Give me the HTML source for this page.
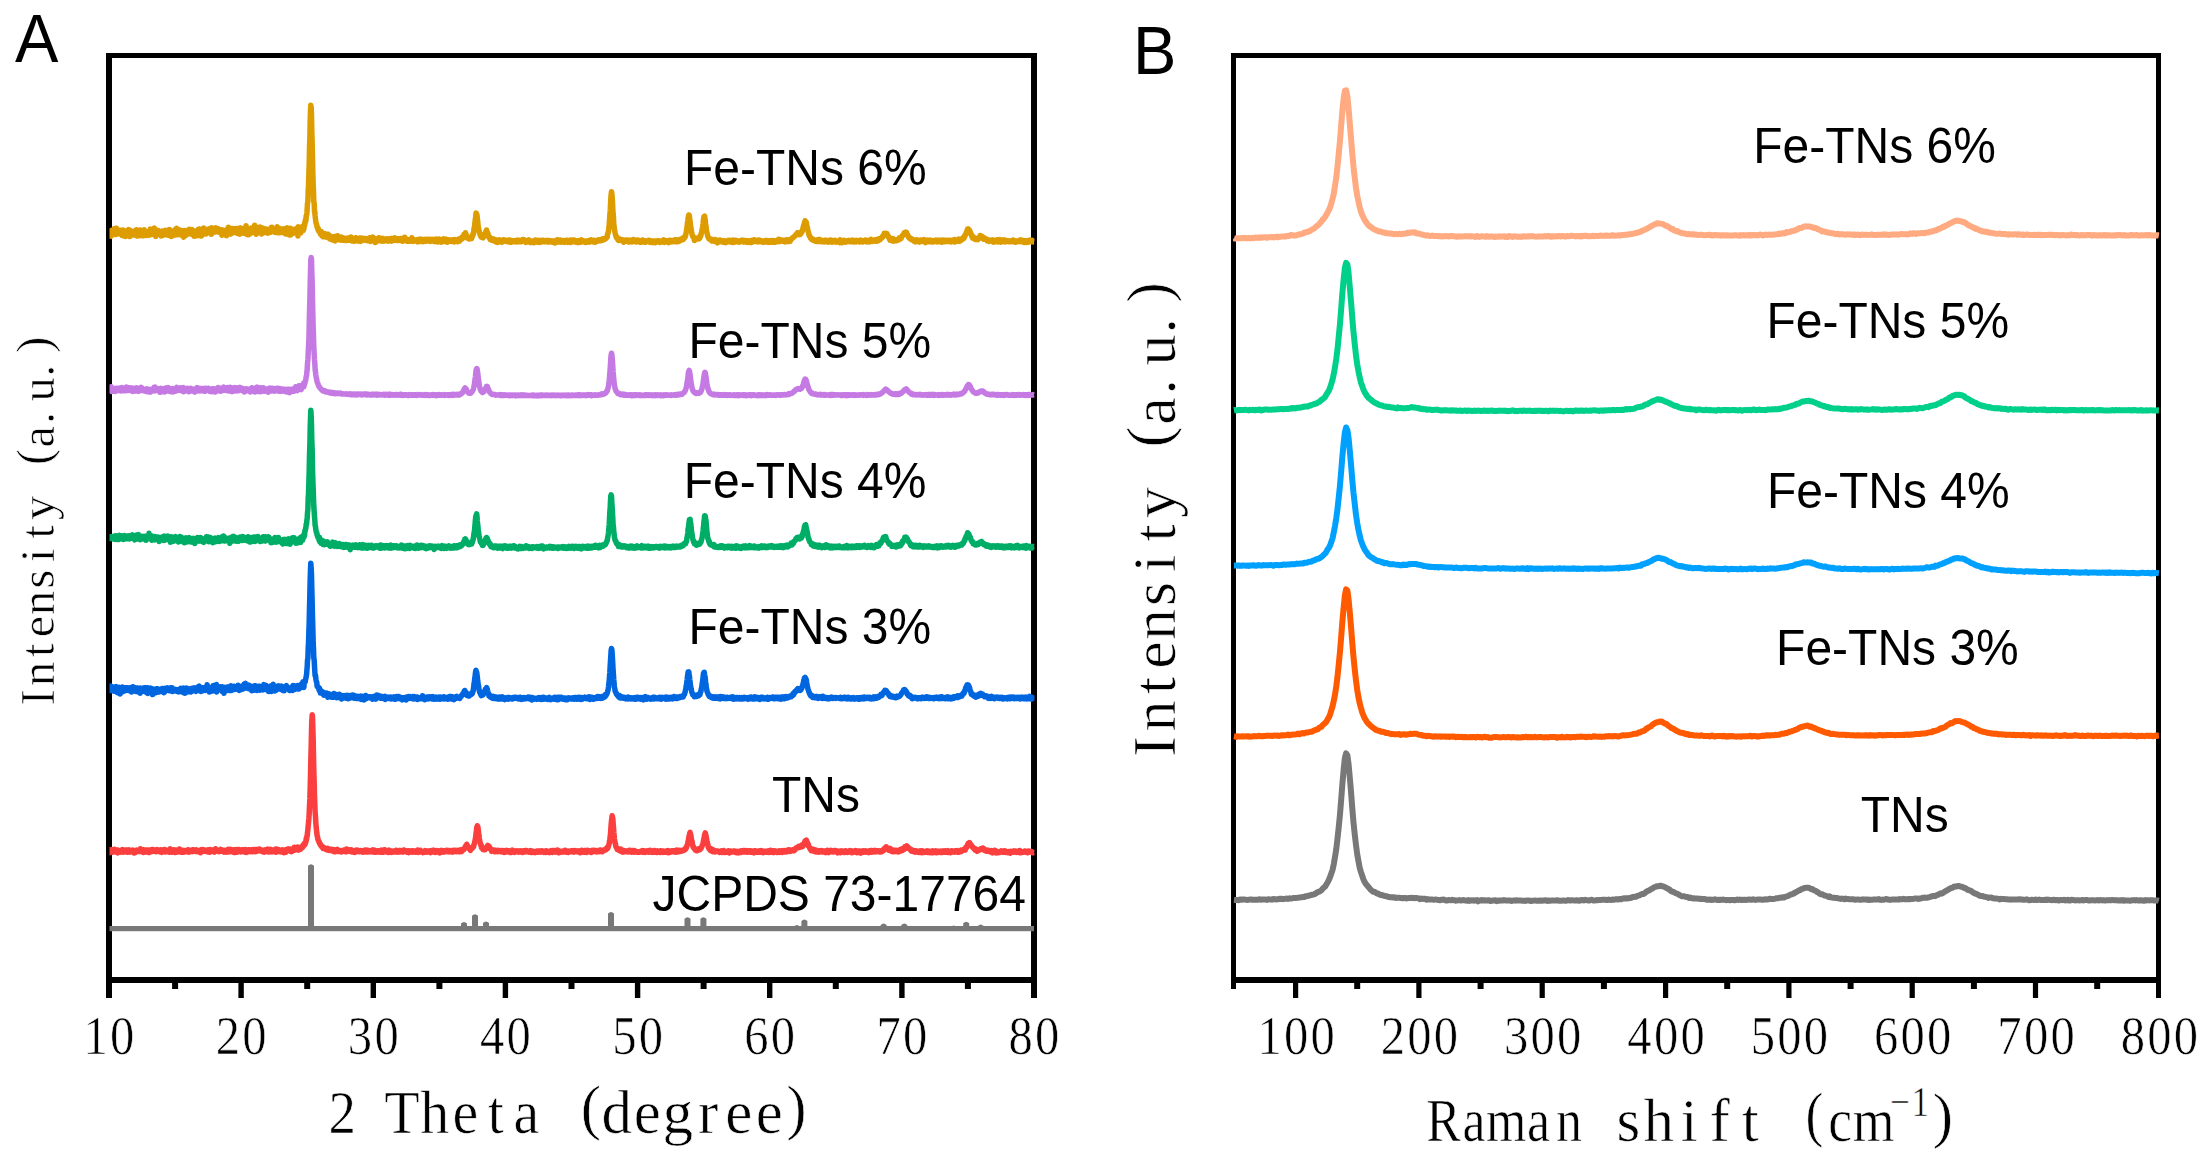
<!DOCTYPE html>
<html lang="en"><head><meta charset="utf-8"><title>XRD and Raman of TNs and Fe-TNs</title>
<style>html,body{margin:0;padding:0;background:#fff}svg{display:block}</style></head>
<body>
<svg width="2210" height="1165" viewBox="0 0 2210 1165">
<rect width="2210" height="1165" fill="#fff"/>
<g fill="#000">
<rect x="106" y="53" width="6" height="945"/><rect x="1031" y="53" width="6" height="945"/><rect x="106" y="53" width="931" height="5"/><rect x="106" y="977" width="931" height="6"/>
<rect x="238.4" y="980" width="5.4" height="18"/>
<rect x="370.6" y="980" width="5.4" height="18"/>
<rect x="502.7" y="980" width="5.4" height="18"/>
<rect x="634.9" y="980" width="5.4" height="18"/>
<rect x="767" y="980" width="5.4" height="18"/>
<rect x="899.2" y="980" width="5.4" height="18"/>
<rect x="172.1" y="980" width="6" height="9"/>
<rect x="304.2" y="980" width="6" height="9"/>
<rect x="436.4" y="980" width="6" height="9"/>
<rect x="568.5" y="980" width="6" height="9"/>
<rect x="700.6" y="980" width="6" height="9"/>
<rect x="832.8" y="980" width="6" height="9"/>
<rect x="964.9" y="980" width="6" height="9"/>
<rect x="1231" y="53" width="5" height="936"/><rect x="2156" y="53" width="5" height="945"/><rect x="1231" y="53" width="930" height="5"/><rect x="1231" y="977" width="930" height="6"/>
<rect x="1293" y="980" width="5.2" height="18"/>
<rect x="1416.3" y="980" width="5.2" height="18"/>
<rect x="1539.6" y="980" width="5.2" height="18"/>
<rect x="1663" y="980" width="5.2" height="18"/>
<rect x="1786.3" y="980" width="5.2" height="18"/>
<rect x="1909.6" y="980" width="5.2" height="18"/>
<rect x="2032.9" y="980" width="5.2" height="18"/>
<rect x="1354.2" y="980" width="6" height="9"/>
<rect x="1477.6" y="980" width="6" height="9"/>
<rect x="1600.9" y="980" width="6" height="9"/>
<rect x="1724.2" y="980" width="6" height="9"/>
<rect x="1847.6" y="980" width="6" height="9"/>
<rect x="1970.9" y="980" width="6" height="9"/>
<rect x="2094.2" y="980" width="6" height="9"/>
</g>
<defs><clipPath id="ca"><rect x="109.5" y="58" width="925" height="920"/></clipPath><clipPath id="cb"><rect x="1233" y="58" width="926.5" height="920"/></clipPath></defs>
<g id="xrd" clip-path="url(#ca)">
<rect x="109" y="926" width="925" height="5.2" fill="#787878"/>
<path d="M308 929V865.8q3 -3 6 0V929z" fill="#787878"/>
<path d="M461 929V923.5q3 -3 6 0V929z" fill="#787878"/>
<path d="M472 929V915.8q3 -3 6 0V929z" fill="#787878"/>
<path d="M483 929V923q3 -3 6 0V929z" fill="#787878"/>
<path d="M608 929V913.4q3 -3 6 0V929z" fill="#787878"/>
<path d="M684.5 929V918.8q3 -3 6 0V929z" fill="#787878"/>
<path d="M700.4 929V918.8q3 -3 6 0V929z" fill="#787878"/>
<path d="M793.8 929V926.5q3 -3 6 0V929z" fill="#787878"/>
<path d="M801.4 929V921q3 -3 6 0V929z" fill="#787878"/>
<path d="M880.6 929V924.9q3 -3 6 0V929z" fill="#787878"/>
<path d="M901.3 929V924.9q3 -3 6 0V929z" fill="#787878"/>
<path d="M950.6 929V927.1q3 -3 6 0V929z" fill="#787878"/>
<path d="M963.2 929V923.2q3 -3 6 0V929z" fill="#787878"/>
<path d="M977.7 929V926q3 -3 6 0V929z" fill="#787878"/>
<polyline fill="none" stroke="#fb3f3f" stroke-width="5.5" stroke-linejoin="round" points="109,851.9 109.3,849.5 109.7,852.7 110,850.3 110.3,851.5 110.7,850.5 111,851.2 111.3,849.8 111.6,850.9 112,849.7 112.3,850.4 112.6,851 113,852.2 113.3,850.3 113.6,850 114,849.6 114.3,851.2 114.6,849.2 114.9,850.8 115.3,849.8 115.6,851.2 115.9,850.8 116.3,852 116.6,850.2 116.9,852.4 117.3,850 117.6,853 117.9,850.1 118.3,852 118.6,850.6 118.9,851.9 119.2,851.7 119.6,850.9 119.9,851.5 120.2,850.8 120.6,850.9 120.9,852.1 121.2,850.8 121.6,851.1 121.9,850 122.2,850.8 122.5,849.6 122.9,852 123.2,850.6 123.5,852.2 123.9,850.2 124.2,850.1 124.5,850.5 124.9,851.6 125.2,850.7 125.5,851.5 125.8,850 126.2,851.8 126.5,850.1 126.8,852.2 127.2,850 127.5,852.2 127.8,850.6 128.2,852.1 128.5,850.6 128.8,851.6 129.2,849.9 129.5,850.5 129.8,851.1 130.1,852.2 130.5,850.8 130.8,851 131.1,850.9 131.5,851.7 131.8,850.2 132.1,850.4 132.5,850.3 132.8,850.7 133.1,850.2 133.4,851.5 133.8,851 134.1,853 134.4,851 134.8,852.9 135.1,851.3 135.4,851.2 135.8,850.7 136.1,851.3 136.4,851.4 136.8,850.1 137.1,850.6 137.4,851.4 137.7,850.8 138.1,850.8 138.4,850.9 138.7,851.5 139.1,850.7 139.4,850.8 139.7,850.8 140.1,851.1 140.4,848.8 140.7,851.6 141,850.5 141.4,851.1 141.7,850.5 142,851.1 142.4,849.6 142.7,850.8 143,850.1 143.4,852.5 143.7,849.8 144,851.9 144.3,850.6 144.7,851.5 145,850.6 145.3,851.7 145.7,850.2 146,852.1 146.3,850 146.7,851.6 147,851.1 147.3,851.6 147.7,850 148,852 148.3,850.5 148.6,852.4 149,850.4 149.3,852.6 149.6,850.2 150,851.3 150.3,850.4 150.6,851.4 151,849.9 151.3,851.5 151.6,850.8 151.9,851.3 152.3,849.5 152.6,851 152.9,849.5 153.3,850.9 153.6,849.7 153.9,851.2 154.3,850.6 154.6,851 154.9,850.6 155.3,850.9 155.6,850.7 155.9,851.7 156.2,850 156.6,850.4 156.9,849.6 157.2,851.6 157.6,849.7 157.9,851.6 158.2,850.6 158.6,850.7 158.9,850.7 159.2,850.8 159.5,851.2 159.9,851.5 160.2,850.2 160.5,852.1 160.9,849.7 161.2,850.4 161.5,851.4 161.9,852.3 162.2,851.7 162.5,851.4 162.8,850.4 163.2,851 163.5,850.3 163.8,851.3 164.2,849.5 164.5,851.6 164.8,849.4 165.2,852 165.5,850.8 165.8,851.7 166.2,850.7 166.5,851.6 166.8,850.2 167.1,851.6 167.5,850.3 167.8,851.3 168.1,851.7 168.5,851.6 168.8,851 169.1,852.1 169.5,851.1 169.8,852.2 170.1,848.7 170.4,852 170.8,850.6 171.1,851 171.4,850.6 171.8,852.3 172.1,850 172.4,851.8 172.8,850.6 173.1,851.9 173.4,850.2 173.8,851.6 174.1,849.7 174.4,850.6 174.7,850.2 175.1,852.5 175.4,851.3 175.7,851.9 176.1,851.3 176.4,851.4 176.7,850.3 177.1,852.1 177.4,850.2 177.7,851.4 178,849.7 178.4,850.7 178.7,850.4 179,850.6 179.4,849 179.7,851.9 180,850.2 180.4,851 180.7,849.7 181,851 181.3,852.1 181.7,852 182,850.7 182.3,851.7 182.7,850.5 183,852.2 183.3,850.6 183.7,852 184,850.4 184.3,852.1 184.7,851.3 185,851.9 185.3,851 185.6,851.3 186,850.6 186.3,851.5 186.6,850.8 187,851.7 187.3,850.1 187.6,851.1 188,851.1 188.3,852 188.6,849.8 188.9,852.2 189.3,850.1 189.6,851.7 189.9,850.6 190.3,851.2 190.6,851 190.9,851.2 191.3,850.5 191.6,851.5 191.9,851 192.3,851.5 192.6,849.8 192.9,851.3 193.2,849.7 193.6,851.3 193.9,850.6 194.2,850.7 194.6,851 194.9,850.8 195.2,850.1 195.6,851.5 195.9,850.2 196.2,851.1 196.5,849.9 196.9,851.2 197.2,850.9 197.5,850.7 197.9,851.6 198.2,851.5 198.5,850.6 198.9,850.5 199.2,850.8 199.5,852.3 199.8,850.5 200.2,852.3 200.5,852.7 200.8,851 201.2,850.2 201.5,851.3 201.8,849.6 202.2,851.5 202.5,849.7 202.8,851.3 203.2,849.6 203.5,851.1 203.8,850.2 204.1,851.3 204.5,850.5 204.8,851 205.1,850.1 205.5,850.7 205.8,851 206.1,850.9 206.5,850.5 206.8,851.6 207.1,851.2 207.4,850.6 207.8,849.9 208.1,852.1 208.4,850.3 208.8,850.6 209.1,851.8 209.4,852.2 209.8,849.5 210.1,851.9 210.4,850.4 210.8,851.5 211.1,850.7 211.4,851 211.7,850 212.1,851 212.4,850.7 212.7,851.5 213.1,851.2 213.4,850.4 213.7,851.5 214.1,851 214.4,850.8 214.7,852.1 215,850.8 215.4,850.8 215.7,848.8 216,850.1 216.4,850.4 216.7,850.8 217,850.1 217.4,850.6 217.7,850 218,850.6 218.3,850.9 218.7,851.1 219,851.5 219.3,851.2 219.7,850.7 220,851.5 220.3,850 220.7,849.5 221,850.3 221.3,851.2 221.7,850 222,850.3 222.3,850.4 222.6,850.9 223,850.4 223.3,851.3 223.6,850.6 224,852.1 224.3,850.8 224.6,851.9 225,850.3 225.3,851.7 225.6,851.6 225.9,851.8 226.3,850.6 226.6,852.2 226.9,849.9 227.3,851.2 227.6,849.9 227.9,852 228.3,849.3 228.6,851.5 228.9,850.5 229.3,851.6 229.6,850.7 229.9,851.7 230.2,851.2 230.6,851 230.9,849.4 231.2,851.6 231.6,850.4 231.9,851.5 232.2,851.3 232.6,850.9 232.9,850.2 233.2,852.2 233.5,849.7 233.9,852.4 234.2,850.7 234.5,851.5 234.9,849.8 235.2,852.6 235.5,850.7 235.9,851.1 236.2,849.9 236.5,851.9 236.8,849.5 237.2,852.3 237.5,850.6 237.8,851.8 238.2,850.4 238.5,850.5 238.8,849.5 239.2,851.1 239.5,850.3 239.8,849.9 240.2,850.6 240.5,851.2 240.8,851.9 241.1,851 241.5,849.9 241.8,851.6 242.1,849.8 242.5,851.3 242.8,851.1 243.1,851.2 243.5,849.8 243.8,852 244.1,850.1 244.4,852.1 244.8,851 245.1,851.7 245.4,849.5 245.8,851.7 246.1,850.6 246.4,852.6 246.8,850 247.1,851.4 247.4,850.9 247.8,852 248.1,849.7 248.4,850.3 248.7,850.3 249.1,850.9 249.4,849.7 249.7,851.6 250.1,850.3 250.4,851.6 250.7,850.2 251.1,851.4 251.4,851.4 251.7,851.1 252,850.4 252.4,851.6 252.7,849.5 253,850.3 253.4,850.5 253.7,850.7 254,850.4 254.4,851.3 254.7,849.6 255,851.8 255.3,850.5 255.7,850.2 256,849.5 256.3,851.5 256.7,849.6 257,851.4 257.3,850.7 257.7,850 258,850.2 258.3,850.5 258.7,850.4 259,850.6 259.3,849 259.6,849.9 260,849.5 260.3,850.9 260.6,849.6 261,850.6 261.3,849.8 261.6,851.2 262,851 262.3,851.6 262.6,850.3 262.9,851.4 263.3,850.7 263.6,851 263.9,850.9 264.3,852.2 264.6,850.7 264.9,851.6 265.3,849.7 265.6,850.4 265.9,849.9 266.3,850.9 266.6,849.9 266.9,850.6 267.2,851.7 267.6,850.9 267.9,849.1 268.2,851.9 268.6,849.7 268.9,851.9 269.2,850.3 269.6,850.2 269.9,850.2 270.2,850.5 270.5,849.3 270.9,851.9 271.2,849.5 271.5,851.8 271.9,850.2 272.2,851.5 272.5,850.2 272.9,850.3 273.2,851.6 273.5,850.2 273.8,850 274.2,850.7 274.5,850.3 274.8,850.9 275.2,851.9 275.5,851.5 275.8,849.1 276.2,852.2 276.5,850.5 276.8,849.9 277.2,849.1 277.5,850.8 277.8,850.1 278.1,851.4 278.5,851.5 278.8,850.8 279.1,849.7 279.5,851.2 279.8,850.4 280.1,851.2 280.5,850.1 280.8,852 281.1,851 281.4,851 281.8,851 282.1,850.3 282.4,850 282.8,851 283.1,850.3 283.4,850.6 283.8,850.4 284.1,852.8 284.4,850.1 284.8,851.6 285.1,850.2 285.4,850.3 285.7,850 286.1,852.2 286.4,849.5 286.7,850.8 287.1,849.9 287.4,849.7 287.7,849.6 288.1,850.1 288.4,848.9 288.7,850.2 289,849.5 289.4,849.6 289.7,850.2 290,850.8 290.4,850.5 290.7,851.5 291,849.1 291.4,851.7 291.7,849.4 292,851.6 292.3,849.8 292.7,849.7 293,849.2 293.3,850.4 293.7,849.5 294,850.2 294.3,847.3 294.7,849.6 295,848.7 295.3,850.1 295.7,848.6 296,848.8 296.3,848.2 296.6,848.8 297,849.3 297.3,849.5 297.6,846.9 298,849.6 298.3,848.4 298.6,850.1 299,849.1 299.3,849.6 299.6,848.4 299.9,847.4 300.3,847.6 300.6,849.2 300.9,847.9 301.3,847.7 301.6,847 301.9,847 302.3,846.8 302.6,847.3 302.9,845.3 303.3,845.7 303.6,845.8 303.9,844.8 304.2,843.6 304.6,845.1 304.9,843.3 305.2,844.1 305.6,841.8 305.9,842.2 306.2,838.2 306.6,839.8 306.9,836 307.2,835.9 307.5,832.3 307.9,829.7 308.2,825.7 308.5,822.7 308.9,818.4 309.2,813.6 309.5,805.8 309.9,798.4 310.2,787.4 310.5,775.6 310.8,760.1 311.2,746 311.5,731.5 311.8,720.9 312.2,714.8 312.5,716.7 312.8,726.7 313.2,740.4 313.5,755.8 313.8,769.5 314.2,782.8 314.5,795.7 314.8,803.9 315.1,811.6 315.5,816.6 315.8,822.6 316.1,826.4 316.5,830.1 316.8,833.2 317.1,835.7 317.5,836.5 317.8,839.1 318.1,839.4 318.4,840.7 318.8,841.4 319.1,842.7 319.4,842 319.8,843.9 320.1,844.2 320.4,845.1 320.8,845.2 321.1,845 321.4,846.2 321.8,846.9 322.1,846.7 322.4,846.9 322.7,846.8 323.1,848.5 323.4,847 323.7,848.2 324.1,847.8 324.4,848.8 324.7,847.9 325.1,848.5 325.4,848.6 325.7,849.2 326,848.4 326.4,849.6 326.7,849.8 327,849.9 327.4,849.3 327.7,849.9 328,848.4 328.4,849.7 328.7,849.8 329,850.5 329.3,849.6 329.7,849.7 330,849.4 330.3,849.3 330.7,849.3 331,849.6 331.3,849.8 331.7,850.5 332,849.4 332.3,851 332.7,849.8 333,851.3 333.3,850.2 333.6,850.8 334,849.7 334.3,851.8 334.6,850.6 335,851.1 335.3,850.6 335.6,851.6 336,850 336.3,850.6 336.6,849.8 336.9,849.8 337.3,849.5 337.6,851.3 337.9,850.7 338.3,850.9 338.6,851 338.9,851.6 339.3,850.9 339.6,850.7 339.9,850.5 340.3,850.6 340.6,851.6 340.9,851.1 341.2,851.1 341.6,852 341.9,851.1 342.2,851.2 342.6,850.5 342.9,850.6 343.2,850.5 343.6,851.2 343.9,850.1 344.2,851.1 344.5,851.2 344.9,850.8 345.2,850.2 345.5,851.6 345.9,850.1 346.2,851.9 346.5,849.1 346.9,850.3 347.2,850.4 347.5,850.6 347.8,850.8 348.2,851.1 348.5,850.4 348.8,851.2 349.2,850.5 349.5,849.9 349.8,850.9 350.2,850.7 350.5,851.2 350.8,851.2 351.2,849.7 351.5,851.9 351.8,852 352.1,851.1 352.5,850.7 352.8,851 353.1,850.7 353.5,851.8 353.8,851.2 354.1,851.8 354.5,851.6 354.8,852.5 355.1,850.5 355.4,851.8 355.8,850.8 356.1,851.6 356.4,850.1 356.8,851.4 357.1,851.1 357.4,850.2 357.8,851.4 358.1,851.1 358.4,850.7 358.8,851.4 359.1,850.7 359.4,851.6 359.7,851.2 360.1,850.9 360.4,850.6 360.7,850.7 361.1,851.1 361.4,851.6 361.7,851.2 362.1,850.8 362.4,852 362.7,852.2 363,851.8 363.4,851.6 363.7,851.4 364,851.9 364.4,850.2 364.7,850.9 365,850 365.4,850.5 365.7,851 366,851.8 366.3,850.6 366.7,850.8 367,850 367.3,852 367.7,850.2 368,851.3 368.3,851.1 368.7,851.9 369,850.7 369.3,850.8 369.7,850.6 370,851.8 370.3,851.2 370.6,851.3 371,850.8 371.3,851.6 371.6,851.7 372,851.9 372.3,850.4 372.6,851.3 373,849.8 373.3,850.4 373.6,850.4 373.9,850.7 374.3,851 374.6,852.3 374.9,850.3 375.3,852.2 375.6,850.6 375.9,852.3 376.3,850.8 376.6,851.7 376.9,851.1 377.3,851.9 377.6,850.7 377.9,851.4 378.2,851.1 378.6,851.8 378.9,850.9 379.2,851 379.6,850.9 379.9,851.3 380.2,850.8 380.6,852.1 380.9,851 381.2,851.5 381.5,850.1 381.9,851.1 382.2,851.1 382.5,851.3 382.9,851 383.2,852.3 383.5,850.5 383.9,850.9 384.2,849.8 384.5,851.5 384.8,849.8 385.2,851.5 385.5,850.5 385.8,850.8 386.2,851.9 386.5,851.5 386.8,851.3 387.2,850.7 387.5,850.6 387.8,851.1 388.2,850.8 388.5,852.5 388.8,850.3 389.1,851.6 389.5,850.4 389.8,851.9 390.1,851 390.5,852.1 390.8,851.3 391.1,851.5 391.5,851.1 391.8,852.4 392.1,851.4 392.4,851.5 392.8,851.2 393.1,851 393.4,851.3 393.8,851.9 394.1,851.3 394.4,852 394.8,852 395.1,851.4 395.4,851.6 395.8,851.2 396.1,850.2 396.4,852 396.7,850.9 397.1,851.6 397.4,851.7 397.7,852 398.1,850.9 398.4,851.4 398.7,851 399.1,851.4 399.4,851.9 399.7,851 400,850.4 400.4,851.9 400.7,850.9 401,851.4 401.4,850.8 401.7,850.6 402,851.5 402.4,851.6 402.7,851.5 403,852 403.3,851.3 403.7,851.5 404,850 404.3,851.4 404.7,851.1 405,851.1 405.3,850.5 405.7,851.8 406,851.1 406.3,851.1 406.7,851.1 407,851.4 407.3,852.2 407.6,851 408,850.8 408.3,851.8 408.6,850.9 409,852.6 409.3,851 409.6,851.8 410,851.6 410.3,851.8 410.6,851.1 410.9,851.7 411.3,851.1 411.6,851.7 411.9,851 412.3,852.1 412.6,850.7 412.9,851.9 413.3,850.9 413.6,852 413.9,851.3 414.3,851.4 414.6,851.6 414.9,851 415.2,851.5 415.6,852.1 415.9,851 416.2,851.1 416.6,851 416.9,851.1 417.2,851 417.6,851.7 417.9,850 418.2,852.5 418.5,851.2 418.9,851.5 419.2,850.5 419.5,851.7 419.9,851.2 420.2,851.8 420.5,850.3 420.9,851.8 421.2,851.4 421.5,852 421.8,852 422.2,852.2 422.5,851.5 422.8,851.9 423.2,852.6 423.5,851.6 423.8,851.8 424.2,852.2 424.5,851.7 424.8,852 425.2,850.6 425.5,851.7 425.8,851.2 426.1,851.7 426.5,851.2 426.8,852.2 427.1,852.2 427.5,851.8 427.8,851.3 428.1,851.1 428.5,851.2 428.8,851.3 429.1,851.4 429.4,851.9 429.8,850.9 430.1,851.8 430.4,851.9 430.8,852.6 431.1,851.3 431.4,852.3 431.8,850.6 432.1,852 432.4,851 432.8,851.1 433.1,850.4 433.4,851.5 433.7,850.2 434.1,851.5 434.4,851.3 434.7,851.3 435.1,852.5 435.4,852.2 435.7,851.1 436.1,851.3 436.4,850.6 436.7,851.9 437,851.1 437.4,851.3 437.7,851.1 438,851.3 438.4,851.7 438.7,850.7 439,851.6 439.4,852.7 439.7,851.4 440,852.9 440.3,851.5 440.7,852.4 441,851.8 441.3,851.1 441.7,850.5 442,851.7 442.3,850.8 442.7,851.8 443,850.9 443.3,851.9 443.7,850.8 444,852.1 444.3,851.1 444.6,851.8 445,851.2 445.3,851.5 445.6,850.5 446,850.4 446.3,850.3 446.6,851.2 447,850.9 447.3,850.5 447.6,850.3 447.9,851.7 448.3,850.5 448.6,851.2 448.9,851.1 449.3,851.8 449.6,850.7 449.9,851 450.3,850.6 450.6,851.4 450.9,851 451.3,851.5 451.6,851.4 451.9,850.9 452.2,850.7 452.6,852.2 452.9,851.3 453.2,851.2 453.6,850.4 453.9,850.7 454.2,850.9 454.6,851.4 454.9,850.3 455.2,850.8 455.5,850.5 455.9,850.9 456.2,851.6 456.5,851.2 456.9,850.7 457.2,851.4 457.5,850.9 457.9,850.9 458.2,850.3 458.5,851.8 458.8,850.6 459.2,851 459.5,850.8 459.8,851.8 460.2,850.2 460.5,851.5 460.8,849.9 461.2,850.9 461.5,850 461.8,851.5 462.2,850.6 462.5,849.5 462.8,849.9 463.1,849.4 463.5,848.9 463.8,849.6 464.1,848.3 464.5,848.2 464.8,847.8 465.1,847.3 465.5,846.1 465.8,847 466.1,845.7 466.4,845.8 466.8,844.2 467.1,845.8 467.4,845.9 467.8,846.8 468.1,846.7 468.4,848.1 468.8,847.7 469.1,848.9 469.4,848.9 469.8,849.4 470.1,848.3 470.4,850.5 470.7,848.6 471.1,849.3 471.4,848.7 471.7,848.7 472.1,847.6 472.4,848 472.7,847.7 473.1,846.5 473.4,847 473.7,846.3 474,844.4 474.4,843.7 474.7,841.8 475,840.8 475.4,838.6 475.7,836.8 476,833.7 476.4,831.2 476.7,828.1 477,827.1 477.3,825.8 477.7,826.6 478,827.6 478.3,830.4 478.7,833.7 479,834.8 479.3,837.8 479.7,840.6 480,841.8 480.3,843.2 480.7,844.9 481,845.6 481.3,845.3 481.6,847.8 482,848.3 482.3,848.6 482.6,848 483,849.4 483.3,848.6 483.6,849.1 484,848.4 484.3,849.8 484.6,848.4 484.9,849.7 485.3,848.6 485.6,849 485.9,848 486.3,848.4 486.6,847.4 486.9,847.4 487.3,846.2 487.6,846.9 487.9,845.4 488.3,845.7 488.6,846.5 488.9,847.5 489.2,846.4 489.6,848.5 489.9,848.3 490.2,848.8 490.6,849.3 490.9,850 491.2,848.9 491.6,851.4 491.9,850.3 492.2,850.3 492.5,851 492.9,850.3 493.2,850.4 493.5,851 493.9,850.3 494.2,850.1 494.5,850 494.9,851.8 495.2,850.4 495.5,850.9 495.8,850.9 496.2,850.8 496.5,850.9 496.8,850.6 497.2,850.3 497.5,851.7 497.8,851.5 498.2,850.7 498.5,850.6 498.8,851.1 499.2,851.1 499.5,851.3 499.8,851.4 500.1,851.3 500.5,850.7 500.8,851.6 501.1,851 501.5,851.8 501.8,850.6 502.1,851.4 502.5,851.3 502.8,851.5 503.1,850.6 503.4,851.7 503.8,851.6 504.1,852.5 504.4,852.2 504.8,851.1 505.1,851.3 505.4,852.1 505.8,850.9 506.1,851.2 506.4,850.4 506.8,851.7 507.1,850.6 507.4,851.7 507.7,851.1 508.1,852.1 508.4,852.1 508.7,850.7 509.1,851.2 509.4,851.2 509.7,851.2 510.1,852.3 510.4,851.8 510.7,851.4 511,851.1 511.4,852.4 511.7,851 512,851.8 512.4,850.1 512.7,850.4 513,851 513.4,852 513.7,851.6 514,851.5 514.3,851.7 514.7,852.4 515,851.3 515.3,851.5 515.7,851.2 516,851.1 516.3,850.8 516.7,851.6 517,851.2 517.3,851.2 517.7,851.5 518,851.7 518.3,851.7 518.6,852.1 519,850.8 519.3,851.8 519.6,851.1 520,852 520.3,851.1 520.6,851.6 521,851 521.3,851.9 521.6,851.2 521.9,852.3 522.3,851.7 522.6,852.4 522.9,851.1 523.3,851.3 523.6,851 523.9,851.7 524.3,851.3 524.6,851.3 524.9,852 525.3,850.6 525.6,850.9 525.9,851.7 526.2,850.5 526.6,851.7 526.9,850.6 527.2,851.2 527.6,851.2 527.9,851.5 528.2,851.4 528.6,851.6 528.9,852.1 529.2,852 529.5,851.1 529.9,851.7 530.2,851.4 530.5,851.7 530.9,850.7 531.2,852.4 531.5,851.5 531.9,852.5 532.2,851.6 532.5,851 532.8,851.1 533.2,852.2 533.5,851.9 533.8,851.4 534.2,851.9 534.5,852.5 534.8,851.9 535.2,852.5 535.5,851.4 535.8,851.4 536.2,852 536.5,851.6 536.8,851 537.1,852.3 537.5,851.3 537.8,851.5 538.1,851.2 538.5,852.1 538.8,851.2 539.1,851.9 539.5,852 539.8,851.8 540.1,851 540.4,852.1 540.8,851.5 541.1,851.1 541.4,850.8 541.8,851.1 542.1,851.3 542.4,851.8 542.8,851.2 543.1,851.8 543.4,851.7 543.8,852.3 544.1,851.2 544.4,851.5 544.7,852.2 545.1,851.7 545.4,851.3 545.7,852.5 546.1,850.7 546.4,852.2 546.7,851 547.1,852.2 547.4,851.4 547.7,852.2 548,852 548.4,852.2 548.7,851.9 549,852.5 549.4,851.2 549.7,852.6 550,851 550.4,851.4 550.7,851.2 551,851.7 551.3,850.6 551.7,851.6 552,852.4 552.3,852.5 552.7,850.5 553,851.5 553.3,850.5 553.7,851.7 554,850.9 554.3,851.7 554.7,851.2 555,852 555.3,850.5 555.6,852.1 556,850.9 556.3,851.1 556.6,850.3 557,851.7 557.3,851 557.6,851.9 558,850.1 558.3,851.4 558.6,851.5 558.9,852.8 559.3,852 559.6,852.5 559.9,851.4 560.3,851.7 560.6,851.8 560.9,851.3 561.3,851.7 561.6,852 561.9,852.2 562.3,852.1 562.6,851.5 562.9,851.2 563.2,851.4 563.6,851 563.9,851.4 564.2,851.8 564.6,850.9 564.9,851.8 565.2,850.3 565.6,851.8 565.9,851 566.2,852.1 566.5,851.1 566.9,852.2 567.2,851.8 567.5,851.8 567.9,851.3 568.2,852.5 568.5,851.3 568.9,851.8 569.2,851.3 569.5,851.7 569.8,851.3 570.2,851.7 570.5,851.4 570.8,851.3 571.2,851.4 571.5,850.9 571.8,851.7 572.2,851.3 572.5,850.8 572.8,851.8 573.2,850.6 573.5,851.8 573.8,851.6 574.1,852 574.5,851 574.8,850.9 575.1,850.7 575.5,851.5 575.8,851.2 576.1,851.3 576.5,851.6 576.8,851.1 577.1,851.4 577.4,851.2 577.8,850.9 578.1,851.9 578.4,852 578.8,851.7 579.1,851.3 579.4,851.1 579.8,850.9 580.1,852.7 580.4,850.7 580.8,851.8 581.1,850.9 581.4,852.5 581.7,850.3 582.1,851.7 582.4,851.2 582.7,850.9 583.1,851.1 583.4,851.9 583.7,851.6 584.1,852.2 584.4,850.7 584.7,852.3 585,850.5 585.4,851.2 585.7,850.7 586,851.3 586.4,851.5 586.7,852.4 587,851.7 587.4,851.7 587.7,850.3 588,851.8 588.3,850.6 588.7,851.5 589,850.8 589.3,851.4 589.7,850.9 590,852 590.3,851.5 590.7,851.8 591,851.4 591.3,852.5 591.7,851.5 592,852 592.3,850.4 592.6,851.8 593,850.7 593.3,850.9 593.6,850.4 594,851 594.3,850.5 594.6,851.3 595,851.5 595.3,850.7 595.6,850.6 595.9,851.8 596.3,851.4 596.6,851.8 596.9,850.6 597.3,851.1 597.6,851.4 597.9,851.4 598.3,850.6 598.6,851.8 598.9,850.5 599.3,851.4 599.6,850.3 599.9,850.6 600.2,850.1 600.6,850.6 600.9,850.2 601.2,851.1 601.6,851.2 601.9,850.6 602.2,851.8 602.6,851 602.9,850.3 603.2,851 603.5,850.1 603.9,850.7 604.2,850 604.5,850.3 604.9,849.9 605.2,849.8 605.5,849.3 605.9,849.7 606.2,848.7 606.5,849 606.8,847.9 607.2,848.8 607.5,847.5 607.8,848.2 608.2,846.8 608.5,846 608.8,844.7 609.2,843.7 609.5,841.3 609.8,839.5 610.2,836.7 610.5,833.4 610.8,829.6 611.1,824.9 611.5,820.8 611.8,818.2 612.1,815.8 612.5,817.3 612.8,818.5 613.1,822.7 613.5,827.2 613.8,832.2 614.1,834.8 614.4,838.8 614.8,840.6 615.1,843.5 615.4,843.5 615.8,846.3 616.1,847.2 616.4,847.4 616.8,847.6 617.1,849.4 617.4,848.5 617.8,849.2 618.1,848.7 618.4,849.5 618.7,849.7 619.1,850.4 619.4,849.7 619.7,850.1 620.1,850.2 620.4,850.8 620.7,848.9 621.1,850.7 621.4,851.5 621.7,850.8 622,850.9 622.4,851.5 622.7,850.7 623,852.1 623.4,850.5 623.7,851 624,851.1 624.4,851.9 624.7,850.7 625,851.5 625.3,850.8 625.7,851.5 626,851.6 626.3,851.6 626.7,851.4 627,851.7 627.3,851.2 627.7,851.9 628,852 628.3,851.2 628.7,851.6 629,851.4 629.3,850.3 629.6,851.8 630,850.9 630.3,850.9 630.6,850.5 631,852 631.3,850.8 631.6,852.3 632,851.1 632.3,851.9 632.6,850.5 632.9,851.8 633.3,851 633.6,851.6 633.9,852.1 634.3,851.5 634.6,850.6 634.9,851.2 635.3,851.2 635.6,851.8 635.9,851.3 636.3,851.5 636.6,851.8 636.9,852.1 637.2,851.7 637.6,852 637.9,852 638.2,852.2 638.6,851.8 638.9,852.3 639.2,852.3 639.6,852.1 639.9,852.1 640.2,851.8 640.5,851.6 640.9,851.7 641.2,851.2 641.5,852 641.9,850.7 642.2,851.8 642.5,850.6 642.9,852.3 643.2,851 643.5,852.2 643.8,850.8 644.2,851.3 644.5,851.4 644.8,851.9 645.2,851.8 645.5,852.4 645.8,851.7 646.2,852 646.5,851.7 646.8,851.8 647.2,850.9 647.5,851.9 647.8,851.7 648.1,851.3 648.5,851.1 648.8,852.3 649.1,850.4 649.5,851.5 649.8,850.5 650.1,850.9 650.5,850.3 650.8,851 651.1,850.8 651.4,851.4 651.8,851.2 652.1,852.4 652.4,851.5 652.8,851.3 653.1,851.9 653.4,852.2 653.8,851.1 654.1,851.8 654.4,850.5 654.8,851.5 655.1,850.9 655.4,852.1 655.7,851.6 656.1,851.6 656.4,851 656.7,852.5 657.1,852 657.4,852.2 657.7,850.9 658.1,851.9 658.4,851.6 658.7,851.6 659,851.3 659.4,851.3 659.7,851.6 660,852.4 660.4,850.9 660.7,851.1 661,850.9 661.4,852.3 661.7,851.1 662,852 662.3,851.6 662.7,852.2 663,851.5 663.3,852.3 663.7,851.2 664,852.1 664.3,851.9 664.7,851.6 665,851.8 665.3,852.1 665.7,851.7 666,851.4 666.3,852.1 666.6,852.3 667,850.9 667.3,851 667.6,851.6 668,850.6 668.3,851.7 668.6,852.8 669,852 669.3,851.8 669.6,851.4 669.9,851.7 670.3,851.4 670.6,852.1 670.9,852 671.3,852 671.6,850.8 671.9,851.5 672.3,851.5 672.6,850.8 672.9,851.4 673.3,851.6 673.6,850.8 673.9,851.9 674.2,850.9 674.6,851.2 674.9,851.1 675.2,851 675.6,851.1 675.9,852.1 676.2,850.4 676.6,850.7 676.9,850 677.2,851.6 677.5,851.2 677.9,851.2 678.2,851.3 678.5,851.9 678.9,851.2 679.2,851.3 679.5,850.3 679.9,850.9 680.2,850.8 680.5,851.4 680.8,850.5 681.2,851.1 681.5,850.5 681.8,851 682.2,850.6 682.5,850.7 682.8,850.4 683.2,850.7 683.5,850.2 683.8,849.8 684.2,850 684.5,849.7 684.8,848.9 685.1,849.6 685.5,849.3 685.8,848.7 686.1,847.4 686.5,847.8 686.8,846.3 687.1,845.3 687.5,844.8 687.8,843.3 688.1,841.2 688.4,840.6 688.8,837.3 689.1,836.5 689.4,834.8 689.8,833.1 690.1,832.4 690.4,834.1 690.8,834.8 691.1,837 691.4,839.1 691.8,841 692.1,841.8 692.4,843.6 692.7,845.4 693.1,847.1 693.4,846.5 693.7,847.6 694.1,848.2 694.4,848.3 694.7,848.8 695.1,849.9 695.4,848.8 695.7,849.9 696,849 696.4,849.4 696.7,849.4 697,850.8 697.4,850.4 697.7,850.3 698,849.9 698.4,849.7 698.7,848.9 699,849.4 699.3,849 699.7,849.8 700,849.4 700.3,848.7 700.7,848.8 701,848.7 701.3,847.4 701.7,847 702,846.4 702.3,845 702.7,844.6 703,844 703.3,842 703.6,840 704,838 704.3,836.8 704.6,834.6 705,833.9 705.3,832.8 705.6,834.3 706,835.6 706.3,837.6 706.6,838.9 706.9,841.9 707.3,842.3 707.6,844.2 707.9,844.5 708.3,847.6 708.6,847.3 708.9,848.7 709.3,847.8 709.6,848.7 709.9,848.8 710.3,850.4 710.6,849.4 710.9,850.7 711.2,848.8 711.6,851 711.9,849.8 712.2,851.1 712.6,850.7 712.9,851.8 713.2,849.8 713.6,851.7 713.9,850.4 714.2,851.4 714.5,851.5 714.9,851.8 715.2,851 715.5,851.4 715.9,850.8 716.2,851 716.5,851.2 716.9,851.5 717.2,851.2 717.5,850.9 717.8,851 718.2,851.2 718.5,851.2 718.8,851.2 719.2,851.7 719.5,852.4 719.8,851.7 720.2,851.5 720.5,851.8 720.8,851.3 721.2,851 721.5,852.2 721.8,851.8 722.1,852.3 722.5,851.3 722.8,851.8 723.1,851.1 723.5,851.9 723.8,850.5 724.1,851.5 724.5,851.4 724.8,852.5 725.1,851.5 725.4,852.4 725.8,851.5 726.1,851.8 726.4,851.8 726.8,851.4 727.1,851.4 727.4,851.7 727.8,851.7 728.1,852.3 728.4,850.8 728.8,851.4 729.1,850.9 729.4,853 729.7,851.3 730.1,851.3 730.4,851.4 730.7,852.4 731.1,851.1 731.4,852.2 731.7,851.2 732.1,851.8 732.4,851.9 732.7,851.5 733,851.7 733.4,851.6 733.7,851.2 734,851.7 734.4,851.1 734.7,851.1 735,851.7 735.4,852.4 735.7,852 736,852.2 736.3,851.3 736.7,852.8 737,851.8 737.3,852.1 737.7,851.3 738,852.1 738.3,852.2 738.7,852.8 739,851.8 739.3,851.3 739.7,851.7 740,851.6 740.3,851.2 740.6,852.5 741,851.7 741.3,852 741.6,850.9 742,852.2 742.3,851.4 742.6,851.7 743,851.2 743.3,851.8 743.6,850.6 743.9,851.6 744.3,850.6 744.6,851.9 744.9,851 745.3,851.9 745.6,850.8 745.9,851.6 746.3,850.5 746.6,851.4 746.9,851.6 747.3,852.2 747.6,851.1 747.9,852 748.2,851.3 748.6,851 748.9,851.5 749.2,851.8 749.6,851.8 749.9,852 750.2,851.1 750.6,851.9 750.9,852.1 751.2,850.9 751.5,851.2 751.9,852.2 752.2,852.2 752.5,851.8 752.9,851.4 753.2,852 753.5,851.3 753.9,852.9 754.2,851.4 754.5,852 754.8,850.7 755.2,851.7 755.5,851.2 755.8,852.4 756.2,851.4 756.5,851.8 756.8,851.4 757.2,851.9 757.5,851.5 757.8,852 758.2,851.6 758.5,852.2 758.8,851.1 759.1,852.2 759.5,850.8 759.8,851.7 760.1,851.3 760.5,852 760.8,850.9 761.1,851.7 761.5,850.6 761.8,852.1 762.1,851.9 762.4,851.8 762.8,851.3 763.1,852.7 763.4,851.4 763.8,852 764.1,851.5 764.4,851.7 764.8,852 765.1,851.5 765.4,852 765.8,851.4 766.1,851.7 766.4,852 766.7,851.4 767.1,852.1 767.4,851 767.7,851.6 768.1,851.6 768.4,851 768.7,851.5 769.1,852.4 769.4,852.2 769.7,852.1 770,851.1 770.4,852.2 770.7,850.3 771,852.3 771.4,851.3 771.7,851.2 772,851.3 772.4,852 772.7,850.7 773,851.3 773.3,851.8 773.7,852.6 774,851.2 774.3,852.1 774.7,850.9 775,851.8 775.3,852 775.7,851.8 776,851.2 776.3,851.6 776.7,852 777,851.7 777.3,852.5 777.6,851.5 778,851.8 778.3,851.8 778.6,851.1 779,851.4 779.3,850.9 779.6,852.4 780,851.1 780.3,851.5 780.6,851.4 780.9,851.8 781.3,850.8 781.6,852.2 781.9,851.1 782.3,852.4 782.6,850.7 782.9,851.8 783.3,850.6 783.6,851.5 783.9,850.8 784.3,851.9 784.6,850.8 784.9,851.9 785.2,850.5 785.6,851.1 785.9,851.2 786.2,851.8 786.6,851.3 786.9,850.8 787.2,851.8 787.6,851.2 787.9,851 788.2,851.4 788.5,849.8 788.9,850.9 789.2,850.9 789.5,850.8 789.9,849.9 790.2,851.5 790.5,850.5 790.9,851 791.2,851 791.5,850.6 791.8,850.2 792.2,850.5 792.5,849.9 792.8,850.4 793.2,849.8 793.5,850.3 793.8,850.4 794.2,850.7 794.5,849.7 794.8,850 795.2,849.2 795.5,848.6 795.8,848.1 796.1,848.3 796.5,847.9 796.8,847.8 797.1,847.4 797.5,847.7 797.8,847 798.1,847.6 798.5,847.7 798.8,846.3 799.1,846.7 799.4,846.9 799.8,846.4 800.1,847.1 800.4,846.6 800.8,846.2 801.1,846.5 801.4,846.2 801.8,845 802.1,846.8 802.4,846.3 802.8,846.4 803.1,844.7 803.4,845.3 803.7,844.8 804.1,844.6 804.4,842.6 804.7,842 805.1,840.9 805.4,840.6 805.7,841 806.1,840.5 806.4,840.2 806.7,841.2 807,841.8 807.4,842.6 807.7,843.8 808,845.6 808.4,844.4 808.7,845.8 809,846.3 809.4,847.6 809.7,847.8 810,848.6 810.3,849.4 810.7,849.1 811,849.7 811.3,850.8 811.7,849.5 812,850.3 812.3,849.6 812.7,849.9 813,849.1 813.3,850.8 813.7,850.3 814,851.4 814.3,850.5 814.6,850.5 815,850.6 815.3,851.5 815.6,849.9 816,852 816.3,850.4 816.6,851.6 817,850.6 817.3,851.5 817.6,850.6 817.9,851.9 818.3,850.8 818.6,851.7 818.9,851.5 819.3,852.2 819.6,851.1 819.9,851.6 820.3,850.8 820.6,851.6 820.9,851.8 821.3,851.8 821.6,850.6 821.9,852 822.2,850.7 822.6,851.8 822.9,851 823.2,851.5 823.6,851.2 823.9,851.4 824.2,851.1 824.6,851.1 824.9,851.6 825.2,852.3 825.5,851.7 825.9,852.6 826.2,851.3 826.5,851.6 826.9,850.6 827.2,852.2 827.5,850.3 827.9,851.9 828.2,851.4 828.5,852.6 828.8,851.6 829.2,852 829.5,851.8 829.8,851.7 830.2,851.7 830.5,851.2 830.8,850.4 831.2,851 831.5,851.7 831.8,851.7 832.2,851.9 832.5,851.4 832.8,851.3 833.1,852 833.5,851 833.8,850.6 834.1,851.6 834.5,851.4 834.8,851.5 835.1,850.5 835.5,851.3 835.8,851.3 836.1,851.8 836.4,851.9 836.8,851 837.1,851.6 837.4,851.2 837.8,852.9 838.1,851.4 838.4,851.9 838.8,851.2 839.1,852.5 839.4,852 839.8,852 840.1,852 840.4,852.7 840.7,851.5 841.1,851.9 841.4,850.9 841.7,851.4 842.1,851.5 842.4,851.8 842.7,851.9 843.1,851.4 843.4,851.3 843.7,852.4 844,851.1 844.4,852.3 844.7,852.4 845,851.5 845.4,850.8 845.7,851.8 846,850.8 846.4,851.8 846.7,851.6 847,852.4 847.3,852.4 847.7,851.6 848,851.6 848.3,851.3 848.7,851.4 849,851.7 849.3,851.1 849.7,851.7 850,850.6 850.3,851.2 850.7,851.4 851,851.5 851.3,850.8 851.6,852.7 852,852.1 852.3,851.8 852.6,852.3 853,852.4 853.3,851.4 853.6,851.5 854,852 854.3,851.9 854.6,851 854.9,851.9 855.3,851.5 855.6,850.6 855.9,851.7 856.3,851.3 856.6,851.2 856.9,852.7 857.3,852.7 857.6,851.9 857.9,851.3 858.3,851.9 858.6,851.7 858.9,852.3 859.2,851 859.6,852.7 859.9,852.2 860.2,852.2 860.6,851.9 860.9,853.1 861.2,851.1 861.6,852 861.9,851.1 862.2,852.1 862.5,851.4 862.9,852.1 863.2,851.1 863.5,852.1 863.9,850.9 864.2,851.8 864.5,851.1 864.9,851.5 865.2,851.3 865.5,852.2 865.8,850.9 866.2,851.2 866.5,851 866.8,850.9 867.2,851.2 867.5,851.5 867.8,851.8 868.2,852.4 868.5,851.5 868.8,852.7 869.2,851.7 869.5,850.9 869.8,851.9 870.1,851.5 870.5,851.6 870.8,852.1 871.1,850.5 871.5,851.4 871.8,851.1 872.1,851.6 872.5,850.7 872.8,852 873.1,851.1 873.4,852 873.8,851.6 874.1,851.6 874.4,851.7 874.8,851.9 875.1,850.4 875.4,851.2 875.8,851.4 876.1,851.6 876.4,851 876.8,850.8 877.1,851.6 877.4,851.7 877.7,850.8 878.1,851.3 878.4,851.3 878.7,851.4 879.1,850.9 879.4,851.6 879.7,851.3 880.1,852 880.4,851.1 880.7,851.6 881,851 881.4,851 881.7,851 882,851.7 882.4,850.8 882.7,849.9 883,849.9 883.4,850.2 883.7,850.4 884,848.8 884.3,848.8 884.7,849.4 885,848.4 885.3,848.9 885.7,847.2 886,848.7 886.3,846.8 886.7,848.5 887,848.1 887.3,848.3 887.7,848.4 888,849 888.3,848.4 888.6,850.1 889,849.1 889.3,849.3 889.6,850.2 890,850.2 890.3,848.4 890.6,850.7 891,850.1 891.3,851.3 891.6,849.9 891.9,850.6 892.3,850.7 892.6,851.6 892.9,850.8 893.3,851.5 893.6,850.1 893.9,851.3 894.3,851.3 894.6,851.5 894.9,850.7 895.3,851.1 895.6,850.4 895.9,851.5 896.2,851 896.6,850.4 896.9,851.1 897.2,851.4 897.6,851.3 897.9,851.8 898.2,851.2 898.6,851.8 898.9,850.8 899.2,850.6 899.5,850.2 899.9,851.4 900.2,849.5 900.5,851 900.9,849.9 901.2,850.7 901.5,849.1 901.9,850.4 902.2,849.8 902.5,850.3 902.8,849.6 903.2,849.5 903.5,848.2 903.8,848.6 904.2,848.6 904.5,849.2 904.8,846.8 905.2,847.6 905.5,846.7 905.8,846.4 906.2,846.3 906.5,846.9 906.8,845.9 907.1,846.9 907.5,847.1 907.8,847 908.1,847.2 908.5,848.3 908.8,848.1 909.1,848.2 909.5,848.7 909.8,849.4 910.1,848.9 910.4,849.2 910.8,850.1 911.1,850.9 911.4,850.7 911.8,851.1 912.1,850.9 912.4,850.8 912.8,850.2 913.1,851.5 913.4,850.8 913.8,851.3 914.1,850.6 914.4,851.3 914.7,851 915.1,852.1 915.4,850.7 915.7,851.6 916.1,851.3 916.4,851.8 916.7,851.2 917.1,851.9 917.4,851.2 917.7,852.2 918,851.2 918.4,852.2 918.7,851.4 919,852.3 919.4,851.1 919.7,851.6 920,851.3 920.4,851.2 920.7,851.5 921,851 921.3,851.2 921.7,852.8 922,851.8 922.3,852.5 922.7,850.9 923,851.9 923.3,851.3 923.7,852 924,852 924.3,852.4 924.7,851.9 925,851.7 925.3,851.4 925.6,852.2 926,851.3 926.3,851.9 926.6,851.5 927,852 927.3,850.8 927.6,852.5 928,851.8 928.3,851.8 928.6,851.2 928.9,851.9 929.3,851.9 929.6,852.1 929.9,851.4 930.3,852.8 930.6,852.8 930.9,852.2 931.3,851.4 931.6,851.4 931.9,851.2 932.3,851.6 932.6,850.8 932.9,852.8 933.2,851.3 933.6,851.9 933.9,851.4 934.2,851.8 934.6,851.4 934.9,852.3 935.2,851 935.6,851.9 935.9,850.9 936.2,852.7 936.5,851.5 936.9,852.7 937.2,851.3 937.5,851.5 937.9,852 938.2,851.7 938.5,851.3 938.9,852.3 939.2,851.3 939.5,852.2 939.8,851.8 940.2,851.7 940.5,851.4 940.8,852.3 941.2,851.1 941.5,852.4 941.8,851.5 942.2,852.1 942.5,851 942.8,852.4 943.2,851.4 943.5,852 943.8,851.2 944.1,852.1 944.5,851.1 944.8,852.1 945.1,851.2 945.5,852 945.8,850.9 946.1,852.1 946.5,851.2 946.8,851.8 947.1,851.4 947.4,851.5 947.8,850.7 948.1,852.5 948.4,850.9 948.8,851.3 949.1,851.8 949.4,851.3 949.8,852 950.1,851.3 950.4,851.3 950.8,852.7 951.1,851.8 951.4,852.2 951.7,850.7 952.1,851.6 952.4,850.9 952.7,851 953.1,851.7 953.4,851.9 953.7,851.9 954.1,852.1 954.4,851.3 954.7,851.6 955,851.3 955.4,851 955.7,851.4 956,850.8 956.4,851.1 956.7,850.8 957,850.7 957.4,852.3 957.7,851.3 958,851.5 958.3,851.5 958.7,852.1 959,851.4 959.3,851.2 959.7,851.3 960,850.6 960.3,851.5 960.7,850.9 961,850.2 961.3,851.6 961.7,850.5 962,850.8 962.3,850 962.6,850.3 963,849.9 963.3,850.2 963.6,849.7 964,849.2 964.3,849.3 964.6,849.6 965,849.7 965.3,849.9 965.6,847.5 965.9,847.5 966.3,847.2 966.6,847.6 966.9,846.1 967.3,845.4 967.6,844.7 967.9,844.9 968.3,843.2 968.6,843.6 968.9,843.1 969.3,843.4 969.6,842.6 969.9,843.5 970.2,844.3 970.6,844.1 970.9,844.6 971.2,845.3 971.6,845.4 971.9,846.4 972.2,846.5 972.6,846.6 972.9,847.5 973.2,848.1 973.5,848.1 973.9,849 974.2,848.7 974.5,849.2 974.9,848.4 975.2,850.1 975.5,850 975.9,849.9 976.2,849.3 976.5,850.7 976.8,850.5 977.2,851.3 977.5,849.9 977.8,850 978.2,850.2 978.5,850.3 978.8,849.8 979.2,850.1 979.5,849.9 979.8,849.8 980.2,849 980.5,848.8 980.8,848.7 981.1,848.7 981.5,848.7 981.8,848.9 982.1,848.5 982.5,849.1 982.8,848 983.1,848.9 983.5,849.9 983.8,849.5 984.1,849.5 984.4,848.9 984.8,849.6 985.1,849.5 985.4,849.8 985.8,851 986.1,850.1 986.4,851.1 986.8,850.7 987.1,850.6 987.4,851.1 987.8,850.3 988.1,851.1 988.4,850.9 988.7,850.5 989.1,851 989.4,851.4 989.7,851.2 990.1,851 990.4,852 990.7,851.3 991.1,851.1 991.4,850.5 991.7,851.3 992,851.4 992.4,852.9 992.7,851.3 993,851.4 993.4,851.4 993.7,851.6 994,851.7 994.4,851.7 994.7,850.3 995,851.6 995.3,852.2 995.7,851.7 996,850.8 996.3,853.1 996.7,851.3 997,852.8 997.3,851.6 997.7,852.1 998,852.1 998.3,852.6 998.7,852.1 999,851.8 999.3,851.8 999.6,852.3 1000,851.7 1000.3,852 1000.6,851.8 1001,851.8 1001.3,850.9 1001.6,852 1002,851.4 1002.3,852.1 1002.6,851.4 1002.9,852.2 1003.3,851 1003.6,851.7 1003.9,851.3 1004.3,852.1 1004.6,851.5 1004.9,851 1005.3,851.3 1005.6,851.1 1005.9,851.4 1006.3,852.5 1006.6,851.8 1006.9,852 1007.2,851.9 1007.6,852.5 1007.9,851.9 1008.2,852 1008.6,851.6 1008.9,852.2 1009.2,852 1009.6,851.6 1009.9,852.3 1010.2,853.3 1010.5,851.6 1010.9,852.6 1011.2,851.4 1011.5,852.4 1011.9,852.1 1012.2,851.9 1012.5,851.8 1012.9,851.3 1013.2,851.1 1013.5,852.3 1013.8,851.1 1014.2,851.5 1014.5,851.3 1014.8,851.8 1015.2,851.1 1015.5,851.6 1015.8,851.1 1016.2,851.6 1016.5,852.3 1016.8,851.9 1017.2,851.9 1017.5,851.9 1017.8,851.3 1018.1,852.2 1018.5,851.8 1018.8,852.1 1019.1,852.1 1019.5,852.5 1019.8,850.5 1020.1,852.3 1020.5,852.5 1020.8,852.7 1021.1,851.5 1021.4,852.7 1021.8,852 1022.1,852.3 1022.4,852 1022.8,852.1 1023.1,852.2 1023.4,852.3 1023.8,852.1 1024.1,851.4 1024.4,851.6 1024.8,851.9 1025.1,851.1 1025.4,852 1025.7,852 1026.1,852.3 1026.4,851.8 1026.7,852.1 1027.1,851.4 1027.4,852.4 1027.7,852.6 1028.1,851.9 1028.4,851.1 1028.7,852.2 1029,851.9 1029.4,852.1 1029.7,851.9 1030,851.4 1030.4,851.4 1030.7,851.6 1031,851.4 1031.4,851.5 1031.7,851.6 1032,852 1032.3,852.4 1032.7,852.7 1033,852.1 1033.3,852.4 1033.7,852.7 1034,852.3"/>
<polyline fill="none" stroke="#0066e0" stroke-width="5.5" stroke-linejoin="round" points="109,689.9 109.3,687.2 109.7,688.2 110,686.8 110.3,690.4 110.7,685.9 111,689.6 111.3,687.6 111.6,689.6 112,688.8 112.3,690.8 112.6,686.8 113,689.3 113.3,690.9 113.6,689 114,688.5 114.3,688.3 114.6,690 114.9,691 115.3,687.9 115.6,691.4 115.9,686.5 116.3,691.5 116.6,688.9 116.9,691.2 117.3,687.3 117.6,692.7 117.9,689.3 118.3,688.7 118.6,691.1 118.9,690.6 119.2,687.2 119.6,691.1 119.9,687.8 120.2,693.9 120.6,689.3 120.9,689.8 121.2,687.9 121.6,691.8 121.9,688 122.2,692.1 122.5,687 122.9,690 123.2,687.4 123.5,690.6 123.9,687.9 124.2,690.8 124.5,690.9 124.9,689.2 125.2,689 125.5,690.3 125.8,687.7 126.2,689.6 126.5,687.7 126.8,690 127.2,688.1 127.5,689.7 127.8,687.9 128.2,690.6 128.5,688.1 128.8,690.4 129.2,688.2 129.5,688.8 129.8,688.2 130.1,688.3 130.5,688.5 130.8,690.4 131.1,687.6 131.5,692.1 131.8,689.7 132.1,688.7 132.5,687.4 132.8,688.6 133.1,686.8 133.4,688 133.8,688.8 134.1,689.7 134.4,689.8 134.8,689.9 135.1,687.7 135.4,690.9 135.8,690.8 136.1,691.4 136.4,689.9 136.8,691.1 137.1,688 137.4,691.8 137.7,687.9 138.1,691.8 138.4,688.7 138.7,689.9 139.1,689.7 139.4,690.9 139.7,689.8 140.1,693.3 140.4,688 140.7,691.6 141,689.8 141.4,692.1 141.7,691 142,690.7 142.4,688.6 142.7,688.8 143,689.8 143.4,691.3 143.7,688.7 144,690 144.3,687.8 144.7,691.3 145,688.8 145.3,689.9 145.7,687.8 146,690.5 146.3,688.1 146.7,692.8 147,691.7 147.3,691.8 147.7,687.7 148,693.4 148.3,688.9 148.6,691.2 149,691.3 149.3,689.5 149.6,691 150,691.3 150.3,688 150.6,691.2 151,689.9 151.3,691.9 151.6,688.6 151.9,691.7 152.3,688.8 152.6,694.6 152.9,689.4 153.3,691.6 153.6,690.6 153.9,692.5 154.3,691.9 154.6,692.9 154.9,692.1 155.3,691.8 155.6,689.7 155.9,692.7 156.2,688.7 156.6,690.6 156.9,690.6 157.2,691.8 157.6,688.7 157.9,692 158.2,690.3 158.6,692 158.9,689.3 159.2,692 159.5,690.6 159.9,690.3 160.2,691.2 160.5,690 160.9,690.4 161.2,691.2 161.5,690.1 161.9,690.2 162.2,688.5 162.5,691.5 162.8,688.8 163.2,691 163.5,689.8 163.8,692.7 164.2,688.8 164.5,692.3 164.8,688.2 165.2,690.6 165.5,688.6 165.8,690.2 166.2,689.9 166.5,689.2 166.8,688.9 167.1,690.2 167.5,687.9 167.8,688 168.1,690.5 168.5,688.7 168.8,689.2 169.1,690.6 169.5,690.4 169.8,690.6 170.1,690.1 170.4,690.4 170.8,687.7 171.1,689.8 171.4,688.6 171.8,691 172.1,687.8 172.4,691.6 172.8,691.4 173.1,691.2 173.4,689.5 173.8,690.2 174.1,689.4 174.4,690.9 174.7,689.4 175.1,690.2 175.4,690.6 175.7,689.5 176.1,690.1 176.4,690.4 176.7,689.6 177.1,691.5 177.4,689.8 177.7,690.2 178,691 178.4,690.7 178.7,690.3 179,691.9 179.4,691.5 179.7,691.3 180,689.7 180.4,689.8 180.7,688.4 181,690.8 181.3,689.3 181.7,691.4 182,689.8 182.3,691 182.7,689.5 183,692.6 183.3,687.9 183.7,691.2 184,689.4 184.3,689.5 184.7,688.8 185,693.3 185.3,689.1 185.6,688.4 186,688.1 186.3,690.5 186.6,689.6 187,688.7 187.3,690 187.6,692.1 188,688.5 188.3,690.1 188.6,690.9 188.9,691 189.3,689.4 189.6,690.9 189.9,689.1 190.3,690.3 190.6,690 190.9,692 191.3,688.4 191.6,689.4 191.9,690.2 192.3,688.8 192.6,688.5 192.9,690.8 193.2,690.2 193.6,690.7 193.9,689.5 194.2,689.6 194.6,687.9 194.9,690.2 195.2,690.4 195.6,691.1 195.9,691.4 196.2,690.3 196.5,691 196.9,691 197.2,688.5 197.5,689.8 197.9,687.1 198.2,689.7 198.5,686.4 198.9,690.6 199.2,685.9 199.5,689.5 199.8,687.7 200.2,690.6 200.5,688.9 200.8,691.4 201.2,688.8 201.5,690.2 201.8,688.6 202.2,691.1 202.5,687.7 202.8,690.7 203.2,689.4 203.5,689.4 203.8,688 204.1,688.4 204.5,688.4 204.8,690 205.1,689.1 205.5,690.4 205.8,687.1 206.1,689.7 206.5,687.2 206.8,687.8 207.1,684.8 207.4,688.2 207.8,686.8 208.1,689.1 208.4,687.9 208.8,688.6 209.1,689.3 209.4,692.1 209.8,687.5 210.1,688.8 210.4,689.5 210.8,690.2 211.1,689 211.4,689.9 211.7,689.1 212.1,691.1 212.4,688.5 212.7,688.4 213.1,685.7 213.4,688.3 213.7,685.6 214.1,689.2 214.4,687 214.7,690.8 215,688.1 215.4,690.6 215.7,687.9 216,688.9 216.4,684.4 216.7,691.9 217,689.5 217.4,689 217.7,688.6 218,689.4 218.3,687.5 218.7,689.5 219,688.7 219.3,689.7 219.7,687.1 220,689 220.3,687.5 220.7,688.8 221,686.7 221.3,690.1 221.7,688.4 222,691.1 222.3,686.7 222.6,691.8 223,689.2 223.3,690.2 223.6,688.1 224,693.2 224.3,690 224.6,690.4 225,689 225.3,688.5 225.6,687.4 225.9,691.1 226.3,688.9 226.6,688.7 226.9,688.3 227.3,689.7 227.6,687.2 227.9,689.2 228.3,686.9 228.6,688 228.9,689 229.3,690.5 229.6,686.7 229.9,689.5 230.2,686.5 230.6,688.9 230.9,685.7 231.2,690.6 231.6,689.2 231.9,689.7 232.2,690 232.6,688.7 232.9,686.5 233.2,687.6 233.5,687.9 233.9,688.2 234.2,686.3 234.5,689.6 234.9,688.1 235.2,689 235.5,688.2 235.9,688.4 236.2,688.8 236.5,689 236.8,687.8 237.2,688.2 237.5,687.1 237.8,689.3 238.2,685.3 238.5,686.8 238.8,686.7 239.2,690.5 239.5,686.2 239.8,687.6 240.2,687.8 240.5,689.9 240.8,687 241.1,687.9 241.5,686.7 241.8,688.3 242.1,686.8 242.5,688 242.8,686.6 243.1,689 243.5,685.5 243.8,687.1 244.1,684.2 244.4,688.4 244.8,685.7 245.1,687 245.4,683.2 245.8,688.1 246.1,685 246.4,687.6 246.8,687 247.1,687.5 247.4,686.7 247.8,688.2 248.1,686.3 248.4,688.7 248.7,684.9 249.1,687.5 249.4,686.1 249.7,688.3 250.1,687.2 250.4,688.6 250.7,685.9 251.1,689.4 251.4,688 251.7,690.8 252,689.9 252.4,689.6 252.7,688.2 253,690.2 253.4,686.8 253.7,690.3 254,686.9 254.4,687.5 254.7,685.7 255,688.5 255.3,685.8 255.7,687.3 256,687.8 256.3,688.7 256.7,687.3 257,690.5 257.3,687.2 257.7,688.8 258,686.4 258.3,687.9 258.7,686.2 259,689 259.3,688.5 259.6,690.3 260,686.2 260.3,687.6 260.6,687.1 261,687.4 261.3,687.2 261.6,689 262,686.4 262.3,687.8 262.6,686.7 262.9,690.1 263.3,687.7 263.6,686.4 263.9,684.6 264.3,688.3 264.6,685.5 264.9,687.1 265.3,685.6 265.6,689.4 265.9,685.2 266.3,689.6 266.6,686.2 266.9,689.7 267.2,687.7 267.6,689.8 267.9,687.3 268.2,691 268.6,687.4 268.9,691.6 269.2,689.4 269.6,689.7 269.9,688.2 270.2,687.2 270.5,686 270.9,691.2 271.2,688.1 271.5,691.5 271.9,686.9 272.2,688.1 272.5,688.8 272.9,688.8 273.2,684.3 273.5,688.9 273.8,687.2 274.2,690.4 274.5,689.1 274.8,691.1 275.2,687 275.5,690.7 275.8,686.4 276.2,689.8 276.5,688.3 276.8,688.3 277.2,686.9 277.5,689.3 277.8,687.7 278.1,688.4 278.5,685.9 278.8,688.7 279.1,687.3 279.5,688.1 279.8,686.3 280.1,688 280.5,689.2 280.8,689 281.1,686.9 281.4,688.4 281.8,686.1 282.1,689.4 282.4,687.4 282.8,690.5 283.1,687.9 283.4,689.5 283.8,687.1 284.1,690.7 284.4,688.8 284.8,688.8 285.1,687 285.4,689.1 285.7,687 286.1,688.9 286.4,685.6 286.7,688.2 287.1,687.1 287.4,689.1 287.7,687.9 288.1,688.5 288.4,688.6 288.7,688.3 289,688 289.4,690.4 289.7,688.6 290,690.6 290.4,689.3 290.7,688.7 291,687.6 291.4,688.6 291.7,687.1 292,689 292.3,689.1 292.7,690.3 293,685.5 293.3,688.9 293.7,686.4 294,686.2 294.3,685.9 294.7,689.5 295,686.3 295.3,686.7 295.7,686.5 296,689.1 296.3,687.4 296.6,688.4 297,687 297.3,688.2 297.6,685.4 298,689.1 298.3,687.1 298.6,688 299,689 299.3,689 299.6,686.3 299.9,687.8 300.3,685.5 300.6,687.6 300.9,684.8 301.3,686.5 301.6,684.1 301.9,685.9 302.3,684.5 302.6,685.7 302.9,681.8 303.3,686.6 303.6,683.9 303.9,687.4 304.2,681.5 304.6,682 304.9,681.2 305.2,681.9 305.6,679.4 305.9,678.3 306.2,676.4 306.6,674.2 306.9,670.1 307.2,667.1 307.5,660.1 307.9,658.4 308.2,647.6 308.5,643.3 308.9,630.7 309.2,622.2 309.5,607.8 309.9,592.2 310.2,578.8 310.5,569.7 310.8,563.2 311.2,568.6 311.5,575.1 311.8,588.1 312.2,603.6 312.5,616.5 312.8,627.1 313.2,643 313.5,648.7 313.8,657.5 314.2,660.3 314.5,666.5 314.8,671.2 315.1,675.8 315.5,675.2 315.8,678.6 316.1,680.3 316.5,681.9 316.8,682.5 317.1,686.4 317.5,686.1 317.8,686.8 318.1,686.7 318.4,687.3 318.8,688.6 319.1,690.4 319.4,688 319.8,690.4 320.1,689.5 320.4,692.9 320.8,690.5 321.1,691.2 321.4,691.2 321.8,692.9 322.1,691.5 322.4,693.1 322.7,692 323.1,694.1 323.4,692.2 323.7,695.2 324.1,693.2 324.4,694.4 324.7,694.7 325.1,694.3 325.4,694.7 325.7,694.6 326,694.1 326.4,695.6 326.7,692.9 327,694.8 327.4,695.6 327.7,697.3 328,694 328.4,696.2 328.7,693.9 329,694.3 329.3,694.2 329.7,696.7 330,694.5 330.3,696.4 330.7,695 331,696.7 331.3,694.7 331.7,697.3 332,695 332.3,695.7 332.7,695.6 333,696.7 333.3,695.5 333.6,697.2 334,693.4 334.3,695.8 334.6,695.9 335,695.6 335.3,694.9 335.6,696.1 336,695 336.3,696.6 336.6,694.4 336.9,697.7 337.3,695.1 337.6,695.8 337.9,694.8 338.3,697.3 338.6,695.9 338.9,696.5 339.3,694.3 339.6,696.2 339.9,696.1 340.3,698 340.6,696.2 340.9,696.1 341.2,696.3 341.6,699.1 341.9,695.6 342.2,696.6 342.6,695.8 342.9,697 343.2,697.5 343.6,697.3 343.9,695.7 344.2,697.8 344.5,697 344.9,697.8 345.2,695.6 345.5,697 345.9,696.9 346.2,698.2 346.5,696.4 346.9,697.4 347.2,695.3 347.5,698.5 347.8,696.7 348.2,698.7 348.5,697.3 348.8,697.6 349.2,696.7 349.5,697.5 349.8,695.4 350.2,697.6 350.5,696.7 350.8,697.9 351.2,695.5 351.5,696.9 351.8,695.9 352.1,696.9 352.5,695 352.8,697 353.1,695.3 353.5,696.2 353.8,696.1 354.1,698.3 354.5,695.4 354.8,696.9 355.1,696.7 355.4,697.8 355.8,698.2 356.1,698.1 356.4,697.4 356.8,698.5 357.1,697.3 357.4,697.9 357.8,696.4 358.1,698.2 358.4,696.6 358.8,698.5 359.1,696.4 359.4,697.9 359.7,697.2 360.1,697.9 360.4,697.3 360.7,699 361.1,696.1 361.4,699.5 361.7,696.4 362.1,697.5 362.4,696.4 362.7,697.6 363,698.6 363.4,697.7 363.7,697.8 364,700 364.4,697.4 364.7,698.2 365,696.9 365.4,697.1 365.7,695.5 366,698.8 366.3,696.8 366.7,698.3 367,697.9 367.3,698 367.7,696.7 368,697.7 368.3,697.1 368.7,697.7 369,697.4 369.3,697.7 369.7,696.8 370,697.5 370.3,697 370.6,697.2 371,697.2 371.3,697.9 371.6,697.8 372,698.4 372.3,696.8 372.6,699.3 373,697.4 373.3,697.8 373.6,696.5 373.9,697.7 374.3,696.4 374.6,697.8 374.9,697.3 375.3,698.2 375.6,697.3 375.9,699.1 376.3,698.2 376.6,697.7 376.9,695.1 377.3,697.4 377.6,696.2 377.9,697.3 378.2,696.4 378.6,695.5 378.9,696.3 379.2,697.5 379.6,697.2 379.9,697.4 380.2,696.3 380.6,698.1 380.9,696.9 381.2,696.3 381.5,696.8 381.9,697.6 382.2,697.6 382.5,698.3 382.9,697.9 383.2,697.9 383.5,697.3 383.9,698.4 384.2,697.3 384.5,697.1 384.8,696.4 385.2,699.5 385.5,697.4 385.8,698.5 386.2,697.4 386.5,697.6 386.8,697.4 387.2,697.8 387.5,697 387.8,698.2 388.2,697.8 388.5,698.3 388.8,697.8 389.1,697.8 389.5,697.9 389.8,697.3 390.1,697.9 390.5,697.5 390.8,697.2 391.1,699.1 391.5,698.5 391.8,698.6 392.1,697.5 392.4,698 392.8,697.7 393.1,697.7 393.4,697.3 393.8,698 394.1,696.9 394.4,699.2 394.8,697.7 395.1,697.7 395.4,698.5 395.8,699.2 396.1,698.1 396.4,698.4 396.7,696.4 397.1,698.2 397.4,697.1 397.7,697.4 398.1,696.9 398.4,698.3 398.7,696.4 399.1,698.2 399.4,697.1 399.7,698.6 400,697.5 400.4,697.3 400.7,698.5 401,698.7 401.4,697.6 401.7,699.1 402,697.9 402.4,699.9 402.7,697.7 403,698.2 403.3,698.7 403.7,698 404,698.4 404.3,699.1 404.7,697.8 405,697.9 405.3,697.6 405.7,699.3 406,698.5 406.3,700 406.7,696.9 407,699 407.3,697.3 407.6,697.8 408,696.9 408.3,698.2 408.6,696.6 409,698.4 409.3,697.4 409.6,698 410,697.3 410.3,698.2 410.6,696.6 410.9,698.1 411.3,697.8 411.6,697.5 411.9,697.3 412.3,698.6 412.6,697.2 412.9,698.5 413.3,696.6 413.6,699 413.9,698.2 414.3,698.2 414.6,696.6 414.9,698.5 415.2,697.6 415.6,698.4 415.9,698.3 416.2,699 416.6,698.4 416.9,698.4 417.2,697 417.6,699.6 417.9,697.6 418.2,699.1 418.5,698.2 418.9,698.3 419.2,697.9 419.5,698.6 419.9,698.3 420.2,697.8 420.5,697.5 420.9,697.6 421.2,698.1 421.5,698.5 421.8,697.5 422.2,697.6 422.5,695.7 422.8,698.2 423.2,696.8 423.5,697.7 423.8,697.3 424.2,699.3 424.5,698.1 424.8,699.7 425.2,697.4 425.5,698.6 425.8,698.6 426.1,698.1 426.5,697.3 426.8,698.1 427.1,697 427.5,697.6 427.8,697 428.1,698.9 428.5,697.1 428.8,698.9 429.1,697.8 429.4,698.2 429.8,696.8 430.1,697.8 430.4,697 430.8,698.4 431.1,697.3 431.4,698.6 431.8,696.9 432.1,699 432.4,698 432.8,698.7 433.1,696.6 433.4,698.7 433.7,699.2 434.1,697.7 434.4,697.5 434.7,699.1 435.1,697.2 435.4,697.1 435.7,697.6 436.1,698.3 436.4,698 436.7,699.2 437,697.9 437.4,699 437.7,698.2 438,698.4 438.4,697.3 438.7,698.9 439,697 439.4,699.2 439.7,697.2 440,698.1 440.3,698.2 440.7,699.1 441,697.1 441.3,698.9 441.7,697.4 442,698.5 442.3,698.5 442.7,697.5 443,697.3 443.3,698.7 443.7,696.8 444,699.1 444.3,697.1 444.6,698.1 445,697.2 445.3,698.5 445.6,697.4 446,697.5 446.3,698.4 446.6,698.9 447,698.1 447.3,697.7 447.6,698.1 447.9,699.1 448.3,697.2 448.6,699.1 448.9,698.6 449.3,697.5 449.6,696.5 449.9,698.2 450.3,696.7 450.6,698.7 450.9,696.4 451.3,697.9 451.6,698.2 451.9,699 452.2,696.8 452.6,697.6 452.9,697.6 453.2,698.8 453.6,697.7 453.9,699.7 454.2,697.9 454.6,698.2 454.9,697 455.2,697.3 455.5,697.1 455.9,698.4 456.2,696.5 456.5,697.9 456.9,696.4 457.2,697.5 457.5,697 457.9,697.9 458.2,697 458.5,697.6 458.8,697.3 459.2,697.7 459.5,697 459.8,698.5 460.2,697.1 460.5,697.2 460.8,696.7 461.2,696.5 461.5,695.3 461.8,695.2 462.2,694.7 462.5,695.1 462.8,693.7 463.1,693.4 463.5,693.2 463.8,692.6 464.1,691.3 464.5,691.9 464.8,690.5 465.1,692.5 465.5,692.5 465.8,693.1 466.1,692.3 466.4,694.3 466.8,694.4 467.1,695.4 467.4,694.6 467.8,694.9 468.1,694.5 468.4,695.9 468.8,694.2 469.1,696 469.4,694.8 469.8,695 470.1,694.7 470.4,694.7 470.7,694.2 471.1,694.6 471.4,693.4 471.7,694 472.1,693.7 472.4,693.4 472.7,691.8 473.1,691.5 473.4,688.9 473.7,687.3 474,683.7 474.4,682 474.7,678.6 475,677 475.4,673.3 475.7,671.1 476,670.3 476.4,671.9 476.7,672.4 477,674.7 477.3,676.8 477.7,681.1 478,682.8 478.3,685.3 478.7,686.6 479,689.7 479.3,690.5 479.7,692.6 480,692 480.3,693.9 480.7,693.9 481,695.1 481.3,695.5 481.6,695.2 482,694.7 482.3,695.3 482.6,693.7 483,694.9 483.3,693.8 483.6,694 484,691.9 484.3,693 484.6,692 484.9,691.6 485.3,689.5 485.6,688.8 485.9,688.6 486.3,688.5 486.6,687.6 486.9,689.3 487.3,688.9 487.6,690.5 487.9,691.9 488.3,693 488.6,693.6 488.9,696 489.2,694.8 489.6,694.9 489.9,695.9 490.2,696.8 490.6,696.3 490.9,697 491.2,696.4 491.6,697.7 491.9,696.5 492.2,698.1 492.5,697.9 492.9,697.1 493.2,696.3 493.5,697.9 493.9,696.6 494.2,698.6 494.5,697.6 494.9,698 495.2,698.5 495.5,698.3 495.8,697 496.2,698.3 496.5,697.5 496.8,698.7 497.2,697.6 497.5,697.4 497.8,698.3 498.2,699.1 498.5,697.5 498.8,698.2 499.2,697.7 499.5,698.4 499.8,697 500.1,698.6 500.5,698.4 500.8,699 501.1,698.8 501.5,698.6 501.8,697.8 502.1,698.4 502.5,696.9 502.8,698.7 503.1,698.4 503.4,699 503.8,698.4 504.1,697.9 504.4,698.1 504.8,699.6 505.1,698.3 505.4,698 505.8,697.9 506.1,698.2 506.4,698.1 506.8,698.6 507.1,698.2 507.4,698.6 507.7,697.5 508.1,699.2 508.4,697.5 508.7,698.4 509.1,697.5 509.4,697.9 509.7,697.6 510.1,698.3 510.4,697.9 510.7,698.5 511,698.1 511.4,698 511.7,698.4 512,699 512.4,698.1 512.7,698.9 513,697.5 513.4,698.2 513.7,697.6 514,698.5 514.3,697.7 514.7,698 515,697.4 515.3,697.6 515.7,697.3 516,697.3 516.3,697.7 516.7,697.8 517,698.2 517.3,698.7 517.7,698.8 518,698.1 518.3,698.2 518.6,698.8 519,697.7 519.3,698.1 519.6,697.5 520,698.9 520.3,697.2 520.6,699 521,698.3 521.3,699.4 521.6,699 521.9,699.1 522.3,698.2 522.6,699.2 522.9,698.7 523.3,698.2 523.6,697.5 523.9,699 524.3,697.7 524.6,698.2 524.9,698.2 525.3,698.7 525.6,697.9 525.9,698.7 526.2,697.9 526.6,697.7 526.9,697.7 527.2,698.4 527.6,698 527.9,698.1 528.2,697.2 528.6,698.6 528.9,697.8 529.2,697.9 529.5,697.2 529.9,698.9 530.2,698.5 530.5,698.5 530.9,697.5 531.2,699.1 531.5,698.2 531.9,700 532.2,697.6 532.5,699.1 532.8,697.6 533.2,698.8 533.5,699.2 533.8,698.6 534.2,698.4 534.5,698.2 534.8,698.3 535.2,698.8 535.5,698.8 535.8,698.9 536.2,698.7 536.5,698.7 536.8,698.5 537.1,699.3 537.5,698.4 537.8,698.7 538.1,697.9 538.5,698.8 538.8,697.7 539.1,698.7 539.5,697.6 539.8,698.9 540.1,697.9 540.4,699.3 540.8,697.9 541.1,699.4 541.4,698.7 541.8,699.4 542.1,698 542.4,698.8 542.8,697.4 543.1,697.6 543.4,697.4 543.8,698.6 544.1,699 544.4,698.1 544.7,698.4 545.1,698.9 545.4,697.9 545.7,698.6 546.1,698.7 546.4,698.9 546.7,698.7 547.1,699 547.4,698.2 547.7,699.5 548,698.5 548.4,698.4 548.7,699.2 549,698.7 549.4,697.4 549.7,698.5 550,699.3 550.4,699 550.7,699.1 551,699.5 551.3,698.6 551.7,699.3 552,698.6 552.3,698.5 552.7,698.4 553,698.1 553.3,697.8 553.7,697.7 554,698.7 554.3,699 554.7,697.2 555,699.2 555.3,697.6 555.6,699.2 556,699.1 556.3,698.8 556.6,697.6 557,699.6 557.3,698.2 557.6,698.9 558,697.2 558.3,699.7 558.6,698.4 558.9,698.8 559.3,698.2 559.6,698.6 559.9,697.3 560.3,698.9 560.6,698.3 560.9,697.7 561.3,697.9 561.6,698.4 561.9,697.3 562.3,698 562.6,698 562.9,698.9 563.2,699.1 563.6,698.1 563.9,698.9 564.2,698.5 564.6,698.4 564.9,699.2 565.2,698.4 565.6,699.8 565.9,698.3 566.2,698.9 566.5,698.6 566.9,699.1 567.2,698.8 567.5,699.6 567.9,698.1 568.2,699.3 568.5,698.2 568.9,697.8 569.2,698.1 569.5,698.3 569.8,698.5 570.2,698.3 570.5,698.5 570.8,698.8 571.2,698 571.5,698.4 571.8,698.2 572.2,698.9 572.5,698.2 572.8,698.7 573.2,698.4 573.5,698.8 573.8,698.6 574.1,699.2 574.5,697.6 574.8,699.1 575.1,698.5 575.5,698.2 575.8,697.7 576.1,698.7 576.5,697.7 576.8,699.3 577.1,698.8 577.4,698.4 577.8,698.9 578.1,698.1 578.4,697.3 578.8,698.1 579.1,697.7 579.4,699.1 579.8,697.5 580.1,698.7 580.4,698.3 580.8,699.4 581.1,697.4 581.4,698.4 581.7,697.6 582.1,699.1 582.4,698.5 582.7,699.1 583.1,697.9 583.4,698.3 583.7,698.1 584.1,698.1 584.4,697.9 584.7,697.9 585,697.2 585.4,698.1 585.7,697.8 586,697.9 586.4,698.3 586.7,698.7 587,697.9 587.4,698.7 587.7,697.6 588,698.6 588.3,697 588.7,698.8 589,696.8 589.3,698.2 589.7,697.6 590,699.5 590.3,698.2 590.7,698.8 591,697.4 591.3,698.5 591.7,697.3 592,698.5 592.3,697.4 592.6,698.1 593,698 593.3,699.3 593.6,697.9 594,698.8 594.3,698.2 594.6,698.7 595,697.7 595.3,698.2 595.6,697.9 595.9,698 596.3,698 596.6,698.2 596.9,697.7 597.3,698.4 597.6,696.5 597.9,698.3 598.3,697.6 598.6,696.8 598.9,697.3 599.3,697.8 599.6,696.7 599.9,697.6 600.2,698 600.6,698.3 600.9,697.5 601.2,698.2 601.6,697.7 601.9,698.2 602.2,697.4 602.6,698.1 602.9,696.3 603.2,697 603.5,696.4 603.9,697.5 604.2,696.1 604.5,696.8 604.9,696 605.2,696.7 605.5,694.5 605.9,695.6 606.2,695.1 606.5,694.3 606.8,694.1 607.2,693 607.5,692 607.8,690.8 608.2,689.3 608.5,687 608.8,683.8 609.2,680.9 609.5,676.7 609.8,672.9 610.2,665.3 610.5,660.7 610.8,656.2 611.1,650.7 611.5,648.5 611.8,649.5 612.1,652.4 612.5,659 612.8,664.3 613.1,670.8 613.5,675.2 613.8,679.9 614.1,683.3 614.4,687.2 614.8,688.5 615.1,690.9 615.4,691.8 615.8,692.3 616.1,692.7 616.4,693.9 616.8,694.5 617.1,694.8 617.4,695.1 617.8,695.8 618.1,696.2 618.4,696.6 618.7,696.3 619.1,696.6 619.4,695.5 619.7,697.8 620.1,696.6 620.4,697.9 620.7,696.8 621.1,698 621.4,697.5 621.7,697.1 622,696.8 622.4,697.8 622.7,697.8 623,697.3 623.4,698.1 623.7,697.5 624,697.4 624.4,698.1 624.7,698 625,697.9 625.3,697.8 625.7,698.5 626,698.9 626.3,698.6 626.7,697.5 627,698 627.3,697.3 627.7,698.3 628,698.8 628.3,698.2 628.7,697.2 629,698.4 629.3,698.2 629.6,698.6 630,697.7 630.3,698.5 630.6,697.8 631,699 631.3,697.9 631.6,698.4 632,698.2 632.3,698.3 632.6,698.3 632.9,698.8 633.3,697.9 633.6,698.2 633.9,698.2 634.3,698.9 634.6,697.9 634.9,699.1 635.3,697.6 635.6,699.3 635.9,698.3 636.3,698.8 636.6,698.7 636.9,698.8 637.2,697.3 637.6,698.6 637.9,698 638.2,698.3 638.6,697.4 638.9,697.8 639.2,698.2 639.6,698.8 639.9,697.7 640.2,698.3 640.5,697.6 640.9,699.1 641.2,698.2 641.5,698.6 641.9,698.5 642.2,698.7 642.5,698.3 642.9,698.8 643.2,697.9 643.5,699.9 643.8,697.3 644.2,699.2 644.5,698.1 644.8,697.4 645.2,699 645.5,698.6 645.8,696.6 646.2,698.3 646.5,697.8 646.8,699.2 647.2,697.8 647.5,698.6 647.8,698.6 648.1,698.2 648.5,697.7 648.8,698.6 649.1,698.2 649.5,698.7 649.8,698.7 650.1,698.2 650.5,698.2 650.8,699.1 651.1,698.3 651.4,698.5 651.8,698 652.1,698.9 652.4,698.1 652.8,698.6 653.1,697.3 653.4,698.7 653.8,697.7 654.1,699 654.4,697.3 654.8,698.1 655.1,697.5 655.4,698.3 655.7,698.3 656.1,698.2 656.4,698.3 656.7,698.6 657.1,698.2 657.4,697.9 657.7,697.8 658.1,698.1 658.4,698.6 658.7,697.7 659,698.5 659.4,698.8 659.7,698.3 660,697.4 660.4,698.3 660.7,697.9 661,697.9 661.4,699.1 661.7,697.8 662,698.2 662.3,697.3 662.7,698.5 663,698.4 663.3,698.1 663.7,698.1 664,698.4 664.3,698.6 664.7,698.7 665,697.3 665.3,697.7 665.7,697.7 666,699.3 666.3,697.4 666.6,698.5 667,697.1 667.3,698.9 667.6,697.6 668,698.1 668.3,698.1 668.6,698.7 669,698.2 669.3,699 669.6,698 669.9,698.7 670.3,697.4 670.6,698.1 670.9,698.4 671.3,698.7 671.6,697.9 671.9,698.5 672.3,697.2 672.6,698.4 672.9,698.8 673.3,697.5 673.6,697.1 673.9,698 674.2,696.5 674.6,698.2 674.9,697.4 675.2,697.8 675.6,698 675.9,698.3 676.2,697.7 676.6,698 676.9,697 677.2,698.1 677.5,698.4 677.9,697.7 678.2,697.5 678.5,698.1 678.9,697.1 679.2,697.5 679.5,697.1 679.9,696.7 680.2,696.9 680.5,697.4 680.8,697.4 681.2,696.7 681.5,696.7 681.8,696.9 682.2,696.1 682.5,696.2 682.8,696.8 683.2,696.9 683.5,695.2 683.8,695.5 684.2,694.6 684.5,694.3 684.8,693.1 685.1,692.2 685.5,690.1 685.8,689.3 686.1,686.3 686.5,684.8 686.8,682.2 687.1,680 687.5,676.1 687.8,674.5 688.1,672 688.4,672.1 688.8,671.9 689.1,674.5 689.4,675.8 689.8,680.1 690.1,682 690.4,684.8 690.8,687.1 691.1,688.7 691.4,690.1 691.8,692.2 692.1,692.9 692.4,693.6 692.7,694.6 693.1,694.3 693.4,695.4 693.7,695.3 694.1,694.9 694.4,696.8 694.7,696 695.1,696.2 695.4,695.6 695.7,696.1 696,695.9 696.4,696.1 696.7,695.6 697,696.3 697.4,696.1 697.7,694.9 698,695.1 698.4,695.3 698.7,695.7 699,694.7 699.3,694.3 699.7,694.7 700,694.6 700.3,692.6 700.7,691.8 701,691.1 701.3,688.7 701.7,687.6 702,685.3 702.3,682.9 702.7,680.5 703,677.8 703.3,674.6 703.6,673.2 704,672.3 704.3,672.3 704.6,674.7 705,676.9 705.3,678.3 705.6,682.7 706,684.1 706.3,687.9 706.6,688.3 706.9,690.9 707.3,692.1 707.6,693 707.9,693.3 708.3,694.8 708.6,695 708.9,695.4 709.3,696.3 709.6,695.9 709.9,696 710.3,696.8 710.6,696.1 710.9,696.6 711.2,696.8 711.6,697.7 711.9,697.3 712.2,696.6 712.6,697.7 712.9,698.2 713.2,696.9 713.6,698.1 713.9,697 714.2,698.1 714.5,698.2 714.9,697.1 715.2,697.3 715.5,697.9 715.9,696.8 716.2,698.1 716.5,697.2 716.9,697.9 717.2,697.6 717.5,698 717.8,697.2 718.2,698.3 718.5,697.4 718.8,697.5 719.2,697.3 719.5,697.5 719.8,697.8 720.2,698.9 720.5,696.5 720.8,697.9 721.2,698 721.5,697.8 721.8,698 722.1,697.7 722.5,697.6 722.8,697.4 723.1,697 723.5,698.4 723.8,697.3 724.1,698.2 724.5,697.6 724.8,698.4 725.1,697.2 725.4,698.4 725.8,697.9 726.1,697.8 726.4,697.9 726.8,698.5 727.1,697.6 727.4,698.3 727.8,697.4 728.1,697.8 728.4,698.1 728.8,698.3 729.1,698.4 729.4,698.1 729.7,697.5 730.1,697.8 730.4,697.7 730.7,698.1 731.1,697.5 731.4,698.3 731.7,697.1 732.1,698.7 732.4,697.6 732.7,698.3 733,696.9 733.4,699.3 733.7,698.1 734,698.3 734.4,698 734.7,699 735,697.6 735.4,697.9 735.7,698.3 736,698.2 736.3,697.8 736.7,698.8 737,697.6 737.3,698.6 737.7,697.5 738,698.2 738.3,698.1 738.7,698.3 739,697.9 739.3,698.9 739.7,697.7 740,698.7 740.3,698.1 740.6,698.2 741,698.9 741.3,698.5 741.6,697.6 742,698.8 742.3,698 742.6,698.8 743,698.3 743.3,698.9 743.6,697.7 743.9,698.8 744.3,697.4 744.6,698.4 744.9,697.8 745.3,698.2 745.6,697.6 745.9,698.2 746.3,697.8 746.6,698.8 746.9,698 747.3,698.7 747.6,699.2 747.9,697.9 748.2,698.4 748.6,698.8 748.9,697.6 749.2,698.3 749.6,698.3 749.9,698.9 750.2,697.4 750.6,698.5 750.9,697 751.2,697.6 751.5,697.6 751.9,698.1 752.2,697.7 752.5,699 752.9,698.2 753.2,698.1 753.5,698.1 753.9,698.1 754.2,698.1 754.5,698.9 754.8,696.8 755.2,698.3 755.5,697.8 755.8,698.7 756.2,698.2 756.5,698.5 756.8,697.7 757.2,698.4 757.5,697.4 757.8,698.8 758.2,698.2 758.5,698.2 758.8,698.3 759.1,698.3 759.5,697.8 759.8,699.5 760.1,698.5 760.5,698.7 760.8,697.9 761.1,697.5 761.5,698 761.8,697.9 762.1,697.4 762.4,698.8 762.8,697.9 763.1,697.5 763.4,697.8 763.8,698.6 764.1,698.4 764.4,698.8 764.8,698.2 765.1,698.5 765.4,698.3 765.8,697.8 766.1,697.9 766.4,698.6 766.7,698.1 767.1,699.1 767.4,697.2 767.7,699.2 768.1,697.9 768.4,698.7 768.7,699 769.1,697.9 769.4,697.7 769.7,698.6 770,698.5 770.4,698.3 770.7,697.9 771,697.8 771.4,698.2 771.7,698.2 772,697.7 772.4,698.3 772.7,697.1 773,698.1 773.3,697.2 773.7,698.6 774,697.6 774.3,698.7 774.7,697.7 775,698.7 775.3,697.4 775.7,698.5 776,697.3 776.3,698 776.7,697.7 777,698.2 777.3,697.9 777.6,698.2 778,697.3 778.3,698.6 778.6,697.9 779,697.7 779.3,697.3 779.6,697.6 780,697.6 780.3,698.5 780.6,697.3 780.9,699.2 781.3,698 781.6,697.7 781.9,697.4 782.3,698.8 782.6,696.7 782.9,698.1 783.3,697.3 783.6,698.8 783.9,698.3 784.3,698.5 784.6,697.5 784.9,698.7 785.2,697.1 785.6,697.6 785.9,696.7 786.2,697.1 786.6,697.5 786.9,697.1 787.2,696.8 787.6,697.9 787.9,697.7 788.2,696.6 788.5,696.8 788.9,697.1 789.2,696.6 789.5,696.8 789.9,697 790.2,696.3 790.5,696 790.9,696.7 791.2,696.2 791.5,696.5 791.8,695.7 792.2,695.7 792.5,694.8 792.8,693.9 793.2,694.8 793.5,694.9 793.8,693.1 794.2,693.7 794.5,692.5 794.8,691.8 795.2,691.3 795.5,691.7 795.8,691 796.1,691.5 796.5,690.1 796.8,689.9 797.1,689.3 797.5,689.5 797.8,688.7 798.1,689.8 798.5,689.7 798.8,689.4 799.1,689.9 799.4,689.2 799.8,688.7 800.1,690.5 800.4,688.8 800.8,690 801.1,689.4 801.4,688.8 801.8,688.2 802.1,687.4 802.4,685.9 802.8,685 803.1,683.4 803.4,683.1 803.7,680.6 804.1,679.8 804.4,678.1 804.7,678.1 805.1,677.4 805.4,678.4 805.7,678.1 806.1,680.5 806.4,679.9 806.7,683.7 807,684.2 807.4,686.3 807.7,687.6 808,689.3 808.4,690 808.7,691.4 809,692.2 809.4,693.3 809.7,693.2 810,694.7 810.3,694.9 810.7,695.8 811,694.9 811.3,696.1 811.7,695.6 812,695.9 812.3,696.2 812.7,697.4 813,696 813.3,697.2 813.7,696.6 814,697.3 814.3,696.9 814.6,697.7 815,697.6 815.3,697.2 815.6,697.1 816,696.5 816.3,696.5 816.6,697.8 817,696.6 817.3,697.2 817.6,698 817.9,698.3 818.3,697.2 818.6,697.7 818.9,697.9 819.3,697.5 819.6,696.8 819.9,697.5 820.3,696.9 820.6,698 820.9,697.2 821.3,698.1 821.6,697.4 821.9,697.6 822.2,697.3 822.6,698.4 822.9,696.3 823.2,697.9 823.6,698.2 823.9,698.3 824.2,697.5 824.6,697.9 824.9,697.2 825.2,697.6 825.5,697.6 825.9,698.4 826.2,698.3 826.5,697.7 826.9,698 827.2,698.5 827.5,698 827.9,698.8 828.2,698.1 828.5,698 828.8,698.1 829.2,698.1 829.5,697.8 829.8,698.6 830.2,698.1 830.5,698.3 830.8,697.7 831.2,697.7 831.5,697.2 831.8,698.2 832.2,697.5 832.5,697.9 832.8,698.4 833.1,698.2 833.5,697.7 833.8,697.9 834.1,698 834.5,698.1 834.8,698.1 835.1,697.5 835.5,697.7 835.8,698.3 836.1,697.7 836.4,698.2 836.8,697.8 837.1,697.8 837.4,697.8 837.8,697.9 838.1,697.7 838.4,697.9 838.8,698.1 839.1,698.4 839.4,698.3 839.8,698.4 840.1,698.1 840.4,697.8 840.7,697.4 841.1,698.7 841.4,697.8 841.7,698.5 842.1,697.7 842.4,698.7 842.7,698.1 843.1,698.2 843.4,697.4 843.7,697.4 844,697.6 844.4,698.2 844.7,697.4 845,698.3 845.4,697.8 845.7,698.3 846,697.5 846.4,698.5 846.7,697.9 847,698.8 847.3,697.8 847.7,698.6 848,697.3 848.3,698.1 848.7,698.3 849,698.7 849.3,697.6 849.7,698.4 850,697.9 850.3,698.9 850.7,698.2 851,697.9 851.3,698 851.6,698.9 852,698.4 852.3,698.2 852.6,698.6 853,698 853.3,697.7 853.6,698.8 854,698 854.3,698.6 854.6,699 854.9,698.4 855.3,698 855.6,698 855.9,697.8 856.3,698.5 856.6,697.9 856.9,697.8 857.3,698 857.6,698.3 857.9,698.5 858.3,698.9 858.6,697.9 858.9,699.3 859.2,697.7 859.6,698.3 859.9,698.2 860.2,699 860.6,697.6 860.9,699 861.2,698.4 861.6,698.5 861.9,698.2 862.2,698 862.5,698.3 862.9,697.3 863.2,697.7 863.5,697.8 863.9,697.3 864.2,698.9 864.5,697 864.9,698.5 865.2,697.5 865.5,697.8 865.8,698 866.2,698 866.5,698.3 866.8,697.6 867.2,697.3 867.5,698.1 867.8,698.1 868.2,697.7 868.5,697.3 868.8,697.8 869.2,698.1 869.5,698.5 869.8,698.2 870.1,698.3 870.5,697.4 870.8,697.6 871.1,697.7 871.5,698.9 871.8,698.1 872.1,698.7 872.5,697.9 872.8,698.7 873.1,697.5 873.4,697.9 873.8,696.9 874.1,698 874.4,698.5 874.8,698 875.1,697.6 875.4,697.4 875.8,697 876.1,698.3 876.4,697 876.8,698.2 877.1,697 877.4,697.6 877.7,697.3 878.1,697 878.4,696.5 878.7,697.4 879.1,696.4 879.4,696.8 879.7,695.7 880.1,696.3 880.4,696.1 880.7,695.9 881,694.4 881.4,695 881.7,694.9 882,695.4 882.4,694 882.7,693.8 883,693.3 883.4,693.2 883.7,692.1 884,691.4 884.3,691.4 884.7,691.4 885,690.4 885.3,691.1 885.7,690.7 886,691.1 886.3,690.6 886.7,692.7 887,692.5 887.3,693 887.7,692.7 888,692.8 888.3,693.9 888.6,694.7 889,694.3 889.3,695.8 889.6,694.9 890,696.5 890.3,695.2 890.6,696.3 891,696.2 891.3,696.7 891.6,696.9 891.9,696.8 892.3,696.5 892.6,696.9 892.9,696.2 893.3,696.7 893.6,696.6 893.9,697.2 894.3,696.8 894.6,697.5 894.9,697 895.3,697.3 895.6,696.9 895.9,697.7 896.2,696.4 896.6,696.2 896.9,696.8 897.2,697.4 897.6,696.8 897.9,696.9 898.2,696.3 898.6,696.3 898.9,696.3 899.2,696.4 899.5,696.4 899.9,695.9 900.2,695.4 900.5,695.3 900.9,694.2 901.2,694.2 901.5,693.1 901.9,692.8 902.2,692.5 902.5,692.4 902.8,691.8 903.2,691.4 903.5,690.1 903.8,691.4 904.2,690 904.5,690.1 904.8,689.6 905.2,691 905.5,691.1 905.8,690.8 906.2,691.6 906.5,692.2 906.8,692.5 907.1,694 907.5,693.5 907.8,694.6 908.1,694.2 908.5,695.7 908.8,695.3 909.1,695.9 909.5,696.3 909.8,695.8 910.1,695.5 910.4,696.4 910.8,696.4 911.1,696.8 911.4,696.6 911.8,698.3 912.1,697 912.4,698.7 912.8,697.3 913.1,697.8 913.4,698 913.8,698.2 914.1,697.7 914.4,697.7 914.7,697.5 915.1,697.3 915.4,698 915.7,697.6 916.1,697.5 916.4,697.6 916.7,697.7 917.1,698.7 917.4,698.4 917.7,698.4 918,698.3 918.4,698.6 918.7,697.8 919,698.4 919.4,698 919.7,698.4 920,698.3 920.4,698.1 920.7,697.6 921,698.8 921.3,697.7 921.7,698.1 922,697.7 922.3,698 922.7,697.2 923,698 923.3,697.3 923.7,698.2 924,697.9 924.3,698.4 924.7,697.7 925,698.2 925.3,697.3 925.6,698.3 926,697.2 926.3,698.1 926.6,696.8 927,698.3 927.3,698.2 927.6,697.9 928,698.1 928.3,698.3 928.6,697.2 928.9,698.5 929.3,698 929.6,697.8 929.9,698.5 930.3,698 930.6,697.6 930.9,697.6 931.3,697.7 931.6,698.1 931.9,697.9 932.3,698.3 932.6,698.1 932.9,698.2 933.2,698.3 933.6,698.1 933.9,697.5 934.2,698.8 934.6,697.8 934.9,698.4 935.2,697.6 935.6,698.2 935.9,697.7 936.2,698 936.5,697.2 936.9,697.8 937.2,697.9 937.5,698 937.9,698.1 938.2,698.2 938.5,697.4 938.9,698.7 939.2,698.6 939.5,697.6 939.8,697.9 940.2,697 940.5,697.8 940.8,698 941.2,698.3 941.5,698 941.8,696.7 942.2,697.7 942.5,697.8 942.8,698.3 943.2,697.8 943.5,697.9 943.8,698 944.1,698.2 944.5,698.1 944.8,698.1 945.1,697.9 945.5,698.7 945.8,697.2 946.1,698.1 946.5,698.1 946.8,697.8 947.1,697.8 947.4,697.9 947.8,696.9 948.1,698.7 948.4,697.1 948.8,697.3 949.1,697.9 949.4,698.2 949.8,697.7 950.1,698.6 950.4,697.7 950.8,698.9 951.1,697.7 951.4,697.7 951.7,697.5 952.1,698.6 952.4,697.4 952.7,697.8 953.1,697.5 953.4,698.3 953.7,696.9 954.1,698.1 954.4,696.8 954.7,697.3 955,697.6 955.4,696.8 955.7,697.5 956,697.1 956.4,697.2 956.7,697.2 957,696.5 957.4,697.3 957.7,695.7 958,697.5 958.3,696.9 958.7,697 959,696.2 959.3,696.2 959.7,696.2 960,696.6 960.3,695.6 960.7,696 961,696.2 961.3,695.7 961.7,695.7 962,695.9 962.3,695 962.6,694.3 963,693.3 963.3,693.3 963.6,692.6 964,693.3 964.3,691.5 964.6,691.8 965,690 965.3,690.1 965.6,687.8 965.9,687.8 966.3,687 966.6,686.2 966.9,685.1 967.3,685.5 967.6,685.6 967.9,684.9 968.3,685 968.6,687 968.9,685.8 969.3,687.6 969.6,687.6 969.9,689.7 970.2,690.5 970.6,691.2 970.9,692.3 971.2,694.1 971.6,693 971.9,694.4 972.2,694.1 972.6,695.1 972.9,694.8 973.2,695.4 973.5,694.7 973.9,696.1 974.2,695 974.5,696.1 974.9,695.5 975.2,695.6 975.5,695.9 975.9,697.1 976.2,696.4 976.5,696.6 976.8,696.4 977.2,696.3 977.5,695.1 977.8,695.4 978.2,695.2 978.5,696.2 978.8,695.5 979.2,694.7 979.5,693.9 979.8,693.7 980.2,695 980.5,694.3 980.8,693.3 981.1,695.2 981.5,694.1 981.8,694.6 982.1,694.5 982.5,694.5 982.8,694.3 983.1,694.8 983.5,695.3 983.8,695.4 984.1,695.7 984.4,696.6 984.8,696.1 985.1,696.7 985.4,695.8 985.8,695.9 986.1,695.8 986.4,696.9 986.8,696.6 987.1,697.1 987.4,697 987.8,697.6 988.1,696.4 988.4,698.4 988.7,697.2 989.1,697.2 989.4,696.9 989.7,697.9 990.1,697.7 990.4,698 990.7,698.3 991.1,697.9 991.4,697.3 991.7,696.4 992,696.8 992.4,698.1 992.7,697.4 993,697.7 993.4,697.4 993.7,698.3 994,697.3 994.4,698.8 994.7,698 995,697.6 995.3,697.9 995.7,697.7 996,697.4 996.3,697.8 996.7,697.7 997,697.5 997.3,697.1 997.7,698.1 998,697.9 998.3,698.1 998.7,698.1 999,697.9 999.3,697.4 999.6,698.3 1000,697.9 1000.3,698 1000.6,697.3 1001,698.2 1001.3,697.7 1001.6,697.6 1002,697.4 1002.3,697.9 1002.6,699 1002.9,697.8 1003.3,697.9 1003.6,698.4 1003.9,698.1 1004.3,697.8 1004.6,697.8 1004.9,698.6 1005.3,698.1 1005.6,698.3 1005.9,698.2 1006.3,698.1 1006.6,697.8 1006.9,698.5 1007.2,697.7 1007.6,698.9 1007.9,698 1008.2,697.8 1008.6,697.3 1008.9,698.2 1009.2,697.9 1009.6,697.9 1009.9,697.8 1010.2,698.8 1010.5,696.9 1010.9,697.8 1011.2,697.5 1011.5,697.8 1011.9,697.9 1012.2,698.1 1012.5,697 1012.9,698 1013.2,697.8 1013.5,698 1013.8,697.3 1014.2,698.6 1014.5,697.3 1014.8,698.2 1015.2,697.6 1015.5,697.8 1015.8,697.9 1016.2,698.3 1016.5,697.8 1016.8,698.4 1017.2,697.3 1017.5,697.6 1017.8,698.5 1018.1,698.2 1018.5,697.5 1018.8,698.2 1019.1,697.6 1019.5,698.4 1019.8,698.2 1020.1,698.9 1020.5,697.2 1020.8,698 1021.1,697.3 1021.4,698.4 1021.8,698 1022.1,697.3 1022.4,697.2 1022.8,698 1023.1,697.3 1023.4,698.6 1023.8,697.9 1024.1,698.4 1024.4,698.7 1024.8,698.1 1025.1,697.5 1025.4,698.4 1025.7,697.1 1026.1,698.6 1026.4,698.5 1026.7,698.8 1027.1,697.3 1027.4,698.3 1027.7,698.2 1028.1,698.5 1028.4,698.3 1028.7,697.6 1029,698.7 1029.4,697.4 1029.7,696.3 1030,697.5 1030.4,697.5 1030.7,697.9 1031,697.6 1031.4,699.1 1031.7,697.8 1032,697.4 1032.3,697.6 1032.7,698.2 1033,697.7 1033.3,697.7 1033.7,698.7 1034,699"/>
<polyline fill="none" stroke="#00ad67" stroke-width="5.5" stroke-linejoin="round" points="109,538.7 109.3,536.6 109.7,537.7 110,537.4 110.3,538.5 110.7,537.3 111,537.5 111.3,536.8 111.6,537.3 112,537.3 112.3,537.7 112.6,536.6 113,538.9 113.3,538.9 113.6,539 114,536.6 114.3,538.8 114.6,537.7 114.9,538.3 115.3,535.8 115.6,539.4 115.9,536.9 116.3,539.1 116.6,536 116.9,539.3 117.3,538.6 117.6,539.4 117.9,536.2 118.3,537.4 118.6,537.1 118.9,539.5 119.2,535.3 119.6,538.1 119.9,536.6 120.2,535.8 120.6,536.5 120.9,537.6 121.2,535.7 121.6,536.7 121.9,536.6 122.2,538.9 122.5,536.4 122.9,537.4 123.2,536.1 123.5,539.4 123.9,535.7 124.2,537.5 124.5,535.5 124.9,537.4 125.2,537.1 125.5,537.8 125.8,536.5 126.2,538.7 126.5,536.6 126.8,537.7 127.2,536 127.5,538.8 127.8,537.2 128.2,537.8 128.5,536.3 128.8,538.1 129.2,535.8 129.5,538.9 129.8,537.4 130.1,538 130.5,537.9 130.8,535.7 131.1,536 131.5,538.2 131.8,535.9 132.1,537.2 132.5,534.9 132.8,537.8 133.1,537.6 133.4,536.6 133.8,535.8 134.1,538 134.4,537.7 134.8,539.9 135.1,537.3 135.4,539 135.8,538 136.1,538.9 136.4,534.9 136.8,536 137.1,536.2 137.4,538.9 137.7,537 138.1,537.9 138.4,534.5 138.7,537.8 139.1,536.4 139.4,537.1 139.7,535.9 140.1,539.8 140.4,537.5 140.7,539.5 141,537.1 141.4,537.2 141.7,536.3 142,537.6 142.4,536.7 142.7,537.9 143,536.5 143.4,538.4 143.7,537.1 144,537.2 144.3,536.5 144.7,539.4 145,537.1 145.3,538 145.7,536.3 146,540.3 146.3,537.8 146.7,537.1 147,536.4 147.3,538.6 147.7,535.7 148,538.2 148.3,537.1 148.6,537.3 149,533.3 149.3,538.5 149.6,536.6 150,538.1 150.3,538.9 150.6,538.1 151,538.4 151.3,537.6 151.6,538.5 151.9,540.3 152.3,536.8 152.6,538.2 152.9,536.1 153.3,538.2 153.6,538 153.9,537.2 154.3,537.1 154.6,539.9 154.9,537.5 155.3,537.5 155.6,536.7 155.9,538.2 156.2,537.9 156.6,539.2 156.9,539 157.2,539.7 157.6,537.6 157.9,540 158.2,536.9 158.6,539.7 158.9,537.8 159.2,541.5 159.5,538.7 159.9,540.1 160.2,538.7 160.5,540.2 160.9,539.1 161.2,538.4 161.5,537.3 161.9,537.4 162.2,537.2 162.5,538.6 162.8,537.5 163.2,538.1 163.5,536.5 163.8,540.5 164.2,536.1 164.5,539.4 164.8,540.1 165.2,539.4 165.5,537.3 165.8,538.1 166.2,536.7 166.5,539.5 166.8,536.6 167.1,537.1 167.5,538.2 167.8,536 168.1,537.4 168.5,539.8 168.8,537.1 169.1,536.8 169.5,538.7 169.8,540.8 170.1,538 170.4,542.3 170.8,536.8 171.1,539.8 171.4,536.9 171.8,540.8 172.1,537 172.4,540.7 172.8,539.3 173.1,541.4 173.4,538.3 173.8,539 174.1,537.5 174.4,540.9 174.7,538 175.1,540 175.4,536.4 175.7,539.4 176.1,538.5 176.4,540.4 176.7,537.5 177.1,540 177.4,539.8 177.7,540.9 178,540.3 178.4,542 178.7,538.9 179,540.2 179.4,537.6 179.7,539.4 180,536.4 180.4,539.6 180.7,541.2 181,540.1 181.3,537.1 181.7,540.1 182,539.1 182.3,541 182.7,539.1 183,541.2 183.3,538.3 183.7,541.3 184,539 184.3,542.8 184.7,540.3 185,539.9 185.3,540.6 185.6,539.1 186,537.9 186.3,538.8 186.6,539 187,542.1 187.3,538.4 187.6,541.7 188,538.5 188.3,540.5 188.6,538.2 188.9,539.7 189.3,537.6 189.6,541.7 189.9,539.8 190.3,540.3 190.6,539.5 190.9,542 191.3,540.4 191.6,540.4 191.9,539.3 192.3,541.3 192.6,538.9 192.9,542.2 193.2,538.2 193.6,540.4 193.9,538.7 194.2,541.4 194.6,540.1 194.9,543.5 195.2,539.2 195.6,540.3 195.9,540.9 196.2,541.6 196.5,538.6 196.9,540.6 197.2,537.8 197.5,541.1 197.9,537.6 198.2,539.1 198.5,537.9 198.9,540 199.2,539.3 199.5,541.1 199.8,539.6 200.2,540.1 200.5,537.5 200.8,540 201.2,538 201.5,540.7 201.8,540 202.2,540.6 202.5,540.6 202.8,541.8 203.2,538.9 203.5,539.4 203.8,542.4 204.1,541.6 204.5,539.5 204.8,541 205.1,539 205.5,539.6 205.8,539.6 206.1,540.6 206.5,536.8 206.8,540.7 207.1,537.6 207.4,541.1 207.8,536.7 208.1,540.1 208.4,539.2 208.8,541.7 209.1,540.2 209.4,540.1 209.8,540.3 210.1,540.2 210.4,537.5 210.8,540.5 211.1,539.7 211.4,541.2 211.7,541.1 212.1,541.3 212.4,540.2 212.7,542.7 213.1,539.8 213.4,542.5 213.7,539.3 214.1,539.7 214.4,540.2 214.7,541.9 215,538 215.4,541.8 215.7,538.5 216,540.1 216.4,538.9 216.7,541.4 217,539.4 217.4,539.7 217.7,538.9 218,541.3 218.3,537.6 218.7,540.5 219,538.9 219.3,541.4 219.7,539.5 220,541.2 220.3,539.3 220.7,539.7 221,540.5 221.3,538.3 221.7,539.3 222,539.9 222.3,536.8 222.6,540.7 223,538.3 223.3,538.7 223.6,535.9 224,540.4 224.3,537.7 224.6,540.9 225,538.3 225.3,539.1 225.6,540.2 225.9,540.8 226.3,538 226.6,539.1 226.9,539.4 227.3,540.3 227.6,538.5 227.9,539.8 228.3,538.9 228.6,540.8 228.9,538.5 229.3,540.6 229.6,537.9 229.9,543.3 230.2,539.2 230.6,538.1 230.9,537.8 231.2,541.2 231.6,537.3 231.9,539.1 232.2,538.6 232.6,538.8 232.9,536.5 233.2,540.9 233.5,536.3 233.9,538.9 234.2,536.7 234.5,540.1 234.9,538.2 235.2,540.1 235.5,538.3 235.9,541.2 236.2,537.4 236.5,539.9 236.8,539.1 237.2,540.7 237.5,538.4 237.8,541.2 238.2,538.2 238.5,541.1 238.8,539.2 239.2,541.1 239.5,537.9 239.8,539.9 240.2,537 240.5,539.4 240.8,537 241.1,540 241.5,537.5 241.8,539.3 242.1,537.8 242.5,540.6 242.8,536.6 243.1,540.1 243.5,537.8 243.8,539.5 244.1,538 244.4,538.7 244.8,537.6 245.1,540.3 245.4,538.1 245.8,540.1 246.1,538.6 246.4,540.6 246.8,538.1 247.1,538.3 247.4,538.7 247.8,538.8 248.1,536.8 248.4,541.2 248.7,539.8 249.1,541.4 249.4,540.4 249.7,541.9 250.1,538.6 250.4,541.2 250.7,540.2 251.1,541.9 251.4,539.2 251.7,540 252,537.5 252.4,538.2 252.7,537.5 253,538.6 253.4,538.4 253.7,539.2 254,537.1 254.4,539.7 254.7,537.4 255,541.6 255.3,537.1 255.7,540.4 256,538.2 256.3,539.9 256.7,536.9 257,540 257.3,537.9 257.7,538.9 258,536.4 258.3,540.5 258.7,538.4 259,540.6 259.3,538.4 259.6,541.2 260,538.7 260.3,541.6 260.6,538.5 261,541.4 261.3,538 261.6,540.7 262,538.8 262.3,540.2 262.6,539.9 262.9,539.3 263.3,536.8 263.6,539.5 263.9,538.2 264.3,540.8 264.6,538.3 264.9,541.1 265.3,536.8 265.6,541.1 265.9,537.1 266.3,540 266.6,537.5 266.9,539.7 267.2,537.1 267.6,539 267.9,537.8 268.2,537.5 268.6,536.8 268.9,539.6 269.2,537.9 269.6,540.1 269.9,540.5 270.2,540.9 270.5,538.8 270.9,542.7 271.2,541.1 271.5,541.8 271.9,541 272.2,540.7 272.5,539.6 272.9,542.4 273.2,540 273.5,542.1 273.8,538.6 274.2,539.3 274.5,540.3 274.8,540.8 275.2,537.6 275.5,541 275.8,538.3 276.2,542.3 276.5,538.6 276.8,541.6 277.2,539.4 277.5,541.8 277.8,539.9 278.1,540.6 278.5,537.6 278.8,540.9 279.1,539.6 279.5,541.4 279.8,540.9 280.1,540.7 280.5,540.6 280.8,541.7 281.1,541.6 281.4,542.4 281.8,540.3 282.1,541.4 282.4,541.1 282.8,544.1 283.1,539.5 283.4,542.3 283.8,540 284.1,542 284.4,540.2 284.8,540.7 285.1,539.4 285.4,541.9 285.7,540.9 286.1,543.6 286.4,543.4 286.7,542.4 287.1,540.3 287.4,543 287.7,541.2 288.1,543 288.4,538.8 288.7,543.7 289,540.6 289.4,542.7 289.7,541.4 290,544.3 290.4,540 290.7,543.1 291,541.1 291.4,541.1 291.7,541.7 292,540.9 292.3,537.7 292.7,541.7 293,540.1 293.3,540.5 293.7,538.5 294,540.6 294.3,537.7 294.7,541.1 295,540 295.3,542.1 295.7,539.4 296,543.2 296.3,541.6 296.6,542.2 297,540.6 297.3,543.1 297.6,540.7 298,541.8 298.3,541.3 298.6,541 299,538.7 299.3,541.2 299.6,540.2 299.9,539.1 300.3,537.8 300.6,542.5 300.9,537.3 301.3,540.6 301.6,540.2 301.9,537.4 302.3,536.4 302.6,540.2 302.9,536.3 303.3,537.1 303.6,536.6 303.9,537.5 304.2,533.4 304.6,535.2 304.9,530.5 305.2,530.9 305.6,527.9 305.9,528.1 306.2,523.9 306.6,524.2 306.9,520 307.2,518.4 307.5,512.7 307.9,509 308.2,497.9 308.5,494 308.9,481 309.2,471.1 309.5,455.6 309.9,444.5 310.2,427 310.5,418.6 310.8,410.3 311.2,416.3 311.5,424.6 311.8,439.5 312.2,450.7 312.5,468.2 312.8,478.1 313.2,488.8 313.5,497.3 313.8,506.3 314.2,512 314.5,516.9 314.8,519.6 315.1,525.4 315.5,526.5 315.8,529.5 316.1,530.9 316.5,533.1 316.8,532.7 317.1,535.1 317.5,535.4 317.8,537.2 318.1,536.7 318.4,538.1 318.8,538.1 319.1,540.4 319.4,537.3 319.8,541.7 320.1,539.1 320.4,540.6 320.8,539.9 321.1,543.2 321.4,540.1 321.8,541.8 322.1,540.5 322.4,542.9 322.7,541.6 323.1,544.5 323.4,541 323.7,543.8 324.1,543.1 324.4,544.7 324.7,543.7 325.1,542.8 325.4,543 325.7,544 326,542.1 326.4,543.8 326.7,542.5 327,544.3 327.4,541.7 327.7,544.5 328,542.9 328.4,544.6 328.7,544.5 329,544.2 329.3,543.9 329.7,544.6 330,544.7 330.3,546.3 330.7,544.4 331,545.4 331.3,544.2 331.7,545.5 332,544.9 332.3,545 332.7,542.1 333,545.7 333.3,543.1 333.6,546.1 334,543.8 334.3,543.7 334.6,546.2 335,543.9 335.3,542.6 335.6,544.5 336,543.8 336.3,545.1 336.6,544.3 336.9,545.5 337.3,544.8 337.6,546.5 337.9,544.6 338.3,546.3 338.6,545.6 338.9,545.9 339.3,543.5 339.6,545.7 339.9,544.9 340.3,545.7 340.6,544.4 340.9,546.7 341.2,545.2 341.6,546 341.9,545.2 342.2,545.4 342.6,544.6 342.9,545.4 343.2,544.5 343.6,547.4 343.9,544.7 344.2,545.6 344.5,546.1 344.9,547.1 345.2,544.8 345.5,546.3 345.9,544.5 346.2,546.9 346.5,545.3 346.9,546.6 347.2,547.1 347.5,546.8 347.8,545.1 348.2,546.1 348.5,544.9 348.8,546.9 349.2,545 349.5,547.6 349.8,546.1 350.2,549.8 350.5,545.7 350.8,546.6 351.2,546.7 351.5,546.7 351.8,546.1 352.1,547.3 352.5,545.2 352.8,547.3 353.1,545.1 353.5,547 353.8,546.4 354.1,547.1 354.5,545.3 354.8,546 355.1,545.3 355.4,546 355.8,544.9 356.1,546.8 356.4,546.4 356.8,547.4 357.1,546.3 357.4,547 357.8,546.7 358.1,547.5 358.4,545.2 358.8,545.7 359.1,545.2 359.4,546.2 359.7,544.8 360.1,546.8 360.4,546.2 360.7,547.8 361.1,547 361.4,548 361.7,545.9 362.1,547 362.4,545.1 362.7,546.8 363,544.6 363.4,548.1 363.7,545.7 364,547.2 364.4,546.3 364.7,547.2 365,545.1 365.4,546.2 365.7,547.2 366,547.2 366.3,546.8 366.7,548.3 367,547.4 367.3,547.4 367.7,545.6 368,547.9 368.3,545.2 368.7,547.1 369,546 369.3,547.4 369.7,546.1 370,547.4 370.3,546.6 370.6,545.7 371,546.1 371.3,547.4 371.6,545.2 372,547.6 372.3,546.4 372.6,547.9 373,546.9 373.3,547.2 373.6,546.7 373.9,548 374.3,546.5 374.6,546.5 374.9,546.3 375.3,546.5 375.6,545.8 375.9,546.5 376.3,546.7 376.6,546.9 376.9,545.8 377.3,546 377.6,547.3 377.9,547.3 378.2,546.6 378.6,547.5 378.9,546.6 379.2,546.9 379.6,545.8 379.9,548.3 380.2,544.9 380.6,547.5 380.9,545.4 381.2,548.3 381.5,545.3 381.9,546.9 382.2,546.5 382.5,547.1 382.9,546.7 383.2,547.1 383.5,546.8 383.9,545.9 384.2,546.5 384.5,548 384.8,546.2 385.2,546.7 385.5,545.8 385.8,547.5 386.2,545.6 386.5,545.5 386.8,546.5 387.2,546.7 387.5,546.1 387.8,546.7 388.2,547.4 388.5,548 388.8,546 389.1,547.5 389.5,545.6 389.8,547.3 390.1,547.3 390.5,545.9 390.8,545.1 391.1,548.2 391.5,546.5 391.8,546.4 392.1,546.1 392.4,547 392.8,545.8 393.1,547.8 393.4,547.2 393.8,547.3 394.1,545.7 394.4,547 394.8,546.9 395.1,546.9 395.4,546.3 395.8,547.4 396.1,545.7 396.4,546.5 396.7,546.5 397.1,547.7 397.4,546.5 397.7,547.9 398.1,547.1 398.4,546.6 398.7,547.4 399.1,547 399.4,546.9 399.7,547.9 400,546.2 400.4,546.6 400.7,545.9 401,546 401.4,545.1 401.7,548.1 402,547.9 402.4,547.7 402.7,547.4 403,548.2 403.3,545.8 403.7,548.6 404,545.9 404.3,548.5 404.7,547.2 405,548.8 405.3,546.5 405.7,546.8 406,547.4 406.3,548.3 406.7,547.4 407,546.9 407.3,545.6 407.6,547.7 408,546.5 408.3,548.1 408.6,546.3 409,546.8 409.3,546.1 409.6,548.4 410,545.2 410.3,547.1 410.6,546.1 410.9,546.6 411.3,546.4 411.6,547.1 411.9,546.5 412.3,547.3 412.6,546.8 412.9,547.8 413.3,546.3 413.6,546.9 413.9,548.1 414.3,548 414.6,547.1 414.9,547.7 415.2,546.1 415.6,548.5 415.9,546.3 416.2,545.5 416.6,545.6 416.9,547.9 417.2,545.1 417.6,547.4 417.9,546.2 418.2,546.4 418.5,547 418.9,548.2 419.2,546.7 419.5,547.2 419.9,546.1 420.2,547 420.5,546.8 420.9,547.7 421.2,545.3 421.5,545.6 421.8,545.7 422.2,547.3 422.5,546.1 422.8,546.8 423.2,545.6 423.5,547.1 423.8,546.3 424.2,547.7 424.5,546 424.8,548.2 425.2,546.3 425.5,547 425.8,546.7 426.1,548.7 426.5,546.8 426.8,548.3 427.1,547.7 427.5,548 427.8,546.4 428.1,547 428.5,547.4 428.8,547.6 429.1,546.2 429.4,547.7 429.8,545.8 430.1,546.8 430.4,546.7 430.8,547.3 431.1,546.7 431.4,547.2 431.8,546.1 432.1,547.5 432.4,546.7 432.8,547.1 433.1,547.2 433.4,546.3 433.7,548.1 434.1,549.3 434.4,546.8 434.7,548.1 435.1,546.8 435.4,547.6 435.7,546.4 436.1,547.7 436.4,547.4 436.7,547.1 437,546.8 437.4,547.4 437.7,546.9 438,547.4 438.4,546.2 438.7,546.9 439,546.5 439.4,547.2 439.7,546.5 440,546.7 440.3,547.1 440.7,547.6 441,548.3 441.3,548.4 441.7,546.6 442,547.7 442.3,545.6 442.7,547.9 443,546.1 443.3,547.7 443.7,546.2 444,548.5 444.3,546.9 444.6,546.5 445,547.2 445.3,548.3 445.6,546.3 446,548 446.3,546.6 446.6,548.4 447,547.7 447.3,547.5 447.6,546.8 447.9,547 448.3,546.7 448.6,546.4 448.9,546 449.3,547.7 449.6,546.7 449.9,547.6 450.3,546.7 450.6,548.3 450.9,546.6 451.3,547.8 451.6,547.1 451.9,547.9 452.2,546.8 452.6,547.5 452.9,546.9 453.2,546.9 453.6,546.1 453.9,548.1 454.2,545.7 454.6,546.4 454.9,546.3 455.2,546.9 455.5,546.4 455.9,547.6 456.2,545.8 456.5,546.9 456.9,546.1 457.2,547.7 457.5,546 457.9,546.4 458.2,546.3 458.5,545.9 458.8,546.1 459.2,546.8 459.5,545.1 459.8,546.5 460.2,545.8 460.5,546.3 460.8,544.8 461.2,545.2 461.5,545.6 461.8,545.4 462.2,544.6 462.5,544.7 462.8,544.2 463.1,543 463.5,542.1 463.8,542.2 464.1,541 464.5,541.8 464.8,539.2 465.1,540.5 465.5,538.9 465.8,540.6 466.1,540 466.4,541.4 466.8,541.7 467.1,543.1 467.4,542.7 467.8,544.2 468.1,544.3 468.4,544.2 468.8,544.6 469.1,544.3 469.4,544.6 469.8,544.5 470.1,544.5 470.4,543.6 470.7,543.9 471.1,543.4 471.4,542 471.7,544.1 472.1,541.5 472.4,542.4 472.7,540.3 473.1,540.3 473.4,537.7 473.7,535.8 474,533.2 474.4,531.4 474.7,528.2 475,524.7 475.4,520 475.7,517.3 476,515.6 476.4,515.2 476.7,513.9 477,516.6 477.3,521 477.7,524.4 478,527.1 478.3,531.1 478.7,532.6 479,536.3 479.3,536.7 479.7,538.6 480,539.7 480.3,542 480.7,541.5 481,542.4 481.3,543.3 481.6,543.6 482,543.6 482.3,545.1 482.6,544.6 483,545.3 483.3,544.6 483.6,544.3 484,543.2 484.3,542.4 484.6,541.9 484.9,542.3 485.3,540.1 485.6,539.9 485.9,538.2 486.3,539.1 486.6,537.5 486.9,538.2 487.3,538.2 487.6,539.7 487.9,539.8 488.3,541.6 488.6,541.6 488.9,543.6 489.2,543.6 489.6,544.3 489.9,543.4 490.2,545.2 490.6,544.5 490.9,546.7 491.2,546 491.6,545.8 491.9,546.2 492.2,546.1 492.5,546.1 492.9,546.5 493.2,546.7 493.5,547.8 493.9,546.3 494.2,547.2 494.5,546.1 494.9,547.4 495.2,546 495.5,546.5 495.8,546.9 496.2,547.2 496.5,546.6 496.8,547 497.2,546 497.5,548.2 497.8,547.3 498.2,547.9 498.5,546.8 498.8,547 499.2,546.6 499.5,547.4 499.8,546.9 500.1,547.8 500.5,546.1 500.8,547 501.1,546.8 501.5,547.5 501.8,546.6 502.1,546.9 502.5,546.3 502.8,548.7 503.1,546.7 503.4,547.1 503.8,546.2 504.1,547.2 504.4,547 504.8,547.5 505.1,545.8 505.4,547.2 505.8,546.7 506.1,547.4 506.4,546.2 506.8,547.9 507.1,548.2 507.4,548 507.7,547.9 508.1,548.1 508.4,547.6 508.7,547.3 509.1,546.4 509.4,547.9 509.7,546.8 510.1,547 510.4,546.4 510.7,546.9 511,546.3 511.4,548.1 511.7,547.1 512,547.8 512.4,547.6 512.7,547.3 513,546.3 513.4,547.7 513.7,545.8 514,547.7 514.3,547.3 514.7,547.9 515,546.1 515.3,547.6 515.7,547.5 516,548.2 516.3,547.4 516.7,548.2 517,547.4 517.3,548 517.7,547.7 518,549 518.3,547.3 518.6,547.2 519,548 519.3,547.1 519.6,546.4 520,547.5 520.3,547.8 520.6,546.8 521,547.7 521.3,548.5 521.6,546.4 521.9,547.9 522.3,547 522.6,548.2 522.9,547.4 523.3,548.3 523.6,547.6 523.9,547.9 524.3,547.5 524.6,546.9 524.9,547.8 525.3,548 525.6,547.2 525.9,547.6 526.2,545.7 526.6,547.8 526.9,546.5 527.2,547.7 527.6,546.3 527.9,547.1 528.2,546.8 528.6,548 528.9,547.5 529.2,548.4 529.5,546.9 529.9,547.9 530.2,547.1 530.5,547.8 530.9,547.4 531.2,547.2 531.5,547.5 531.9,548.4 532.2,546.9 532.5,546.8 532.8,547 533.2,547.8 533.5,546.9 533.8,547.7 534.2,547.4 534.5,547.2 534.8,547.1 535.2,547.7 535.5,547.8 535.8,547.2 536.2,546.8 536.5,547.9 536.8,546.6 537.1,547.8 537.5,547.4 537.8,548.2 538.1,547.4 538.5,548.2 538.8,546.6 539.1,548.4 539.5,546.7 539.8,547.3 540.1,547.2 540.4,547.7 540.8,546.7 541.1,547.9 541.4,545.9 541.8,547.2 542.1,547.4 542.4,547.2 542.8,546 543.1,546.9 543.4,546.8 543.8,548.9 544.1,547.6 544.4,547.8 544.7,547.9 545.1,547.4 545.4,547.7 545.7,547.4 546.1,547.2 546.4,548 546.7,547.2 547.1,548 547.4,547.5 547.7,547.4 548,547.1 548.4,547.5 548.7,547 549,547.1 549.4,547 549.7,547.8 550,546.4 550.4,546.5 550.7,546.5 551,547.9 551.3,547.2 551.7,547.6 552,546.7 552.3,548.3 552.7,547.1 553,547.1 553.3,547.3 553.7,547.4 554,547 554.3,548.1 554.7,547.1 555,547.6 555.3,547.2 555.6,547.3 556,547.2 556.3,547.7 556.6,547.9 557,547.5 557.3,547.2 557.6,548.4 558,547.4 558.3,548.3 558.6,547.1 558.9,547.7 559.3,547.4 559.6,548 559.9,547.2 560.3,547.4 560.6,547.2 560.9,547.4 561.3,547.5 561.6,546.9 561.9,547.2 562.3,547.8 562.6,546.9 562.9,547.4 563.2,546.6 563.6,548.2 563.9,547.3 564.2,548.1 564.6,547.2 564.9,548.3 565.2,547 565.6,547.5 565.9,547.2 566.2,548.2 566.5,548.5 566.9,548.5 567.2,547.2 567.5,548.3 567.9,547.2 568.2,547 568.5,547.3 568.9,548.1 569.2,546.4 569.5,547.8 569.8,547.3 570.2,547.3 570.5,547.5 570.8,548.1 571.2,546.6 571.5,547 571.8,547 572.2,547.8 572.5,546.2 572.8,546.9 573.2,547.9 573.5,547.6 573.8,547 574.1,548.5 574.5,547 574.8,546.7 575.1,547.1 575.5,547.1 575.8,547.1 576.1,546.3 576.5,547.2 576.8,546.6 577.1,546.7 577.4,547.4 577.8,546.9 578.1,548.3 578.4,546.5 578.8,547.7 579.1,546.9 579.4,547.6 579.8,546.5 580.1,547.5 580.4,547.7 580.8,548.6 581.1,547.6 581.4,548.9 581.7,546.4 582.1,548.3 582.4,547.4 582.7,547.9 583.1,546.4 583.4,547.2 583.7,547 584.1,546.9 584.4,546.8 584.7,547.3 585,546.7 585.4,547.8 585.7,547.6 586,547.2 586.4,546.7 586.7,548.2 587,547.2 587.4,548.2 587.7,546.1 588,548 588.3,546.6 588.7,548.3 589,546.3 589.3,547.1 589.7,546.6 590,546.7 590.3,546.8 590.7,547.7 591,547.9 591.3,547.4 591.7,546.3 592,547.8 592.3,547 592.6,547.4 593,546.4 593.3,547.3 593.6,546.3 594,547.3 594.3,546.4 594.6,546 595,546.7 595.3,547.1 595.6,545.2 595.9,546.7 596.3,546.1 596.6,546.5 596.9,547.1 597.3,546.8 597.6,547.6 597.9,547.6 598.3,546.1 598.6,547.9 598.9,547 599.3,546.4 599.6,545.4 599.9,546.7 600.2,546.2 600.6,547.3 600.9,546.3 601.2,546.9 601.6,545.6 601.9,545.8 602.2,545.1 602.6,546.1 602.9,545 603.2,546.1 603.5,545.7 603.9,545.6 604.2,544.9 604.5,544.9 604.9,544.4 605.2,544.8 605.5,543.9 605.9,543.8 606.2,542.3 606.5,542.4 606.8,541.3 607.2,540.9 607.5,538.7 607.8,537.1 608.2,534.9 608.5,532.5 608.8,528.9 609.2,524.7 609.5,518.6 609.8,512.7 610.2,507.5 610.5,500.7 610.8,496 611.1,494.9 611.5,495.9 611.8,502 612.1,506.3 612.5,513.1 612.8,517.9 613.1,524.7 613.5,527.5 613.8,531.9 614.1,533.8 614.4,537.3 614.8,538.8 615.1,540.4 615.4,540.3 615.8,541.6 616.1,541.6 616.4,543.3 616.8,543.7 617.1,544.1 617.4,543.7 617.8,544.3 618.1,545.1 618.4,546.5 618.7,544.2 619.1,545.2 619.4,545.2 619.7,546.5 620.1,546.1 620.4,546.2 620.7,545.3 621.1,546 621.4,546.4 621.7,547 622,546.1 622.4,546.1 622.7,545.9 623,546.9 623.4,546 623.7,547 624,546.3 624.4,546.8 624.7,545.9 625,546.9 625.3,546.7 625.7,547 626,546.9 626.3,546.7 626.7,547.7 627,546.7 627.3,546.6 627.7,546.5 628,546.7 628.3,547.6 628.7,546.8 629,546.9 629.3,548.1 629.6,546.9 630,546.6 630.3,547.4 630.6,546 631,546 631.3,546.6 631.6,547.3 632,547.3 632.3,547.9 632.6,546.2 632.9,547.6 633.3,546.7 633.6,546.7 633.9,547 634.3,548.3 634.6,546.7 634.9,547 635.3,547 635.6,547.9 635.9,546.5 636.3,546.8 636.6,547.1 636.9,547.3 637.2,545.9 637.6,547.7 637.9,546.5 638.2,547 638.6,547.3 638.9,547.2 639.2,546.9 639.6,546.7 639.9,546.6 640.2,546.6 640.5,547.1 640.9,548 641.2,546.9 641.5,547.1 641.9,545.6 642.2,547.4 642.5,546.2 642.9,547.9 643.2,546.1 643.5,547 643.8,546.6 644.2,547.7 644.5,546.8 644.8,547.8 645.2,546.2 645.5,547.5 645.8,547.7 646.2,547.2 646.5,547.4 646.8,547 647.2,547.2 647.5,547 647.8,546.5 648.1,546.2 648.5,548.1 648.8,547.8 649.1,547.3 649.5,547.8 649.8,546.7 650.1,548.3 650.5,547 650.8,547.5 651.1,546.6 651.4,547 651.8,548 652.1,547.8 652.4,547.3 652.8,547.9 653.1,546.7 653.4,547.3 653.8,546.9 654.1,547.6 654.4,547.1 654.8,547 655.1,546.9 655.4,547.5 655.7,546.5 656.1,547 656.4,547 656.7,547.1 657.1,547 657.4,546.6 657.7,547.5 658.1,547.1 658.4,546.8 658.7,547.7 659,546.9 659.4,548.2 659.7,546.8 660,546.5 660.4,547.3 660.7,546.5 661,547 661.4,547.5 661.7,546.5 662,547.2 662.3,547 662.7,547.4 663,546.7 663.3,546.5 663.7,547.1 664,547.7 664.3,547.6 664.7,547.9 665,546.1 665.3,547.9 665.7,546.9 666,547.5 666.3,546.2 666.6,547.3 667,547.2 667.3,547.5 667.6,547.1 668,547.5 668.3,546.7 668.6,546.7 669,547.1 669.3,546.7 669.6,547.5 669.9,546.9 670.3,546.7 670.6,548 670.9,547.3 671.3,547.6 671.6,547 671.9,546.9 672.3,546.5 672.6,547.3 672.9,546.2 673.3,547.2 673.6,547.4 673.9,547.1 674.2,546.5 674.6,546.6 674.9,546.3 675.2,547.5 675.6,546.8 675.9,547.4 676.2,546.9 676.6,547.1 676.9,546.1 677.2,546.7 677.5,546.5 677.9,546.9 678.2,546.6 678.5,546.9 678.9,546.4 679.2,546.9 679.5,546.2 679.9,546.7 680.2,546 680.5,546.9 680.8,546.3 681.2,546.5 681.5,545.4 681.8,545.7 682.2,545.3 682.5,546 682.8,545.3 683.2,545.6 683.5,544.9 683.8,544.2 684.2,543.6 684.5,543.9 684.8,543.7 685.1,543.6 685.5,543.7 685.8,542.6 686.1,541.5 686.5,541.6 686.8,539 687.1,537.3 687.5,535.3 687.8,533 688.1,528.7 688.4,527.8 688.8,524.7 689.1,521.9 689.4,519.8 689.8,519.6 690.1,519.4 690.4,522.2 690.8,523.5 691.1,527.6 691.4,529.9 691.8,533.3 692.1,534.2 692.4,537 692.7,538.6 693.1,540.4 693.4,540.3 693.7,542.3 694.1,541.8 694.4,543.8 694.7,543.1 695.1,543.6 695.4,542.9 695.7,544 696,543.1 696.4,545.3 696.7,544.7 697,544.1 697.4,544.2 697.7,544.7 698,544.6 698.4,544.1 698.7,544.2 699,544.2 699.3,543 699.7,544.1 700,542.9 700.3,543.1 700.7,542.3 701,542 701.3,540.2 701.7,539.6 702,538 702.3,536.5 702.7,533.4 703,531.1 703.3,527.9 703.6,526 704,521.1 704.3,519.3 704.6,515.8 705,516.3 705.3,516.2 705.6,518.8 706,520.7 706.3,524.7 706.6,527.8 706.9,531.8 707.3,533.9 707.6,536.9 707.9,538.6 708.3,539.3 708.6,540.2 708.9,542.2 709.3,541.5 709.6,543.5 709.9,544.2 710.3,544.5 710.6,543.7 710.9,545 711.2,544.3 711.6,544.8 711.9,545 712.2,545.2 712.6,545.5 712.9,545.1 713.2,545.5 713.6,546.3 713.9,544.5 714.2,547 714.5,545.8 714.9,546.2 715.2,546.3 715.5,546.3 715.9,546.1 716.2,547.1 716.5,546.5 716.9,547.2 717.2,547.1 717.5,546.6 717.8,547.4 718.2,547.3 718.5,547.2 718.8,547.4 719.2,546.6 719.5,547.3 719.8,546.2 720.2,546.8 720.5,545.7 720.8,547.1 721.2,546.6 721.5,547.2 721.8,546.5 722.1,546.9 722.5,545.9 722.8,546.8 723.1,546.2 723.5,547.3 723.8,547.8 724.1,548 724.5,546.6 724.8,547.9 725.1,547.8 725.4,547.2 725.8,546.7 726.1,547.2 726.4,547.4 726.8,547.7 727.1,547.2 727.4,547.5 727.8,546.4 728.1,547.1 728.4,546.9 728.8,547.4 729.1,546.4 729.4,547.3 729.7,546.4 730.1,547.8 730.4,547.2 730.7,547.3 731.1,547 731.4,548.1 731.7,547.2 732.1,546.3 732.4,546.7 732.7,547 733,547.1 733.4,547.9 733.7,547.4 734,546.9 734.4,547.2 734.7,547.8 735,547.1 735.4,547.3 735.7,546.8 736,548.3 736.3,545.7 736.7,547.3 737,546.8 737.3,547.1 737.7,546.7 738,546.8 738.3,546.5 738.7,548 739,546.9 739.3,547.5 739.7,547.4 740,547.4 740.3,548.2 740.6,547.3 741,547.4 741.3,548.4 741.6,547.3 742,546.7 742.3,547.2 742.6,547.1 743,547.2 743.3,547.4 743.6,546.1 743.9,547.8 744.3,547.4 744.6,547.4 744.9,546.3 745.3,546.6 745.6,545.8 745.9,547.9 746.3,547.3 746.6,547 746.9,546.3 747.3,547.2 747.6,546.6 747.9,547.4 748.2,547 748.6,547.6 748.9,547 749.2,546.7 749.6,545.6 749.9,547.6 750.2,547.4 750.6,546.7 750.9,546.4 751.2,546.8 751.5,546.2 751.9,547.2 752.2,547.4 752.5,547.1 752.9,546.5 753.2,546.5 753.5,546.6 753.9,547.6 754.2,546 754.5,547.8 754.8,546.2 755.2,546.6 755.5,546.7 755.8,547.1 756.2,547.7 756.5,547.1 756.8,547.2 757.2,547.4 757.5,547 757.8,546.9 758.2,547 758.5,547.6 758.8,546.6 759.1,548.1 759.5,547.7 759.8,547.4 760.1,546.7 760.5,547.2 760.8,547.2 761.1,546.6 761.5,545.8 761.8,547.4 762.1,546.7 762.4,547.5 762.8,547.4 763.1,547.2 763.4,546.4 763.8,546.1 764.1,546.6 764.4,546.8 764.8,546.6 765.1,547.4 765.4,546.1 765.8,547.7 766.1,546.4 766.4,547.4 766.7,546.5 767.1,547.1 767.4,546.9 767.7,547.4 768.1,546.5 768.4,546.7 768.7,546.2 769.1,546.7 769.4,546.5 769.7,546.8 770,546 770.4,547 770.7,545.7 771,546.9 771.4,546.1 771.7,547 772,545.6 772.4,546.4 772.7,546.7 773,546.9 773.3,547.1 773.7,546.8 774,546.6 774.3,547.5 774.7,546.7 775,546.6 775.3,546.6 775.7,547.1 776,546.9 776.3,547.2 776.7,546.4 777,547.2 777.3,546.8 777.6,547.1 778,546.5 778.3,547 778.6,546.8 779,546.9 779.3,546.2 779.6,547.1 780,546.2 780.3,547.1 780.6,545.7 780.9,547 781.3,545.9 781.6,547.4 781.9,546 782.3,546.7 782.6,545.9 782.9,546.9 783.3,546.4 783.6,547.6 783.9,546.8 784.3,546.9 784.6,547 784.9,546.9 785.2,545.6 785.6,546.9 785.9,546 786.2,546.3 786.6,545.4 786.9,546.8 787.2,545.8 787.6,547 787.9,545 788.2,546.3 788.5,545.3 788.9,546.2 789.2,544.9 789.5,545.3 789.9,545.4 790.2,544.9 790.5,544.9 790.9,544.9 791.2,543.1 791.5,544.2 791.8,543.6 792.2,544.8 792.5,542.9 792.8,543.3 793.2,543.1 793.5,543.4 793.8,541.4 794.2,541.7 794.5,541.1 794.8,541 795.2,540.2 795.5,540.2 795.8,538.9 796.1,539.6 796.5,538.2 796.8,538.7 797.1,537.5 797.5,538.3 797.8,537.3 798.1,538.2 798.5,538.3 798.8,538.5 799.1,537.3 799.4,539 799.8,537.4 800.1,537.9 800.4,536.7 800.8,537.7 801.1,537.5 801.4,538.1 801.8,536.6 802.1,536.8 802.4,534.3 802.8,534.3 803.1,532.6 803.4,532.4 803.7,530.4 804.1,529.8 804.4,526.6 804.7,526.4 805.1,525.1 805.4,525.7 805.7,524.7 806.1,526.8 806.4,528.1 806.7,530.1 807,530.7 807.4,533.1 807.7,534.4 808,537.1 808.4,537.8 808.7,539.4 809,539.3 809.4,540.6 809.7,541.7 810,541.8 810.3,542.2 810.7,542.9 811,543 811.3,544.5 811.7,543.4 812,544.8 812.3,544.5 812.7,544.9 813,544.7 813.3,546 813.7,545.5 814,546.2 814.3,544.4 814.6,546 815,544.8 815.3,545.9 815.6,545.3 816,546 816.3,545.3 816.6,546.6 817,545.4 817.3,545.9 817.6,545.4 817.9,546.5 818.3,545.8 818.6,547.1 818.9,546.5 819.3,546.8 819.6,545.1 819.9,546.9 820.3,546.9 820.6,546.5 820.9,545.8 821.3,546.7 821.6,546.6 821.9,547.6 822.2,546.9 822.6,547.2 822.9,546.1 823.2,546.8 823.6,546 823.9,547.1 824.2,546.2 824.6,547.5 824.9,546.1 825.2,547.1 825.5,546.1 825.9,547.2 826.2,544.7 826.5,546.7 826.9,546.2 827.2,546.9 827.5,546.3 827.9,546 828.2,546.2 828.5,546 828.8,546.9 829.2,547.5 829.5,546.3 829.8,547.1 830.2,546.6 830.5,548 830.8,547 831.2,547 831.5,546.2 831.8,547.8 832.2,547.1 832.5,546.4 832.8,547 833.1,547.8 833.5,547.4 833.8,547.3 834.1,546.4 834.5,546.8 834.8,547 835.1,547.3 835.5,546.4 835.8,547.3 836.1,546.4 836.4,547.4 836.8,546.8 837.1,547.3 837.4,547 837.8,547.1 838.1,546.4 838.4,546.8 838.8,546.7 839.1,547.4 839.4,546 839.8,547.4 840.1,546.8 840.4,547 840.7,546.8 841.1,547.1 841.4,547.3 841.7,547.7 842.1,547.3 842.4,547.5 842.7,547.3 843.1,547.5 843.4,547.2 843.7,547.5 844,546.5 844.4,547.8 844.7,546.9 845,547.6 845.4,546.3 845.7,546.4 846,546.9 846.4,546.7 846.7,545.5 847,547.7 847.3,546.9 847.7,546.2 848,546.5 848.3,547.9 848.7,547 849,546.9 849.3,546.6 849.7,547.3 850,546.8 850.3,546.7 850.7,546.3 851,546.6 851.3,546.7 851.6,547.6 852,546.5 852.3,547.5 852.6,546.9 853,546.3 853.3,546.8 853.6,547.2 854,546.3 854.3,547.5 854.6,546.9 854.9,547.5 855.3,546.5 855.6,546.6 855.9,546.2 856.3,547.2 856.6,545.7 856.9,547.4 857.3,546.4 857.6,547.2 857.9,545.9 858.3,546.8 858.6,546.2 858.9,547.2 859.2,546.2 859.6,547.3 859.9,545.8 860.2,546.9 860.6,545.8 860.9,547.1 861.2,546.4 861.6,546.6 861.9,546.3 862.2,546.7 862.5,546.2 862.9,546.9 863.2,546 863.5,546.5 863.9,546.5 864.2,546.7 864.5,545.3 864.9,546.9 865.2,545.7 865.5,546.3 865.8,546.1 866.2,546.4 866.5,546.3 866.8,547.5 867.2,546.7 867.5,546.6 867.8,546 868.2,546.6 868.5,545.7 868.8,546.6 869.2,546.5 869.5,546.7 869.8,547 870.1,547.2 870.5,547.4 870.8,547.2 871.1,545.8 871.5,545.4 871.8,546.4 872.1,546 872.5,546 872.8,547.4 873.1,546 873.4,547 873.8,546.2 874.1,547.8 874.4,547 874.8,546.7 875.1,546 875.4,546.3 875.8,545.6 876.1,545.3 876.4,544.5 876.8,546.3 877.1,545.3 877.4,545.7 877.7,544.9 878.1,546.1 878.4,544.9 878.7,545.9 879.1,544.5 879.4,544.5 879.7,543.1 880.1,544 880.4,542.6 880.7,543.5 881,542.4 881.4,542.2 881.7,541.5 882,540.7 882.4,540.4 882.7,540.2 883,538.4 883.4,539.1 883.7,537.3 884,537.7 884.3,537.3 884.7,536.8 885,537.1 885.3,537.7 885.7,536.6 886,538.2 886.3,538.6 886.7,540.5 887,540.8 887.3,540.9 887.7,541.3 888,541.5 888.3,542.4 888.6,543.2 889,542.9 889.3,544.2 889.6,543.1 890,544 890.3,544.4 890.6,544.4 891,544.4 891.3,545.5 891.6,545.1 891.9,546.4 892.3,545.7 892.6,545.3 892.9,545.3 893.3,546.2 893.6,545.5 893.9,546.1 894.3,546.1 894.6,546.4 894.9,546 895.3,546 895.6,545.5 895.9,546.9 896.2,546.4 896.6,546.9 896.9,545.1 897.2,545.8 897.6,546.3 897.9,545.4 898.2,544.9 898.6,546 898.9,544.8 899.2,545.5 899.5,545.9 899.9,545.9 900.2,545.4 900.5,545.6 900.9,543.7 901.2,544.8 901.5,543.6 901.9,543.8 902.2,542.1 902.5,542.8 902.8,540.8 903.2,541.4 903.5,540.7 903.8,540 904.2,539.7 904.5,539.6 904.8,537.3 905.2,538.8 905.5,537.6 905.8,538.8 906.2,537.1 906.5,538.7 906.8,538.6 907.1,539.3 907.5,538.8 907.8,540.2 908.1,540.3 908.5,541.8 908.8,542.2 909.1,541.9 909.5,542.4 909.8,543.1 910.1,543.4 910.4,544.9 910.8,544.1 911.1,545.6 911.4,544.7 911.8,545.8 912.1,545.6 912.4,545.4 912.8,545.1 913.1,546.7 913.4,546 913.8,546.8 914.1,546.2 914.4,545.5 914.7,545.4 915.1,546.3 915.4,545.9 915.7,546.6 916.1,545.3 916.4,546.7 916.7,545.6 917.1,546.8 917.4,546.6 917.7,546.9 918,546.1 918.4,546.6 918.7,546 919,546.8 919.4,545.4 919.7,547 920,546.2 920.4,546.4 920.7,545.6 921,546 921.3,546.1 921.7,546 922,546.6 922.3,546.8 922.7,546.4 923,546.6 923.3,547.4 923.7,546.5 924,545.8 924.3,547 924.7,546.7 925,546.8 925.3,546.8 925.6,546.8 926,546 926.3,547 926.6,546.3 927,546.8 927.3,546.5 927.6,546.8 928,546 928.3,547 928.6,546 928.9,546.9 929.3,546.5 929.6,546.9 929.9,546.5 930.3,546.9 930.6,546.5 930.9,547 931.3,546.6 931.6,547 931.9,546.9 932.3,547.4 932.6,547 932.9,546.7 933.2,547 933.6,546.7 933.9,546.9 934.2,547.3 934.6,546.6 934.9,547.5 935.2,546.3 935.6,547 935.9,546.4 936.2,546.9 936.5,546.5 936.9,546.9 937.2,545.8 937.5,548 937.9,546.2 938.2,547.4 938.5,546.4 938.9,547.3 939.2,546 939.5,547.5 939.8,546.7 940.2,546 940.5,546.1 940.8,546.5 941.2,545.9 941.5,546.9 941.8,545.9 942.2,546 942.5,546.6 942.8,547.1 943.2,546.4 943.5,547 943.8,546.9 944.1,546.7 944.5,546.3 944.8,547 945.1,546.2 945.5,547 945.8,545.9 946.1,546.8 946.5,545.7 946.8,546.2 947.1,546.5 947.4,546.8 947.8,546.7 948.1,546.1 948.4,545.4 948.8,546.8 949.1,546.1 949.4,546.9 949.8,545.7 950.1,545.8 950.4,546.3 950.8,547.1 951.1,546.5 951.4,547 951.7,546.2 952.1,546.5 952.4,546.7 952.7,546.2 953.1,545.5 953.4,546.2 953.7,546.8 954.1,546.8 954.4,546.6 954.7,547 955,546 955.4,547.1 955.7,545.5 956,546.7 956.4,545.6 956.7,546.3 957,545.3 957.4,546.2 957.7,546 958,545.3 958.3,545.8 958.7,546 959,545.2 959.3,545.8 959.7,545.2 960,545.4 960.3,545.2 960.7,544.6 961,544.9 961.3,545 961.7,543.9 962,545 962.3,543.7 962.6,543.4 963,542.9 963.3,543.3 963.6,542.4 964,541.6 964.3,540.6 964.6,541 965,538.8 965.3,539.3 965.6,537.7 965.9,536.7 966.3,536.3 966.6,535.7 966.9,534.8 967.3,534.3 967.6,532.8 967.9,533.6 968.3,533.4 968.6,534.3 968.9,534.1 969.3,535.7 969.6,535.8 969.9,537.8 970.2,537.1 970.6,538.1 970.9,539.3 971.2,540.7 971.6,540.7 971.9,541.8 972.2,541.9 972.6,542.2 972.9,541.8 973.2,543.9 973.5,544 973.9,543.8 974.2,543.9 974.5,543.9 974.9,544.1 975.2,544.9 975.5,544.3 975.9,544.4 976.2,544.3 976.5,544.8 976.8,544.4 977.2,544 977.5,544.1 977.8,543.4 978.2,543.5 978.5,544.4 978.8,543.7 979.2,543.4 979.5,542.9 979.8,543.4 980.2,542.2 980.5,542.3 980.8,542.2 981.1,542.8 981.5,541.5 981.8,542.1 982.1,542.4 982.5,543.4 982.8,542.8 983.1,543.7 983.5,543.6 983.8,544.6 984.1,543.7 984.4,544.2 984.8,544.6 985.1,544.9 985.4,544.6 985.8,545.5 986.1,544.6 986.4,546.2 986.8,545.4 987.1,545.8 987.4,545.4 987.8,545.7 988.1,545.2 988.4,545.8 988.7,546.1 989.1,546.5 989.4,546.3 989.7,546.9 990.1,546.2 990.4,546.8 990.7,545.9 991.1,546.9 991.4,547.3 991.7,546.7 992,546.7 992.4,546.9 992.7,546.9 993,546.6 993.4,546 993.7,546.8 994,546.8 994.4,546.7 994.7,546 995,546.5 995.3,547 995.7,546.4 996,547.2 996.3,546.5 996.7,546 997,546.5 997.3,546.5 997.7,546.4 998,546 998.3,546.6 998.7,546.5 999,547.2 999.3,546.1 999.6,547 1000,546.2 1000.3,547.2 1000.6,546.8 1001,546.6 1001.3,546.1 1001.6,547.2 1002,546.1 1002.3,546.4 1002.6,546.4 1002.9,546.3 1003.3,546.9 1003.6,547.8 1003.9,546.5 1004.3,547.7 1004.6,546.7 1004.9,547.2 1005.3,546.4 1005.6,546.5 1005.9,547.6 1006.3,547.5 1006.6,546.2 1006.9,547.3 1007.2,546.3 1007.6,546.9 1007.9,547 1008.2,547.4 1008.6,546.6 1008.9,546.9 1009.2,545.8 1009.6,546.4 1009.9,546.6 1010.2,547.1 1010.5,546.9 1010.9,546.8 1011.2,545.9 1011.5,547.9 1011.9,547.2 1012.2,546.3 1012.5,546.4 1012.9,546.6 1013.2,546.4 1013.5,546.5 1013.8,547 1014.2,547.3 1014.5,547 1014.8,547.8 1015.2,547.1 1015.5,546.7 1015.8,545.9 1016.2,546.9 1016.5,545.9 1016.8,547 1017.2,547.4 1017.5,547.2 1017.8,545.4 1018.1,547.5 1018.5,547.3 1018.8,547.4 1019.1,546.5 1019.5,547.9 1019.8,546.8 1020.1,546.9 1020.5,547.2 1020.8,546.6 1021.1,546.9 1021.4,546.6 1021.8,547.2 1022.1,547 1022.4,546.9 1022.8,547.5 1023.1,547.1 1023.4,546.2 1023.8,546.8 1024.1,546.6 1024.4,547.5 1024.8,547.1 1025.1,546.5 1025.4,546.7 1025.7,546.2 1026.1,548.3 1026.4,545.4 1026.7,547.2 1027.1,547 1027.4,547.4 1027.7,546.8 1028.1,547.5 1028.4,546.4 1028.7,547 1029,546.3 1029.4,547 1029.7,547.1 1030,547.1 1030.4,546.5 1030.7,548.1 1031,546.5 1031.4,546.8 1031.7,546.7 1032,548 1032.3,547 1032.7,546.6 1033,546.5 1033.3,546.7 1033.7,546.4 1034,546.5"/>
<polyline fill="none" stroke="#c47ae2" stroke-width="5.5" stroke-linejoin="round" points="109,390.4 109.3,387.8 109.7,388.7 110,387.5 110.3,387.7 110.7,388.1 111,389.3 111.3,386.7 111.6,391.4 112,388.9 112.3,390 112.6,388.2 113,391.3 113.3,389 113.6,390.8 114,389.3 114.3,390.6 114.6,389.3 114.9,391.4 115.3,389.2 115.6,391.4 115.9,388.2 116.3,389.1 116.6,388.3 116.9,389.3 117.3,388.7 117.6,390.5 117.9,389.1 118.3,390.5 118.6,388.5 118.9,389.8 119.2,388.1 119.6,390.6 119.9,389.4 120.2,390.8 120.6,389.1 120.9,391 121.2,388.2 121.6,389.5 121.9,387.5 122.2,390 122.5,388.6 122.9,390.7 123.2,390 123.5,389.3 123.9,388.8 124.2,388.7 124.5,390.3 124.9,390.5 125.2,388.9 125.5,390.9 125.8,389.4 126.2,390 126.5,387.1 126.8,390.4 127.2,387.8 127.5,390.5 127.8,388 128.2,390.6 128.5,388.5 128.8,388.9 129.2,388.2 129.5,390.2 129.8,387.8 130.1,390.4 130.5,388.7 130.8,389.7 131.1,388.7 131.5,390 131.8,389.2 132.1,390.8 132.5,388.1 132.8,391.6 133.1,388.3 133.4,390.8 133.8,390.2 134.1,390.3 134.4,389.2 134.8,390.9 135.1,389.1 135.4,389.8 135.8,390.1 136.1,390.8 136.4,387.8 136.8,391.1 137.1,390.2 137.4,390.2 137.7,389.2 138.1,388.9 138.4,389.6 138.7,391.4 139.1,388.2 139.4,390.6 139.7,388 140.1,389.4 140.4,388.5 140.7,390.5 141,387.3 141.4,389.6 141.7,387.8 142,389.5 142.4,388.7 142.7,390.4 143,389.1 143.4,390.7 143.7,389.5 144,389.9 144.3,389.5 144.7,391 145,389.8 145.3,391.2 145.7,391.4 146,389.9 146.3,389.2 146.7,390.3 147,388.8 147.3,390.1 147.7,389.2 148,390.8 148.3,390.3 148.6,391.9 149,389.5 149.3,391.8 149.6,389.8 150,390.8 150.3,390.4 150.6,392.1 151,389.2 151.3,390.8 151.6,389.5 151.9,390 152.3,390 152.6,390.3 152.9,389.3 153.3,390 153.6,388.6 153.9,390 154.3,387.2 154.6,391 154.9,387.1 155.3,389 155.6,388.7 155.9,390 156.2,388.2 156.6,388.9 156.9,389 157.2,390.1 157.6,388.6 157.9,390.7 158.2,389.6 158.6,389.7 158.9,389.4 159.2,390.9 159.5,389.7 159.9,392.3 160.2,389.4 160.5,392.2 160.9,388.2 161.2,390.1 161.5,389.2 161.9,390 162.2,389.6 162.5,391 162.8,390.9 163.2,390.3 163.5,389.1 163.8,391.4 164.2,388.7 164.5,392 164.8,388.2 165.2,391.7 165.5,387.9 165.8,390.7 166.2,389.8 166.5,390 166.8,389.3 167.1,390.2 167.5,388.7 167.8,390.3 168.1,387.6 168.5,391 168.8,389 169.1,390.4 169.5,389.4 169.8,391.4 170.1,390.2 170.4,390 170.8,388.9 171.1,391.7 171.4,389.2 171.8,391.2 172.1,390 172.4,390.7 172.8,388.6 173.1,392 173.4,388.9 173.8,390.6 174.1,389.8 174.4,390.9 174.7,390.4 175.1,391.3 175.4,389.7 175.7,390 176.1,389.7 176.4,390.9 176.7,387.2 177.1,390.8 177.4,390.2 177.7,390.2 178,390.3 178.4,389.7 178.7,388.4 179,389.6 179.4,389.8 179.7,389 180,388.4 180.4,390.2 180.7,387.7 181,390.2 181.3,389.2 181.7,390.8 182,388.6 182.3,390.8 182.7,388.8 183,391.3 183.3,387.4 183.7,391.7 184,388.1 184.3,390.8 184.7,389 185,389.5 185.3,389.1 185.6,390.9 186,389.3 186.3,390.3 186.6,388.4 187,389.9 187.3,388.7 187.6,389.9 188,388.3 188.3,389.6 188.6,389.9 188.9,391.8 189.3,390.5 189.6,391.2 189.9,388.5 190.3,391.3 190.6,388.3 190.9,391.1 191.3,390.3 191.6,390.7 191.9,389 192.3,389.9 192.6,389.2 192.9,389.4 193.2,389.3 193.6,389.5 193.9,389.2 194.2,391.8 194.6,390.3 194.9,392.1 195.2,388.9 195.6,391.4 195.9,389.6 196.2,390.3 196.5,389.7 196.9,389.5 197.2,387.6 197.5,388.5 197.9,389.3 198.2,389.2 198.5,388.2 198.9,389.3 199.2,388.7 199.5,391.1 199.8,388.4 200.2,390.7 200.5,388.5 200.8,389.6 201.2,389.1 201.5,389.5 201.8,389.2 202.2,390.7 202.5,388.4 202.8,390.6 203.2,388.9 203.5,390.8 203.8,389.8 204.1,391.1 204.5,388.7 204.8,390 205.1,388.4 205.5,391.3 205.8,388.3 206.1,389.8 206.5,389.5 206.8,389.8 207.1,389.6 207.4,390 207.8,389.6 208.1,390.2 208.4,388.2 208.8,390.2 209.1,389.2 209.4,390 209.8,390.3 210.1,391.5 210.4,390.4 210.8,390.4 211.1,389.6 211.4,391.1 211.7,389.1 212.1,391.7 212.4,388.7 212.7,390.5 213.1,388.8 213.4,391.1 213.7,389.7 214.1,390.8 214.4,389.4 214.7,390.8 215,389 215.4,392.1 215.7,389.1 216,390 216.4,390.4 216.7,390.1 217,388.7 217.4,390.7 217.7,388.6 218,390.7 218.3,387.6 218.7,390.7 219,389.4 219.3,390.7 219.7,389.9 220,390.3 220.3,389 220.7,391.2 221,388.8 221.3,391.1 221.7,389.3 222,390.4 222.3,388 222.6,389.6 223,388.5 223.3,390.2 223.6,387 224,389.7 224.3,387.7 224.6,389.2 225,387.7 225.3,389.7 225.6,388.4 225.9,390.5 226.3,388.1 226.6,389.7 226.9,389.8 227.3,389.6 227.6,387.5 227.9,390 228.3,388.7 228.6,391.1 228.9,389 229.3,390.6 229.6,388.1 229.9,390 230.2,387.2 230.6,390.9 230.9,387.7 231.2,391.2 231.6,388.6 231.9,391.7 232.2,388.6 232.6,390 232.9,388.7 233.2,389.7 233.5,388.6 233.9,391.1 234.2,387.4 234.5,389.6 234.9,388.1 235.2,389.5 235.5,388.9 235.9,389.5 236.2,387.7 236.5,391.1 236.8,387.7 237.2,390.2 237.5,388.7 237.8,389.2 238.2,389.1 238.5,390.7 238.8,388.9 239.2,390.2 239.5,387.5 239.8,390.3 240.2,387.5 240.5,389.7 240.8,388.2 241.1,389 241.5,388.1 241.8,389.9 242.1,389.9 242.5,390.5 242.8,389.3 243.1,391 243.5,388.6 243.8,390.1 244.1,390 244.4,392.1 244.8,389.2 245.1,389.9 245.4,391.4 245.8,389.9 246.1,388.9 246.4,390.6 246.8,388.9 247.1,390.8 247.4,390.5 247.8,390.3 248.1,390.3 248.4,390.4 248.7,389.9 249.1,390.1 249.4,389 249.7,389.5 250.1,388.8 250.4,392.1 250.7,388.9 251.1,390.9 251.4,389.7 251.7,389.5 252,387.7 252.4,390.1 252.7,389.1 253,389.7 253.4,388.3 253.7,390 254,389.6 254.4,391.4 254.7,388.3 255,392 255.3,390.1 255.7,389.4 256,389.6 256.3,388.5 256.7,387.6 257,389.2 257.3,387.1 257.7,389.7 258,389 258.3,391.4 258.7,389.5 259,390.3 259.3,389.5 259.6,391.8 260,388.7 260.3,390.1 260.6,387.8 261,389.7 261.3,390.9 261.6,391.4 262,388.2 262.3,390.3 262.6,389.5 262.9,389.3 263.3,387.7 263.6,389.8 263.9,389 264.3,391.2 264.6,389.7 264.9,390.9 265.3,388.9 265.6,390.7 265.9,389.6 266.3,390.6 266.6,390.2 266.9,391.4 267.2,389.8 267.6,391.8 267.9,391.5 268.2,392.2 268.6,388.5 268.9,390.9 269.2,389.3 269.6,390.6 269.9,388.1 270.2,391 270.5,389.9 270.9,390.9 271.2,390.3 271.5,390.3 271.9,389.5 272.2,390.2 272.5,388.2 272.9,390.5 273.2,388.6 273.5,390.9 273.8,389.8 274.2,391.1 274.5,389.3 274.8,390.1 275.2,390 275.5,390.3 275.8,388.6 276.2,390.6 276.5,389.8 276.8,390.8 277.2,388.4 277.5,391.1 277.8,388.3 278.1,389.3 278.5,390.7 278.8,390.9 279.1,389 279.5,391.2 279.8,388.4 280.1,390 280.5,389.4 280.8,390.2 281.1,390.1 281.4,391.1 281.8,389.7 282.1,391 282.4,389.1 282.8,389.7 283.1,389.2 283.4,390.8 283.8,389.3 284.1,390.9 284.4,389.9 284.8,391.4 285.1,389.8 285.4,390.8 285.7,389.4 286.1,390.1 286.4,390.4 286.7,392 287.1,391.7 287.4,390.5 287.7,390.5 288.1,391.2 288.4,389.1 288.7,389.3 289,389.4 289.4,392.8 289.7,390.2 290,391.5 290.4,389.4 290.7,390.1 291,390.2 291.4,390.1 291.7,389.6 292,391.6 292.3,389.6 292.7,390.9 293,389.2 293.3,388.8 293.7,389.7 294,391.3 294.3,389.5 294.7,389.3 295,389.4 295.3,388.9 295.7,386.7 296,389.6 296.3,389.2 296.6,389.8 297,390.1 297.3,390.6 297.6,387.4 298,389.1 298.3,387.4 298.6,388.8 299,385.7 299.3,388.7 299.6,386.8 299.9,388.9 300.3,386 300.6,388.8 300.9,388.2 301.3,389.6 301.6,386.6 301.9,387 302.3,386.4 302.6,386.2 302.9,384.8 303.3,386 303.6,383.3 303.9,386.8 304.2,382.5 304.6,384.2 304.9,382.6 305.2,382.1 305.6,380.6 305.9,379 306.2,376.6 306.6,375.6 306.9,371.6 307.2,369.2 307.5,363.3 307.9,359.7 308.2,352.6 308.5,347.7 308.9,338.5 309.2,326.5 309.5,311.9 309.9,299.1 310.2,283.2 310.5,271.2 310.8,260 311.2,257.5 311.5,259 311.8,271.6 312.2,283.3 312.5,299.3 312.8,312.8 313.2,328.1 313.5,336 313.8,347.3 314.2,354.2 314.5,359.5 314.8,363 315.1,369.1 315.5,372 315.8,374.6 316.1,376.7 316.5,378.7 316.8,380.1 317.1,381.6 317.5,382.8 317.8,383.3 318.1,384.4 318.4,385.5 318.8,385.9 319.1,386.7 319.4,386.8 319.8,387.7 320.1,388 320.4,388.5 320.8,388.7 321.1,389.1 321.4,389.5 321.8,389.9 322.1,390.2 322.4,390.4 322.7,390.1 323.1,390.9 323.4,390.5 323.7,390.8 324.1,390.9 324.4,391.2 324.7,391.4 325.1,391.5 325.4,391 325.7,391.8 326,391.5 326.4,391.9 326.7,391.8 327,392 327.4,392.1 327.7,392.1 328,392.1 328.4,392.1 328.7,392.3 329,392.6 329.3,392.2 329.7,392.6 330,392.3 330.3,392.9 330.7,392.8 331,393 331.3,392.3 331.7,392.8 332,392.7 332.3,392.8 332.7,392.6 333,393.2 333.3,392.8 333.6,393.5 334,393.2 334.3,393.5 334.6,392.8 335,393.7 335.3,393 335.6,393.1 336,393.5 336.3,393.5 336.6,393.1 336.9,393 337.3,393.1 337.6,393.5 337.9,393.2 338.3,393.5 338.6,393.5 338.9,393.5 339.3,393.5 339.6,393.5 339.9,393.6 340.3,393.6 340.6,393.1 340.9,393.8 341.2,393.8 341.6,394 341.9,393.6 342.2,394 342.6,394 342.9,393.9 343.2,393.8 343.6,393.9 343.9,394 344.2,393.9 344.5,394 344.9,394.1 345.2,394 345.5,394.1 345.9,393.8 346.2,393.9 346.5,394.2 346.9,394.3 347.2,394.1 347.5,394.1 347.8,394.2 348.2,394.4 348.5,394.2 348.8,394.1 349.2,394.1 349.5,394 349.8,394 350.2,394.4 350.5,393.9 350.8,394.6 351.2,394.3 351.5,394.4 351.8,394.1 352.1,394.4 352.5,394.2 352.8,394.5 353.1,394.2 353.5,394.4 353.8,394.1 354.1,394.5 354.5,394.1 354.8,394.6 355.1,394.3 355.4,394.4 355.8,394.3 356.1,394.8 356.4,394.3 356.8,394.3 357.1,394.3 357.4,394.7 357.8,394.2 358.1,394.4 358.4,394.5 358.8,394.6 359.1,394.2 359.4,394.5 359.7,394.5 360.1,394.6 360.4,394.3 360.7,394.6 361.1,394.3 361.4,394.5 361.7,394.1 362.1,394.8 362.4,394.3 362.7,394.8 363,394.7 363.4,394.5 363.7,394.2 364,394.4 364.4,394.5 364.7,394.5 365,394.2 365.4,394.6 365.7,394.1 366,394.6 366.3,394.4 366.7,394.8 367,394.5 367.3,394.9 367.7,394.5 368,394.8 368.3,394.7 368.7,394.3 369,394.7 369.3,394.6 369.7,394.9 370,394.7 370.3,394.5 370.6,394.8 371,394.6 371.3,394.9 371.6,394.4 372,394.8 372.3,394.6 372.6,394.8 373,394.5 373.3,394.9 373.6,394.3 373.9,394.5 374.3,394.4 374.6,394.7 374.9,394.5 375.3,394.7 375.6,394.6 375.9,394.7 376.3,394.1 376.6,395.1 376.9,394.4 377.3,395.1 377.6,394.5 377.9,394.6 378.2,394.8 378.6,395 378.9,394.4 379.2,394.7 379.6,394.7 379.9,394.8 380.2,394.6 380.6,394.6 380.9,394.7 381.2,395 381.5,394.9 381.9,394.9 382.2,394.7 382.5,394.5 382.9,394.7 383.2,394.8 383.5,394.6 383.9,394.9 384.2,394.5 384.5,395.2 384.8,394.7 385.2,394.8 385.5,394.7 385.8,394.8 386.2,394.3 386.5,394.9 386.8,394.6 387.2,394.9 387.5,394.6 387.8,394.8 388.2,394.6 388.5,395 388.8,394.4 389.1,395.1 389.5,394.6 389.8,394.7 390.1,394.7 390.5,395 390.8,394.5 391.1,394.9 391.5,394.9 391.8,394.9 392.1,395 392.4,394.8 392.8,395 393.1,395.1 393.4,394.7 393.8,394.9 394.1,394.8 394.4,395 394.8,394.8 395.1,395.1 395.4,394.8 395.8,395 396.1,394.6 396.4,394.9 396.7,394.6 397.1,395 397.4,394.8 397.7,394.8 398.1,394.7 398.4,395.1 398.7,394.8 399.1,394.9 399.4,394.6 399.7,394.8 400,394.7 400.4,395.1 400.7,394.3 401,394.9 401.4,394.4 401.7,394.7 402,395.2 402.4,395.4 402.7,395 403,395.2 403.3,394.8 403.7,395.1 404,394.8 404.3,395.2 404.7,394.8 405,395.1 405.3,394.8 405.7,394.8 406,394.7 406.3,395 406.7,394.8 407,395.1 407.3,395.1 407.6,395 408,395 408.3,395.6 408.6,394.8 409,394.9 409.3,394.7 409.6,395.1 410,394.8 410.3,395 410.6,395 410.9,395.2 411.3,394.9 411.6,395.1 411.9,394.8 412.3,395 412.6,394.8 412.9,395.1 413.3,394.8 413.6,395.1 413.9,394.8 414.3,395 414.6,394.8 414.9,395.2 415.2,395.1 415.6,395.2 415.9,395 416.2,395.1 416.6,394.8 416.9,395.4 417.2,395 417.6,395.2 417.9,394.7 418.2,394.9 418.5,395 418.9,395.1 419.2,395 419.5,395.1 419.9,394.7 420.2,395 420.5,395 420.9,394.9 421.2,394.8 421.5,395.2 421.8,395.2 422.2,395.2 422.5,395.1 422.8,395.1 423.2,394.8 423.5,394.9 423.8,394.8 424.2,395.2 424.5,394.7 424.8,395.2 425.2,394.9 425.5,395.3 425.8,395 426.1,395 426.5,394.6 426.8,395.2 427.1,394.9 427.5,395.2 427.8,395 428.1,395.3 428.5,394.9 428.8,395.3 429.1,395.1 429.4,395.1 429.8,395.3 430.1,395.4 430.4,395.2 430.8,395.2 431.1,395.1 431.4,394.8 431.8,395 432.1,395.2 432.4,394.8 432.8,395.2 433.1,394.7 433.4,395.3 433.7,394.8 434.1,395.1 434.4,394.9 434.7,395.1 435.1,395.2 435.4,395.3 435.7,394.9 436.1,395.5 436.4,395.2 436.7,395.6 437,395 437.4,395.2 437.7,394.8 438,395.2 438.4,394.9 438.7,395.1 439,395 439.4,395.1 439.7,394.6 440,395.2 440.3,395 440.7,395.2 441,395 441.3,395.1 441.7,394.8 442,395.1 442.3,394.9 442.7,394.8 443,395.2 443.3,395 443.7,395 444,395.2 444.3,394.9 444.6,395.4 445,394.7 445.3,395 445.6,395 446,395.1 446.3,395.1 446.6,395 447,395 447.3,395.3 447.6,395.2 447.9,395.3 448.3,394.8 448.6,395.3 448.9,394.8 449.3,395.2 449.6,394.9 449.9,394.9 450.3,394.6 450.6,395.1 450.9,394.9 451.3,395 451.6,394.9 451.9,395.2 452.2,394.7 452.6,395.2 452.9,394.7 453.2,395.3 453.6,394.6 453.9,395 454.2,394.5 454.6,394.8 454.9,395 455.2,394.7 455.5,394.9 455.9,394.9 456.2,394.6 456.5,394.9 456.9,394.5 457.2,394.8 457.5,394.5 457.9,394.4 458.2,394.7 458.5,394.8 458.8,394.4 459.2,395 459.5,394.6 459.8,394.4 460.2,394 460.5,394.3 460.8,393.9 461.2,393.9 461.5,393.5 461.8,393.3 462.2,393 462.5,392.7 462.8,391.9 463.1,391.7 463.5,390.6 463.8,390.2 464.1,389.2 464.5,388.8 464.8,388.4 465.1,388 465.5,388.3 465.8,388.5 466.1,389 466.4,389.9 466.8,390.8 467.1,391.2 467.4,391.7 467.8,392.1 468.1,392.2 468.4,392.9 468.8,392.7 469.1,393.1 469.4,392.6 469.8,392.9 470.1,392.9 470.4,393.1 470.7,392.6 471.1,392.8 471.4,392.3 471.7,391.9 472.1,391.4 472.4,391.3 472.7,390.4 473.1,389.9 473.4,389 473.7,387.8 474,386.2 474.4,384.5 474.7,381.9 475,379.5 475.4,376.8 475.7,374.1 476,370.8 476.4,369.2 476.7,368.5 477,368.8 477.3,370.2 477.7,372.9 478,375.4 478.3,378.4 478.7,380.8 479,383.2 479.3,385.4 479.7,386.8 480,388.2 480.3,389.5 480.7,389.8 481,391 481.3,391.3 481.6,391.6 482,391.9 482.3,392.3 482.6,391.9 483,392.3 483.3,391.8 483.6,391.9 484,391.6 484.3,391.2 484.6,390.4 484.9,390.4 485.3,389.1 485.6,388.5 485.9,387.6 486.3,387.1 486.6,386.4 486.9,386.3 487.3,386.4 487.6,387.4 487.9,388 488.3,389.1 488.6,389.8 488.9,390.6 489.2,391.2 489.6,392.1 489.9,392.4 490.2,392.9 490.6,393.1 490.9,393.6 491.2,393.7 491.6,394.1 491.9,393.8 492.2,394.4 492.5,394.2 492.9,394.3 493.2,394.3 493.5,394.4 493.9,394.4 494.2,394.5 494.5,394.7 494.9,394.8 495.2,394.6 495.5,395.1 495.8,394.9 496.2,395 496.5,394.8 496.8,394.9 497.2,394.9 497.5,394.9 497.8,395.1 498.2,395 498.5,395 498.8,395.1 499.2,395 499.5,395.1 499.8,394.7 500.1,395 500.5,394.9 500.8,395.4 501.1,395.3 501.5,395.2 501.8,394.8 502.1,395.2 502.5,395 502.8,395.4 503.1,395 503.4,395.2 503.8,395.1 504.1,395.4 504.4,395 504.8,395.3 505.1,395.2 505.4,395.3 505.8,394.9 506.1,395 506.4,395.1 506.8,395.2 507.1,395.3 507.4,395.2 507.7,395 508.1,395.4 508.4,395.2 508.7,395.6 509.1,395.2 509.4,395.3 509.7,395.2 510.1,395.4 510.4,395.1 510.7,395.5 511,395.1 511.4,395.4 511.7,395.2 512,395.3 512.4,395.1 512.7,395.4 513,395.5 513.4,395.6 513.7,395.3 514,395.4 514.3,395.3 514.7,395.5 515,395.3 515.3,395.4 515.7,395.2 516,395.8 516.3,395.3 516.7,395.3 517,395.3 517.3,395.4 517.7,395 518,395.2 518.3,395.2 518.6,395.5 519,395.1 519.3,395.4 519.6,395.2 520,395.4 520.3,395.1 520.6,395.4 521,395 521.3,395.5 521.6,395.2 521.9,395.3 522.3,395.2 522.6,395.5 522.9,395.4 523.3,395.4 523.6,395 523.9,395.4 524.3,395.2 524.6,395.2 524.9,395.2 525.3,395.5 525.6,395.3 525.9,395.5 526.2,395.2 526.6,395.3 526.9,395.3 527.2,395.2 527.6,395.4 527.9,395.6 528.2,395.5 528.6,395.4 528.9,395.5 529.2,395.5 529.5,395.6 529.9,395.6 530.2,395.5 530.5,395.5 530.9,395.3 531.2,395.5 531.5,395.4 531.9,395.3 532.2,395.3 532.5,395.7 532.8,395.2 533.2,395.4 533.5,395.3 533.8,395.6 534.2,395.4 534.5,395.6 534.8,395.3 535.2,395.7 535.5,395.5 535.8,395.4 536.2,395.4 536.5,395.3 536.8,395.6 537.1,395.5 537.5,395.8 537.8,395.4 538.1,395.4 538.5,395.6 538.8,395.4 539.1,395.7 539.5,395.2 539.8,395.5 540.1,395.5 540.4,395.4 540.8,395.3 541.1,395.5 541.4,395.2 541.8,395.7 542.1,395.2 542.4,395.4 542.8,395.5 543.1,395.2 543.4,395.3 543.8,395.2 544.1,395.3 544.4,395.4 544.7,395.2 545.1,395.2 545.4,395.5 545.7,395.5 546.1,395.2 546.4,395.4 546.7,395.1 547.1,395.4 547.4,395.2 547.7,395.5 548,395.4 548.4,395.3 548.7,395.3 549,395.4 549.4,395.5 549.7,395.4 550,395.3 550.4,395.4 550.7,395.2 551,395.6 551.3,395.5 551.7,395.4 552,395.3 552.3,395.4 552.7,395.1 553,395.2 553.3,395.2 553.7,395.4 554,395.2 554.3,395.5 554.7,395.4 555,395.6 555.3,395.5 555.6,395.7 556,395.6 556.3,395.6 556.6,395.3 557,395.4 557.3,395.1 557.6,395.5 558,395.4 558.3,395.3 558.6,395.2 558.9,395.4 559.3,395.2 559.6,395.5 559.9,395.4 560.3,395.3 560.6,395.4 560.9,395.7 561.3,395.2 561.6,395.2 561.9,395.3 562.3,395.4 562.6,395.2 562.9,395.3 563.2,395 563.6,395.2 563.9,395.4 564.2,395.3 564.6,395.6 564.9,395.7 565.2,395.5 565.6,395.2 565.9,395 566.2,395.1 566.5,395.4 566.9,395.6 567.2,395.3 567.5,395.4 567.9,395.2 568.2,395.7 568.5,395.2 568.9,395.7 569.2,395.3 569.5,395.5 569.8,395.4 570.2,395.4 570.5,395.6 570.8,395.7 571.2,395.1 571.5,395.3 571.8,395.5 572.2,395.2 572.5,395.1 572.8,395.5 573.2,395.3 573.5,395.6 573.8,395.5 574.1,395.3 574.5,395.3 574.8,395.4 575.1,395.3 575.5,395.5 575.8,395.2 576.1,395.5 576.5,395.2 576.8,395.1 577.1,395.2 577.4,395.4 577.8,395.3 578.1,395.4 578.4,395 578.8,395.4 579.1,394.7 579.4,395.4 579.8,395 580.1,395.6 580.4,395.2 580.8,395.3 581.1,395.1 581.4,395.5 581.7,395.5 582.1,395.5 582.4,395.1 582.7,395.4 583.1,395.1 583.4,395.2 583.7,395 584.1,395 584.4,395.1 584.7,395.3 585,395.1 585.4,395.2 585.7,395.1 586,395.5 586.4,395.1 586.7,395.3 587,395.4 587.4,395.3 587.7,395 588,395.3 588.3,395.2 588.7,395.3 589,394.7 589.3,395.1 589.7,395.1 590,395.2 590.3,395.2 590.7,395.3 591,394.9 591.3,395.6 591.7,395 592,395.6 592.3,395.2 592.6,395.4 593,395 593.3,395.1 593.6,395.2 594,395.3 594.3,395 594.6,395.1 595,394.9 595.3,395.1 595.6,394.9 595.9,395 596.3,394.9 596.6,395.1 596.9,395.1 597.3,395.3 597.6,395 597.9,395 598.3,395 598.6,395.1 598.9,394.7 599.3,394.8 599.6,394.8 599.9,394.8 600.2,394.8 600.6,394.9 600.9,394.4 601.2,394.7 601.6,394.5 601.9,394.4 602.2,394 602.6,394.5 602.9,394.3 603.2,394.2 603.5,394 603.9,393.8 604.2,393.4 604.5,393.4 604.9,393.6 605.2,393 605.5,393 605.9,392.7 606.2,391.9 606.5,392 606.8,391 607.2,391.1 607.5,390 607.8,389 608.2,387.6 608.5,386.1 608.8,383.9 609.2,381 609.5,377.5 609.8,373.5 610.2,368.4 610.5,363.8 610.8,358.8 611.1,355.2 611.5,353.2 611.8,354.1 612.1,357 612.5,361.9 612.8,366.7 613.1,371.5 613.5,375.8 613.8,379.9 614.1,382.5 614.4,385 614.8,386.9 615.1,388.5 615.4,389.4 615.8,390.6 616.1,391 616.4,391.6 616.8,391.9 617.1,392.5 617.4,392.7 617.8,393.5 618.1,393 618.4,393.7 618.7,393.4 619.1,393.9 619.4,393.8 619.7,394.2 620.1,394 620.4,394.5 620.7,394.2 621.1,394.6 621.4,394.3 621.7,394.4 622,394.3 622.4,394.5 622.7,394.2 623,394.8 623.4,394.6 623.7,395.1 624,394.7 624.4,394.9 624.7,394.6 625,395 625.3,394.5 625.7,395 626,394.7 626.3,394.8 626.7,394.8 627,395.2 627.3,395.1 627.7,395.2 628,395.1 628.3,395.1 628.7,395 629,395.1 629.3,394.9 629.6,395.2 630,394.9 630.3,395.3 630.6,395.1 631,395.4 631.3,395.2 631.6,395.5 632,394.9 632.3,395.6 632.6,395.2 632.9,395.3 633.3,395 633.6,395.2 633.9,395.1 634.3,395.3 634.6,394.9 634.9,395.3 635.3,394.8 635.6,395.3 635.9,395.1 636.3,395.2 636.6,394.9 636.9,395.2 637.2,395 637.6,395.1 637.9,395.3 638.2,395.2 638.6,395.4 638.9,395.4 639.2,395 639.6,395.4 639.9,395.1 640.2,395.3 640.5,395 640.9,395.1 641.2,395 641.5,395.6 641.9,395.4 642.2,395.6 642.5,395.5 642.9,395.4 643.2,395.3 643.5,395.4 643.8,395.3 644.2,395.2 644.5,395 644.8,395.3 645.2,394.9 645.5,395.3 645.8,394.9 646.2,395.2 646.5,394.9 646.8,395.3 647.2,395 647.5,395.2 647.8,395.1 648.1,395.2 648.5,394.8 648.8,395.3 649.1,395.1 649.5,395.3 649.8,395 650.1,395.2 650.5,395.2 650.8,395.2 651.1,395 651.4,395.4 651.8,395.1 652.1,395.2 652.4,395.2 652.8,395.6 653.1,395 653.4,395.1 653.8,395.1 654.1,395.1 654.4,395.1 654.8,395.5 655.1,395 655.4,395.3 655.7,395.1 656.1,395.2 656.4,395.1 656.7,395.2 657.1,394.9 657.4,395.5 657.7,395.1 658.1,395.3 658.4,395 658.7,395.1 659,395.2 659.4,395.3 659.7,395.1 660,395.2 660.4,395.1 660.7,395.5 661,395.1 661.4,395.5 661.7,395.1 662,395.4 662.3,395.2 662.7,395.2 663,395.2 663.3,395.7 663.7,395 664,395.4 664.3,395.5 664.7,395.2 665,394.9 665.3,395.2 665.7,395 666,395.2 666.3,395.1 666.6,395.2 667,394.8 667.3,395.1 667.6,395.1 668,395.1 668.3,395.1 668.6,395.2 669,395.1 669.3,395.2 669.6,395.2 669.9,395.3 670.3,395 670.6,395 670.9,394.9 671.3,395.3 671.6,394.9 671.9,395.2 672.3,395 672.6,395.1 672.9,394.9 673.3,395 673.6,395.1 673.9,394.8 674.2,395 674.6,394.9 674.9,394.8 675.2,395.1 675.6,394.7 675.9,394.9 676.2,394.9 676.6,395.1 676.9,394.5 677.2,394.7 677.5,394.5 677.9,395 678.2,394.9 678.5,394.8 678.9,394.3 679.2,394.7 679.5,394.3 679.9,394.5 680.2,394.2 680.5,394.3 680.8,394.1 681.2,394.4 681.5,394 681.8,394 682.2,393.6 682.5,394 682.8,393.3 683.2,393.2 683.5,392.8 683.8,392.7 684.2,392.6 684.5,391.8 684.8,391.6 685.1,391 685.5,390 685.8,389.4 686.1,388.1 686.5,386.8 686.8,384.5 687.1,382.8 687.5,380 687.8,377.9 688.1,375.3 688.4,372.6 688.8,371.2 689.1,370.4 689.4,370.9 689.8,372.8 690.1,374.9 690.4,377.9 690.8,380.2 691.1,382.7 691.4,384.6 691.8,386.7 692.1,388 692.4,389.2 692.7,389.9 693.1,390.9 693.4,391.4 693.7,391.7 694.1,392 694.4,392.4 694.7,392.6 695.1,392.5 695.4,393 695.7,393.3 696,393 696.4,393.2 696.7,392.8 697,393.4 697.4,393 697.7,393.3 698,393.3 698.4,393.2 698.7,392.9 699,393.2 699.3,392.6 699.7,392.6 700,392.4 700.3,392.4 700.7,391.6 701,391.4 701.3,390.4 701.7,389.8 702,388.5 702.3,387.1 702.7,385.5 703,383.7 703.3,381 703.6,379.3 704,376.3 704.3,374.7 704.6,372.9 705,372.3 705.3,372.9 705.6,374.6 706,376.7 706.3,379.1 706.6,381.5 706.9,383.7 707.3,385.6 707.6,387.1 707.9,388.4 708.3,389.7 708.6,390.4 708.9,391.6 709.3,391.8 709.6,392.5 709.9,392.8 710.3,393.2 710.6,393.3 710.9,393.7 711.2,393.9 711.6,394 711.9,393.9 712.2,394.1 712.6,394.2 712.9,394.5 713.2,394.2 713.6,394.5 713.9,394.5 714.2,394.5 714.5,394.4 714.9,394.9 715.2,394.5 715.5,394.5 715.9,394.6 716.2,394.8 716.5,394.8 716.9,394.9 717.2,394.6 717.5,394.9 717.8,395 718.2,395.1 718.5,394.6 718.8,395.2 719.2,394.9 719.5,395.1 719.8,394.9 720.2,395 720.5,394.8 720.8,395.1 721.2,394.8 721.5,395.1 721.8,394.8 722.1,394.8 722.5,395 722.8,395.2 723.1,394.8 723.5,395.3 723.8,395.2 724.1,395 724.5,395.2 724.8,395.3 725.1,394.7 725.4,395 725.8,395.1 726.1,395.2 726.4,395.1 726.8,395.2 727.1,394.8 727.4,395.3 727.8,394.8 728.1,395.1 728.4,395.3 728.8,395.2 729.1,395.1 729.4,394.9 729.7,395.1 730.1,394.9 730.4,395 730.7,395.4 731.1,394.9 731.4,394.9 731.7,395.3 732.1,395.2 732.4,395.2 732.7,395.2 733,395 733.4,395.2 733.7,395.2 734,395.4 734.4,394.9 734.7,395.4 735,395.2 735.4,395.2 735.7,395 736,395.2 736.3,395.5 736.7,395.5 737,395 737.3,395.3 737.7,395.1 738,395.2 738.3,395 738.7,395.6 739,395.1 739.3,395.1 739.7,394.9 740,395.2 740.3,395 740.6,395.1 741,395.2 741.3,395.2 741.6,395.1 742,395.1 742.3,395 742.6,395.1 743,394.9 743.3,395.2 743.6,394.8 743.9,395.5 744.3,395.3 744.6,395.1 744.9,394.8 745.3,395.4 745.6,395.5 745.9,395.4 746.3,395.3 746.6,395.7 746.9,395.6 747.3,395.3 747.6,395.1 747.9,395.1 748.2,395.2 748.6,395.2 748.9,395.1 749.2,394.8 749.6,394.8 749.9,395.2 750.2,394.9 750.6,395.5 750.9,395.1 751.2,395.5 751.5,395.1 751.9,395.4 752.2,394.8 752.5,395.2 752.9,395.2 753.2,395.2 753.5,394.9 753.9,395.1 754.2,395 754.5,395.2 754.8,395 755.2,395.3 755.5,395.5 755.8,395.4 756.2,395.2 756.5,395.5 756.8,395.4 757.2,395.3 757.5,395.2 757.8,395.7 758.2,394.8 758.5,395.2 758.8,394.9 759.1,395.2 759.5,395 759.8,395.3 760.1,394.8 760.5,395.1 760.8,395.1 761.1,395.4 761.5,394.9 761.8,395.4 762.1,395.4 762.4,395.3 762.8,395.1 763.1,395.4 763.4,395.3 763.8,395.5 764.1,395.1 764.4,395.2 764.8,395 765.1,395.2 765.4,395 765.8,395.5 766.1,395.1 766.4,395.3 766.7,395 767.1,395.2 767.4,394.7 767.7,395.3 768.1,395.2 768.4,395.3 768.7,395 769.1,395.2 769.4,394.9 769.7,395.3 770,395.2 770.4,395.1 770.7,394.9 771,394.9 771.4,395 771.7,395.4 772,395.1 772.4,395.1 772.7,395 773,395.2 773.3,395.2 773.7,395.3 774,395 774.3,395 774.7,394.9 775,394.9 775.3,394.9 775.7,394.9 776,395.3 776.3,395 776.7,394.8 777,395 777.3,395 777.6,395.1 778,394.9 778.3,395 778.6,394.8 779,395 779.3,395.1 779.6,395.3 780,395 780.3,395.1 780.6,395.1 780.9,395.2 781.3,394.8 781.6,395 781.9,394.7 782.3,394.8 782.6,394.7 782.9,395 783.3,394.9 783.6,394.7 783.9,394.5 784.3,394.6 784.6,394.6 784.9,394.9 785.2,395 785.6,394.9 785.9,394.7 786.2,394.6 786.6,394.5 786.9,394.5 787.2,394.4 787.6,394.6 787.9,394 788.2,394.4 788.5,394.1 788.9,394.4 789.2,393.7 789.5,393.9 789.9,393.9 790.2,393.9 790.5,393.6 790.9,393.5 791.2,393.5 791.5,393.5 791.8,393.2 792.2,393.2 792.5,392.8 792.8,392.5 793.2,392.4 793.5,392 793.8,391.6 794.2,391.4 794.5,390.9 794.8,391 795.2,390.4 795.5,390.3 795.8,389.8 796.1,389.4 796.5,389.4 796.8,389.3 797.1,389 797.5,388.9 797.8,388.7 798.1,389.1 798.5,388.7 798.8,388.8 799.1,388.8 799.4,388.7 799.8,388.7 800.1,389.1 800.4,388.9 800.8,388.9 801.1,388.5 801.4,388.4 801.8,387.8 802.1,387.4 802.4,386.4 802.8,386.1 803.1,384.7 803.4,383.9 803.7,382.6 804.1,381.7 804.4,380.3 804.7,380 805.1,379.1 805.4,379.4 805.7,379.3 806.1,380.2 806.4,380.8 806.7,382.6 807,383.4 807.4,384.7 807.7,385.7 808,387.1 808.4,387.8 808.7,389.1 809,389.8 809.4,390.3 809.7,390.9 810,391.4 810.3,391.9 810.7,392.5 811,392.5 811.3,393.2 811.7,393.1 812,393.6 812.3,393 812.7,393.5 813,393.7 813.3,393.7 813.7,394 814,394.1 814.3,394 814.6,394.2 815,394.1 815.3,394.2 815.6,394 816,394.5 816.3,394.5 816.6,394.6 817,394.4 817.3,394.5 817.6,394.5 817.9,394.9 818.3,394.6 818.6,394.8 818.9,394.8 819.3,394.8 819.6,394.6 819.9,394.9 820.3,394.8 820.6,394.8 820.9,394.4 821.3,395 821.6,394.8 821.9,394.8 822.2,394.7 822.6,394.8 822.9,394.8 823.2,395 823.6,394.7 823.9,395.1 824.2,395 824.6,394.8 824.9,394.8 825.2,395.1 825.5,394.7 825.9,395.1 826.2,394.8 826.5,394.9 826.9,394.9 827.2,395 827.5,394.9 827.9,395 828.2,395.1 828.5,395.1 828.8,395 829.2,394.8 829.5,394.8 829.8,395.3 830.2,394.5 830.5,394.9 830.8,395 831.2,394.9 831.5,394.7 831.8,395.3 832.2,394.6 832.5,394.9 832.8,394.7 833.1,395.2 833.5,394.9 833.8,395.2 834.1,395.1 834.5,395.1 834.8,395 835.1,395.1 835.5,394.9 835.8,395.1 836.1,395 836.4,395 836.8,395 837.1,395.1 837.4,394.8 837.8,394.9 838.1,394.8 838.4,395 838.8,395 839.1,395.1 839.4,395 839.8,395.1 840.1,395 840.4,395 840.7,394.9 841.1,395.3 841.4,395 841.7,395.5 842.1,395.1 842.4,395.3 842.7,395.2 843.1,395.3 843.4,394.9 843.7,395 844,394.8 844.4,395.2 844.7,394.9 845,395.1 845.4,395.2 845.7,395.4 846,394.8 846.4,395.5 846.7,394.9 847,395.3 847.3,394.9 847.7,395.3 848,395 848.3,395.3 848.7,394.8 849,395 849.3,394.9 849.7,395 850,395.2 850.3,394.9 850.7,394.7 851,394.9 851.3,394.9 851.6,395.1 852,395.2 852.3,395 852.6,395.2 853,395.3 853.3,394.8 853.6,394.7 854,395.1 854.3,395.1 854.6,395.1 854.9,395.3 855.3,394.8 855.6,395.2 855.9,395.1 856.3,395.3 856.6,395 856.9,394.9 857.3,394.9 857.6,394.9 857.9,395 858.3,395.1 858.6,395 858.9,395.2 859.2,395 859.6,394.9 859.9,394.8 860.2,395 860.6,394.8 860.9,395 861.2,394.9 861.6,395.1 861.9,395 862.2,395.1 862.5,394.8 862.9,395 863.2,394.9 863.5,395.3 863.9,394.7 864.2,395.1 864.5,394.8 864.9,395 865.2,395 865.5,395.1 865.8,395.1 866.2,394.9 866.5,394.8 866.8,395.4 867.2,394.5 867.5,394.9 867.8,394.9 868.2,395 868.5,394.9 868.8,395.1 869.2,394.9 869.5,394.7 869.8,394.7 870.1,395 870.5,395 870.8,395.1 871.1,394.7 871.5,395 871.8,394.9 872.1,395 872.5,394.8 872.8,394.9 873.1,394.7 873.4,394.9 873.8,395.1 874.1,394.9 874.4,394.7 874.8,394.9 875.1,394.6 875.4,394.7 875.8,394.6 876.1,394.9 876.4,394.7 876.8,394.5 877.1,394.4 877.4,394.7 877.7,394.2 878.1,394.2 878.4,394 878.7,394.3 879.1,394.2 879.4,394.4 879.7,394.1 880.1,394 880.4,393.8 880.7,393.5 881,393.5 881.4,393.3 881.7,393 882,392.9 882.4,392.4 882.7,392.3 883,391.9 883.4,391.4 883.7,391.2 884,391 884.3,390.5 884.7,390.3 885,389.7 885.3,389.6 885.7,389.2 886,389.6 886.3,389.5 886.7,389.7 887,389.9 887.3,390 887.7,390.6 888,391 888.3,391.2 888.6,391.6 889,391.8 889.3,392.1 889.6,392.4 890,392.8 890.3,393 890.6,393.2 891,393.1 891.3,393.6 891.6,393.5 891.9,393.7 892.3,393.8 892.6,394.1 892.9,394.3 893.3,394.3 893.6,394.1 893.9,394.2 894.3,394.1 894.6,394.1 894.9,393.8 895.3,394.1 895.6,394 895.9,394.5 896.2,394 896.6,394.3 896.9,394 897.2,394.5 897.6,394.4 897.9,394.4 898.2,394 898.6,394.3 898.9,394 899.2,394 899.5,393.4 899.9,394 900.2,393.6 900.5,393.4 900.9,393.1 901.2,393.4 901.5,392.8 901.9,392.6 902.2,392.4 902.5,392 902.8,391.7 903.2,391.6 903.5,390.9 903.8,390.6 904.2,390.3 904.5,389.9 904.8,389.6 905.2,389.4 905.5,389.2 905.8,389.4 906.2,388.9 906.5,389.8 906.8,389.6 907.1,390.1 907.5,390.4 907.8,390.7 908.1,390.8 908.5,391.7 908.8,391.9 909.1,392.1 909.5,392.4 909.8,392.8 910.1,393 910.4,393.2 910.8,393.4 911.1,393.7 911.4,393.4 911.8,394.2 912.1,393.7 912.4,394.3 912.8,394.1 913.1,394.5 913.4,394.1 913.8,394.7 914.1,394.4 914.4,394.7 914.7,394.5 915.1,394.8 915.4,394.6 915.7,394.7 916.1,394.7 916.4,394.9 916.7,394.7 917.1,394.7 917.4,394.6 917.7,394.7 918,394.6 918.4,394.8 918.7,394.7 919,394.8 919.4,394.8 919.7,394.9 920,394.3 920.4,394.9 920.7,394.7 921,395 921.3,395 921.7,395 922,394.7 922.3,394.7 922.7,395.1 923,394.9 923.3,394.9 923.7,394.9 924,394.7 924.3,394.9 924.7,394.7 925,395 925.3,394.8 925.6,395 926,395 926.3,395.1 926.6,394.7 927,395.2 927.3,395 927.6,395.1 928,394.9 928.3,395.2 928.6,394.7 928.9,395.2 929.3,394.7 929.6,395 929.9,394.7 930.3,395.2 930.6,394.8 930.9,395.2 931.3,394.7 931.6,395 931.9,394.9 932.3,394.8 932.6,394.9 932.9,394.5 933.2,394.9 933.6,395.3 933.9,394.9 934.2,395.1 934.6,394.9 934.9,395.1 935.2,394.7 935.6,395 935.9,394.9 936.2,395 936.5,394.9 936.9,395 937.2,394.8 937.5,395.1 937.9,394.8 938.2,395.3 938.5,395 938.9,395 939.2,394.6 939.5,394.9 939.8,394.8 940.2,395.2 940.5,394.8 940.8,395.1 941.2,394.7 941.5,394.8 941.8,394.6 942.2,395.1 942.5,394.7 942.8,395.2 943.2,395 943.5,395 943.8,394.8 944.1,395.1 944.5,394.8 944.8,395 945.1,394.9 945.5,394.9 945.8,394.8 946.1,394.8 946.5,394.6 946.8,394.9 947.1,394.6 947.4,395 947.8,394.4 948.1,394.7 948.4,395 948.8,395.1 949.1,394.8 949.4,394.9 949.8,394.7 950.1,395 950.4,394.7 950.8,395 951.1,394.9 951.4,395.1 951.7,394.8 952.1,394.9 952.4,394.6 952.7,394.7 953.1,394.3 953.4,394.6 953.7,394.4 954.1,394.7 954.4,394.4 954.7,394.9 955,394.7 955.4,394.6 955.7,394.4 956,394.8 956.4,394.4 956.7,394.7 957,394.4 957.4,394.6 957.7,394.5 958,394.4 958.3,394.3 958.7,394.2 959,394.5 959.3,394.3 959.7,394 960,394.2 960.3,394.1 960.7,393.7 961,393.6 961.3,393.9 961.7,393.2 962,393.3 962.3,393.2 962.6,393.2 963,392.7 963.3,392.6 963.6,392.2 964,391.9 964.3,391.5 964.6,391.3 965,390.4 965.3,389.9 965.6,389.4 965.9,388.8 966.3,388.1 966.6,387.6 966.9,386.7 967.3,386.2 967.6,385.6 967.9,385.4 968.3,384.6 968.6,385.1 968.9,384.6 969.3,385 969.6,385.4 969.9,386.3 970.2,386.3 970.6,387.3 970.9,388.2 971.2,388.9 971.6,389.2 971.9,390 972.2,390.2 972.6,390.9 972.9,391.3 973.2,391.8 973.5,391.8 973.9,392.5 974.2,392.5 974.5,392.4 974.9,392.8 975.2,393.1 975.5,392.9 975.9,393.1 976.2,393.1 976.5,393.2 976.8,393.3 977.2,393 977.5,392.7 977.8,392.9 978.2,392.5 978.5,392.7 978.8,392.4 979.2,392 979.5,391.9 979.8,391.7 980.2,391.5 980.5,391.4 980.8,391.3 981.1,390.9 981.5,391 981.8,391.2 982.1,391 982.5,391.3 982.8,391.1 983.1,391.6 983.5,391.5 983.8,392.3 984.1,392.2 984.4,392.4 984.8,392.9 985.1,393.1 985.4,393.2 985.8,393.5 986.1,393.6 986.4,394 986.8,393.9 987.1,394.2 987.4,394.1 987.8,394.1 988.1,394.1 988.4,394.3 988.7,394.3 989.1,394.6 989.4,394.4 989.7,394.6 990.1,394.5 990.4,394.4 990.7,394.4 991.1,394.7 991.4,394.6 991.7,394.8 992,394.3 992.4,394.7 992.7,394.3 993,394.6 993.4,394.3 993.7,394.7 994,394.7 994.4,394.7 994.7,394.6 995,394.7 995.3,394.9 995.7,394.8 996,394.6 996.3,395.1 996.7,394.8 997,394.7 997.3,394.8 997.7,395 998,394.6 998.3,395 998.7,394.6 999,394.9 999.3,394.7 999.6,394.8 1000,394.8 1000.3,395.2 1000.6,395 1001,394.8 1001.3,394.7 1001.6,395.2 1002,394.9 1002.3,394.9 1002.6,394.8 1002.9,395.1 1003.3,394.8 1003.6,395.3 1003.9,394.7 1004.3,395.1 1004.6,394.9 1004.9,395 1005.3,394.7 1005.6,395 1005.9,395.1 1006.3,395.1 1006.6,395.1 1006.9,394.9 1007.2,394.6 1007.6,395 1007.9,395 1008.2,395.1 1008.6,395.1 1008.9,395.3 1009.2,395.1 1009.6,395 1009.9,395 1010.2,395.2 1010.5,395.2 1010.9,395 1011.2,395.2 1011.5,395.2 1011.9,395.2 1012.2,395.3 1012.5,394.5 1012.9,395.1 1013.2,394.8 1013.5,395.1 1013.8,394.8 1014.2,395 1014.5,395.3 1014.8,395 1015.2,394.8 1015.5,394.9 1015.8,394.9 1016.2,395.1 1016.5,394.9 1016.8,395.2 1017.2,394.8 1017.5,395.2 1017.8,394.5 1018.1,395 1018.5,395 1018.8,394.9 1019.1,394.7 1019.5,395.1 1019.8,395.2 1020.1,395.1 1020.5,394.9 1020.8,395.1 1021.1,394.8 1021.4,394.9 1021.8,394.9 1022.1,395 1022.4,394.9 1022.8,394.9 1023.1,394.7 1023.4,395.2 1023.8,394.9 1024.1,395.2 1024.4,394.9 1024.8,395.1 1025.1,394.8 1025.4,395 1025.7,394.8 1026.1,395.3 1026.4,394.9 1026.7,394.8 1027.1,394.9 1027.4,395 1027.7,395 1028.1,395.3 1028.4,394.6 1028.7,395 1029,394.9 1029.4,395.1 1029.7,394.6 1030,395.1 1030.4,395 1030.7,395.1 1031,394.9 1031.4,395 1031.7,395 1032,395.1 1032.3,395.1 1032.7,394.9 1033,395 1033.3,394.7 1033.7,395 1034,395"/>
<polyline fill="none" stroke="#dd9c00" stroke-width="5.5" stroke-linejoin="round" points="109,234.5 109.3,231.4 109.7,234.1 110,231.3 110.3,235.2 110.7,230.8 111,236.2 111.3,230.4 111.6,233.6 112,231.4 112.3,232.5 112.6,231.6 113,233.1 113.3,230.5 113.6,233.3 114,228.8 114.3,232.4 114.6,229.6 114.9,234.4 115.3,229.1 115.6,234.5 115.9,228.3 116.3,232.9 116.6,228.3 116.9,229.5 117.3,229.5 117.6,230 117.9,231.9 118.3,233.8 118.6,230.7 118.9,233.3 119.2,232.5 119.6,232 119.9,232.2 120.2,233.8 120.6,230.3 120.9,234.3 121.2,232 121.6,235 121.9,231.1 122.2,235.6 122.5,232.4 122.9,235.4 123.2,230.1 123.5,235.4 123.9,233.4 124.2,236.1 124.5,232.2 124.9,234.4 125.2,231.6 125.5,236.5 125.8,231.4 126.2,233.3 126.5,231.9 126.8,233.9 127.2,231.8 127.5,234.7 127.8,232.9 128.2,233.3 128.5,229.4 128.8,231.7 129.2,232 129.5,235.9 129.8,230.1 130.1,236.6 130.5,231 130.8,233.4 131.1,231.2 131.5,232 131.8,231.7 132.1,234.1 132.5,232.2 132.8,233.8 133.1,232.8 133.4,235 133.8,231.2 134.1,233.7 134.4,231.1 134.8,234.4 135.1,232.9 135.4,235.1 135.8,229.9 136.1,233.8 136.4,231.4 136.8,231 137.1,229.8 137.4,236.1 137.7,232.4 138.1,234.5 138.4,230.4 138.7,235.8 139.1,232.5 139.4,235.6 139.7,231.9 140.1,235.7 140.4,229.9 140.7,235.2 141,231.3 141.4,235 141.7,234 142,235.2 142.4,235.1 142.7,235.5 143,234.4 143.4,235.8 143.7,231 144,235.5 144.3,229.7 144.7,234 145,234.8 145.3,233.8 145.7,233.3 146,235.5 146.3,232.3 146.7,234.3 147,232.3 147.3,234.6 147.7,231.8 148,232 148.3,232.8 148.6,235.3 149,232.5 149.3,232.3 149.6,232.6 150,235 150.3,229.1 150.6,233.7 151,230.6 151.3,230.1 151.6,231.9 151.9,232.3 152.3,230.5 152.6,234 152.9,230.7 153.3,234.6 153.6,232.1 153.9,232.4 154.3,227.9 154.6,234.7 154.9,230.5 155.3,231.2 155.6,230.1 155.9,236.4 156.2,232.4 156.6,234 156.9,230.7 157.2,233.2 157.6,230.6 157.9,231.8 158.2,230.4 158.6,233.3 158.9,234.3 159.2,233.8 159.5,232.2 159.9,233.3 160.2,232.2 160.5,233.5 160.9,233.9 161.2,236 161.5,231.9 161.9,234.8 162.2,231.1 162.5,234.9 162.8,234 163.2,235.3 163.5,231.4 163.8,231.6 164.2,232 164.5,234 164.8,231 165.2,233 165.5,230.3 165.8,232.4 166.2,232.7 166.5,234.9 166.8,231.7 167.1,235 167.5,231.6 167.8,234 168.1,230.5 168.5,235.2 168.8,230.1 169.1,233.2 169.5,229.4 169.8,233.6 170.1,232.1 170.4,235.1 170.8,234 171.1,236.5 171.4,234.3 171.8,234.6 172.1,233.7 172.4,236.1 172.8,231 173.1,235.4 173.4,232.9 173.8,234.5 174.1,231.9 174.4,234.3 174.7,231.9 175.1,232.8 175.4,229.3 175.7,235.1 176.1,228.9 176.4,233.7 176.7,228.2 177.1,232.1 177.4,231.8 177.7,234.2 178,229.9 178.4,234.8 178.7,230.7 179,232.2 179.4,230 179.7,233.7 180,230 180.4,234 180.7,231.2 181,233.9 181.3,231.1 181.7,235.3 182,232.4 182.3,233.9 182.7,230.8 183,232.1 183.3,231.8 183.7,237.2 184,232.4 184.3,232.7 184.7,230.5 185,233.4 185.3,231.1 185.6,235.8 186,231.8 186.3,234.5 186.6,231.5 187,234.4 187.3,233 187.6,234.1 188,231.1 188.3,232.1 188.6,230 188.9,232.4 189.3,229.2 189.6,233.7 189.9,230.1 190.3,234.1 190.6,229.8 190.9,232.4 191.3,230.4 191.6,234.2 191.9,229.4 192.3,233.2 192.6,230.2 192.9,232.9 193.2,230.8 193.6,231.2 193.9,231.7 194.2,236.3 194.6,231.9 194.9,231.8 195.2,231.6 195.6,234.8 195.9,231 196.2,235.9 196.5,230.8 196.9,234.3 197.2,231 197.5,234.2 197.9,230.6 198.2,235.5 198.5,229.3 198.9,230.9 199.2,229 199.5,233.1 199.8,231.1 200.2,233.8 200.5,231.8 200.8,235.9 201.2,231.1 201.5,236 201.8,232.3 202.2,235 202.5,231.7 202.8,233.8 203.2,228.3 203.5,233.3 203.8,228 204.1,233.4 204.5,231.2 204.8,232.6 205.1,229 205.5,232.8 205.8,230.6 206.1,234 206.5,230.1 206.8,231.4 207.1,230.4 207.4,230.1 207.8,233 208.1,232.9 208.4,229.7 208.8,232.5 209.1,228.8 209.4,232.4 209.8,229.7 210.1,231.6 210.4,230.5 210.8,233.3 211.1,232.4 211.4,234.3 211.7,227.8 212.1,231.5 212.4,229.8 212.7,230.8 213.1,228.9 213.4,231.7 213.7,232.1 214.1,230.9 214.4,230.2 214.7,231.2 215,229.7 215.4,232 215.7,227.8 216,231.1 216.4,228.4 216.7,229.9 217,230.4 217.4,230 217.7,230.6 218,231.7 218.3,228.8 218.7,232.3 219,230 219.3,231.8 219.7,229.6 220,232.3 220.3,230.5 220.7,232.9 221,232 221.3,232.4 221.7,229.8 222,235.2 222.3,232 222.6,233.6 223,230.2 223.3,234.8 223.6,230.2 224,230.3 224.3,230.6 224.6,233.4 225,231.3 225.3,234.5 225.6,231 225.9,234 226.3,231.1 226.6,235.7 226.9,232.1 227.3,234.4 227.6,229 227.9,232 228.3,227.2 228.6,230.9 228.9,227.7 229.3,231.3 229.6,228.1 229.9,230.6 230.2,231.7 230.6,234.1 230.9,228.6 231.2,230.9 231.6,231.5 231.9,232.8 232.2,228.4 232.6,233 232.9,230.5 233.2,231.5 233.5,228.8 233.9,231.4 234.2,231.1 234.5,232 234.9,228.7 235.2,231.8 235.5,229.5 235.9,232.7 236.2,230.5 236.5,231.3 236.8,228.4 237.2,232 237.5,230 237.8,233.5 238.2,228.8 238.5,232.4 238.8,230.1 239.2,233.2 239.5,229.2 239.8,234.2 240.2,227.7 240.5,231.4 240.8,228.8 241.1,230.4 241.5,231.3 241.8,231.7 242.1,230.6 242.5,231.4 242.8,230 243.1,231.3 243.5,228.6 243.8,233.2 244.1,231 244.4,231.4 244.8,229.1 245.1,232.7 245.4,228.6 245.8,232.5 246.1,225.8 246.4,230.3 246.8,228.9 247.1,234.3 247.4,229.5 247.8,231.2 248.1,229.1 248.4,234.8 248.7,228.7 249.1,230.1 249.4,229.1 249.7,234 250.1,232.5 250.4,231.4 250.7,228.7 251.1,233.1 251.4,227.9 251.7,233 252,230.1 252.4,228.8 252.7,228.6 253,232.1 253.4,230.1 253.7,232.2 254,229.6 254.4,231.7 254.7,225.2 255,230.5 255.3,227.5 255.7,229.4 256,228.9 256.3,234.3 256.7,227.6 257,232.7 257.3,227.7 257.7,231.5 258,227.6 258.3,230.3 258.7,229.6 259,230.9 259.3,228.7 259.6,230.8 260,227.1 260.3,231.1 260.6,228.2 261,230.2 261.3,230.2 261.6,234 262,229.3 262.3,232.6 262.6,228.1 262.9,233.1 263.3,230.7 263.6,230.9 263.9,228.4 264.3,230.8 264.6,232 264.9,231.9 265.3,230.5 265.6,232.6 265.9,229.1 266.3,231.5 266.6,232.7 266.9,229.9 267.2,229.3 267.6,233.2 267.9,231 268.2,232.2 268.6,230.8 268.9,231.7 269.2,229.6 269.6,232 269.9,229.2 270.2,232.4 270.5,231 270.9,232.2 271.2,227.4 271.5,229.8 271.9,227.2 272.2,231.4 272.5,227.9 272.9,230.3 273.2,228.2 273.5,231.5 273.8,230 274.2,231.7 274.5,231.1 274.8,232.1 275.2,231.6 275.5,231 275.8,229.2 276.2,232.6 276.5,228.4 276.8,231.4 277.2,226.7 277.5,232.7 277.8,231.7 278.1,232.1 278.5,229.5 278.8,231.4 279.1,230.3 279.5,232.7 279.8,230.2 280.1,231.5 280.5,228.6 280.8,231.2 281.1,230.7 281.4,232.5 281.8,229.6 282.1,232.5 282.4,229.6 282.8,232.3 283.1,230.7 283.4,232 283.8,228.7 284.1,232.8 284.4,230.7 284.8,231.1 285.1,229.9 285.4,233.9 285.7,231.6 286.1,232.6 286.4,231.8 286.7,233.9 287.1,227.8 287.4,231.1 287.7,227.9 288.1,231.4 288.4,228.5 288.7,231.2 289,229.6 289.4,235 289.7,230 290,234 290.4,228.3 290.7,234.9 291,232.8 291.4,233.6 291.7,231.1 292,232.7 292.3,229.3 292.7,232.6 293,230.3 293.3,233.4 293.7,232.3 294,230.5 294.3,230.6 294.7,231.8 295,229.8 295.3,229.1 295.7,230.1 296,232.4 296.3,230.4 296.6,232.8 297,229.4 297.3,232.4 297.6,228.2 298,235.9 298.3,226.7 298.6,229.9 299,229.1 299.3,231.5 299.6,227.6 299.9,230.5 300.3,227.7 300.6,233 300.9,227.5 301.3,231.5 301.6,227.3 301.9,230.5 302.3,227.1 302.6,229.7 302.9,226.1 303.3,230.5 303.6,225.9 303.9,229.1 304.2,225.5 304.6,225.6 304.9,221.7 305.2,223.2 305.6,219.1 305.9,221 306.2,216 306.6,215.2 306.9,212.8 307.2,208.6 307.5,203.3 307.9,201.5 308.2,190.7 308.5,186 308.9,172.5 309.2,163.5 309.5,148.6 309.9,136.6 310.2,120.5 310.5,110.5 310.8,105.3 311.2,107.7 311.5,115 311.8,130.9 312.2,144.7 312.5,157.3 312.8,171.4 313.2,185.2 313.5,191.7 313.8,201.3 314.2,203.6 314.5,211.8 314.8,211.4 315.1,215.8 315.5,219.2 315.8,221.4 316.1,223 316.5,224.2 316.8,225.2 317.1,227 317.5,227.6 317.8,229.2 318.1,228.2 318.4,230.6 318.8,230.3 319.1,231.7 319.4,231.8 319.8,232.1 320.1,231.7 320.4,234.3 320.8,232.6 321.1,234.5 321.4,231.6 321.8,235.7 322.1,232.9 322.4,233.4 322.7,234.2 323.1,236.7 323.4,234.2 323.7,234.8 324.1,235.6 324.4,236.2 324.7,233.7 325.1,236.5 325.4,233.7 325.7,237 326,234.7 326.4,236.5 326.7,234.9 327,237.3 327.4,236.7 327.7,236.3 328,234.3 328.4,235.6 328.7,235.6 329,236.2 329.3,235.3 329.7,238.9 330,235.7 330.3,237.3 330.7,236.4 331,238.2 331.3,238.1 331.7,239 332,237.5 332.3,240 332.7,238.4 333,238.4 333.3,236.8 333.6,237.5 334,238.1 334.3,238.8 334.6,237.8 335,241 335.3,237.3 335.6,239.5 336,236.3 336.3,236.8 336.6,236.1 336.9,238.5 337.3,237.2 337.6,238.9 337.9,235.7 338.3,239.8 338.6,238.3 338.9,239.3 339.3,239.1 339.6,238.8 339.9,239.3 340.3,239.4 340.6,237.5 340.9,240.2 341.2,237.8 341.6,239.3 341.9,237.1 342.2,239.7 342.6,238.4 342.9,240.2 343.2,238.9 343.6,240 343.9,239.4 344.2,240 344.5,238.1 344.9,239.5 345.2,238.8 345.5,240.5 345.9,238.8 346.2,240.5 346.5,239.3 346.9,239 347.2,239.2 347.5,240.3 347.8,238 348.2,239.1 348.5,239.3 348.8,238.3 349.2,238.2 349.5,240.3 349.8,237.8 350.2,239.5 350.5,238.5 350.8,239.7 351.2,237 351.5,238.3 351.8,237.7 352.1,240.9 352.5,238.2 352.8,240.1 353.1,238.6 353.5,239.2 353.8,238.5 354.1,241.3 354.5,238.7 354.8,239.6 355.1,239.8 355.4,239.3 355.8,237.7 356.1,239.4 356.4,238.4 356.8,240.6 357.1,240.1 357.4,239.3 357.8,239.7 358.1,239.7 358.4,239 358.8,241.1 359.1,239.6 359.4,240.3 359.7,238 360.1,238.8 360.4,239.2 360.7,241.4 361.1,237.9 361.4,240.1 361.7,239.4 362.1,240.1 362.4,238.2 362.7,240.4 363,239.7 363.4,239.6 363.7,239.3 364,238.5 364.4,238.8 364.7,240 365,238.5 365.4,240.1 365.7,239.2 366,239.6 366.3,239.7 366.7,239.7 367,239 367.3,240.7 367.7,238.8 368,238.6 368.3,238.7 368.7,238.5 369,238.8 369.3,240.2 369.7,237.8 370,240.5 370.3,239.7 370.6,241.5 371,240.2 371.3,240.3 371.6,239.4 372,240.9 372.3,238.8 372.6,239.9 373,237.1 373.3,239.8 373.6,240.1 373.9,238.2 374.3,239.1 374.6,240 374.9,239 375.3,242.6 375.6,241.5 375.9,239.7 376.3,240.4 376.6,240.9 376.9,239.7 377.3,240.2 377.6,240.1 377.9,241 378.2,238.5 378.6,239.6 378.9,237.7 379.2,240.5 379.6,238.9 379.9,240 380.2,238.3 380.6,240.9 380.9,239.9 381.2,240.7 381.5,239.1 381.9,239.7 382.2,238.4 382.5,241.3 382.9,239.2 383.2,239.6 383.5,238.6 383.9,240.3 384.2,239.1 384.5,241.1 384.8,239.5 385.2,240.8 385.5,240.1 385.8,239.5 386.2,239.1 386.5,240.4 386.8,239.3 387.2,240.4 387.5,238.9 387.8,240.7 388.2,239.6 388.5,241.1 388.8,239.3 389.1,240.2 389.5,238.9 389.8,239.9 390.1,239.7 390.5,240.3 390.8,238.4 391.1,240.4 391.5,239.7 391.8,241.1 392.1,238.4 392.4,240.4 392.8,239.2 393.1,240.1 393.4,239.1 393.8,240.2 394.1,238.8 394.4,239.3 394.8,237.9 395.1,240.2 395.4,238.9 395.8,240.1 396.1,239 396.4,239.6 396.7,239.5 397.1,239.7 397.4,240.4 397.7,240.2 398.1,238.7 398.4,240.3 398.7,239.3 399.1,240.3 399.4,239.8 399.7,239 400,239.2 400.4,239.5 400.7,238.5 401,239.1 401.4,240.6 401.7,239.3 402,239.7 402.4,241.3 402.7,239.4 403,240.6 403.3,238.7 403.7,240 404,239.7 404.3,240.1 404.7,237.2 405,240.2 405.3,240.4 405.7,240.2 406,239.1 406.3,240.3 406.7,240.9 407,241.1 407.3,239.2 407.6,240.3 408,239.6 408.3,240.7 408.6,240.5 409,240.9 409.3,240.9 409.6,241.2 410,240.1 410.3,240 410.6,240.4 410.9,240.1 411.3,240.4 411.6,240.8 411.9,237.7 412.3,240 412.6,240 412.9,241.4 413.3,239.7 413.6,240.7 413.9,239.6 414.3,240.5 414.6,240.6 414.9,240.8 415.2,240.7 415.6,241 415.9,240.7 416.2,240.2 416.6,239.9 416.9,240.7 417.2,240.4 417.6,241.9 417.9,239.8 418.2,241.4 418.5,240.4 418.9,241.3 419.2,239.3 419.5,241.6 419.9,240 420.2,241.5 420.5,240.3 420.9,240.5 421.2,239.1 421.5,240.3 421.8,240.1 422.2,240.5 422.5,241.1 422.8,241.6 423.2,240.4 423.5,241.5 423.8,240 424.2,241 424.5,239.4 424.8,240.8 425.2,239.5 425.5,241.4 425.8,240.6 426.1,240.2 426.5,239.6 426.8,241 427.1,239.5 427.5,239.6 427.8,239.5 428.1,240.7 428.5,239.7 428.8,240.1 429.1,239.7 429.4,241.3 429.8,239.2 430.1,241 430.4,241.3 430.8,240.6 431.1,240.5 431.4,241.1 431.8,239.7 432.1,240.4 432.4,239.3 432.8,240.2 433.1,239.6 433.4,241 433.7,239.7 434.1,241.1 434.4,240.7 434.7,241.5 435.1,239.4 435.4,240.9 435.7,240.2 436.1,240.3 436.4,239.1 436.7,241.1 437,239.5 437.4,242.1 437.7,239.5 438,240.8 438.4,240.1 438.7,241.5 439,239.1 439.4,240.3 439.7,240.2 440,240.7 440.3,240.4 440.7,240.9 441,239.9 441.3,242.2 441.7,239.8 442,241.4 442.3,241 442.7,239.6 443,240.7 443.3,241.4 443.7,238.9 444,241.4 444.3,240.1 444.6,240.9 445,240 445.3,240.6 445.6,239 446,241.1 446.3,240.5 446.6,241.6 447,240.8 447.3,242.2 447.6,240.6 447.9,241.8 448.3,239.8 448.6,241.1 448.9,240.3 449.3,241.3 449.6,240.4 449.9,241.2 450.3,240.3 450.6,241.1 450.9,240.1 451.3,240.6 451.6,240.4 451.9,241.3 452.2,240.2 452.6,240.3 452.9,239.9 453.2,240.9 453.6,240 453.9,240.8 454.2,239.9 454.6,241.9 454.9,240.1 455.2,241.1 455.5,239.6 455.9,240.8 456.2,240.5 456.5,241.1 456.9,240 457.2,239.9 457.5,239.7 457.9,241.7 458.2,239.5 458.5,240.7 458.8,239 459.2,239.9 459.5,240 459.8,241 460.2,239.2 460.5,240 460.8,238.4 461.2,238.7 461.5,238.4 461.8,238 462.2,237 462.5,238.7 462.8,236.5 463.1,237.5 463.5,236.6 463.8,235.9 464.1,234.2 464.5,236.2 464.8,233.9 465.1,234.5 465.5,232.8 465.8,233.8 466.1,234.6 466.4,236.5 466.8,236.1 467.1,237.8 467.4,236.4 467.8,238.2 468.1,237.5 468.4,237.8 468.8,237.9 469.1,238.8 469.4,237.4 469.8,237.7 470.1,238.1 470.4,238.7 470.7,237.5 471.1,237.9 471.4,237.7 471.7,238.4 472.1,236.4 472.4,236.3 472.7,234.3 473.1,235.2 473.4,232.5 473.7,232.7 474,228.4 474.4,228.2 474.7,224.4 475,222.1 475.4,218.6 475.7,217.2 476,213.1 476.4,213.4 476.7,214.2 477,215.2 477.3,217.9 477.7,221.6 478,224.5 478.3,227 478.7,228.9 479,230.5 479.3,231.3 479.7,233.8 480,233.6 480.3,235.5 480.7,235.4 481,236.7 481.3,236.2 481.6,237.2 482,236.4 482.3,237.1 482.6,237.6 483,237.8 483.3,236.2 483.6,236.8 484,234.9 484.3,236.3 484.6,234.2 484.9,234.7 485.3,233.6 485.6,233.2 485.9,231.3 486.3,232.6 486.6,230.1 486.9,231.2 487.3,232.6 487.6,234.3 487.9,233.1 488.3,235.4 488.6,235.7 488.9,237.2 489.2,236.4 489.6,237.4 489.9,237.6 490.2,239.6 490.6,238 490.9,239.1 491.2,239 491.6,240.2 491.9,239.3 492.2,240.3 492.5,238.8 492.9,239.9 493.2,239.3 493.5,240.7 493.9,239.4 494.2,240.8 494.5,240.1 494.9,240.9 495.2,239.5 495.5,241.8 495.8,240.3 496.2,241.2 496.5,240.5 496.8,240.8 497.2,240.6 497.5,242.6 497.8,240.6 498.2,241.1 498.5,241.4 498.8,241.4 499.2,239.7 499.5,241.4 499.8,240.2 500.1,241.7 500.5,240.1 500.8,241.8 501.1,240.6 501.5,241.2 501.8,241.4 502.1,242.2 502.5,240.4 502.8,240.8 503.1,240.2 503.4,240.4 503.8,240.7 504.1,239.8 504.4,240.6 504.8,240.9 505.1,240.2 505.4,241.1 505.8,240.9 506.1,241.4 506.4,240.2 506.8,240.8 507.1,240.7 507.4,241.6 507.7,241 508.1,241.5 508.4,240.4 508.7,241.6 509.1,241 509.4,241.9 509.7,240 510.1,242.1 510.4,241.2 510.7,241.2 511,240.9 511.4,242.1 511.7,240.5 512,241.2 512.4,241.4 512.7,241.7 513,240.9 513.4,241.5 513.7,240.9 514,241.7 514.3,241.1 514.7,241.1 515,241.4 515.3,241.5 515.7,241.2 516,241.2 516.3,241.9 516.7,240.2 517,241.3 517.3,241.7 517.7,240.3 518,241.4 518.3,240.3 518.6,240.8 519,240.8 519.3,241.7 519.6,240.3 520,240.8 520.3,241 520.6,241.5 521,240.7 521.3,241.8 521.6,241.6 521.9,241.5 522.3,240.3 522.6,240.9 522.9,239.5 523.3,240.9 523.6,240.9 523.9,240.9 524.3,239.9 524.6,240.9 524.9,241.3 525.3,241.6 525.6,241.5 525.9,242.4 526.2,240.8 526.6,241.2 526.9,241.4 527.2,241.9 527.6,241 527.9,241.7 528.2,240.6 528.6,241 528.9,239.9 529.2,241.7 529.5,240.2 529.9,241.7 530.2,240.9 530.5,242.6 530.9,241.3 531.2,242.1 531.5,241 531.9,241.8 532.2,242.3 532.5,242.2 532.8,242.1 533.2,242.2 533.5,241.3 533.8,242.8 534.2,240.9 534.5,241.8 534.8,240.5 535.2,242.3 535.5,240 535.8,241.7 536.2,240.7 536.5,241.2 536.8,241.7 537.1,241.5 537.5,241.2 537.8,242.1 538.1,240.2 538.5,241 538.8,240.6 539.1,242.4 539.5,240.9 539.8,241.7 540.1,242.2 540.4,241.7 540.8,240.8 541.1,241.5 541.4,240.2 541.8,241.9 542.1,241.4 542.4,241.3 542.8,240.5 543.1,241.2 543.4,240.4 543.8,241.7 544.1,241.4 544.4,240.7 544.7,241.7 545.1,241 545.4,241.1 545.7,241.5 546.1,240.6 546.4,241.3 546.7,240.6 547.1,241.6 547.4,240.6 547.7,241.4 548,240.6 548.4,242.2 548.7,240.5 549,241.5 549.4,240.6 549.7,241.7 550,241.4 550.4,241.1 550.7,240.9 551,241.6 551.3,241.1 551.7,242 552,241 552.3,242.1 552.7,241.3 553,242 553.3,241.8 553.7,241.5 554,240.9 554.3,242.8 554.7,241.5 555,243 555.3,242.2 555.6,241.6 556,241.4 556.3,242.1 556.6,240.9 557,241.7 557.3,239.8 557.6,241 558,239.9 558.3,242.1 558.6,240.9 558.9,240.9 559.3,241.2 559.6,241.9 559.9,240 560.3,242 560.6,242.1 560.9,242.2 561.3,240.4 561.6,241.3 561.9,241 562.3,241.9 562.6,241.1 562.9,241.3 563.2,240.5 563.6,241.9 563.9,241.1 564.2,242 564.6,241 564.9,242.4 565.2,240.6 565.6,241.6 565.9,240.7 566.2,240.8 566.5,240.5 566.9,240.9 567.2,240.4 567.5,241.8 567.9,241 568.2,242.4 568.5,240.8 568.9,241 569.2,241.3 569.5,241.5 569.8,240.3 570.2,241.7 570.5,240.1 570.8,242.4 571.2,241.1 571.5,241.9 571.8,241.7 572.2,241.8 572.5,240 572.8,241 573.2,241.6 573.5,241.7 573.8,241.3 574.1,241.4 574.5,240.1 574.8,241.7 575.1,241.2 575.5,241.2 575.8,240.5 576.1,242.2 576.5,241.6 576.8,241.4 577.1,241.4 577.4,241.5 577.8,241.5 578.1,242.6 578.4,241.9 578.8,241.6 579.1,240.7 579.4,241.9 579.8,241.3 580.1,241.3 580.4,241.4 580.8,242.2 581.1,240.3 581.4,241.5 581.7,239.9 582.1,241.3 582.4,241 582.7,241.4 583.1,240.6 583.4,241.1 583.7,241.2 584.1,241.8 584.4,241.2 584.7,242.1 585,241.1 585.4,242.5 585.7,241.3 586,241.7 586.4,241.8 586.7,242.1 587,241.2 587.4,241.8 587.7,240.8 588,241.8 588.3,240.7 588.7,241.9 589,241.3 589.3,242.2 589.7,241.4 590,241.2 590.3,240 590.7,240.3 591,240.5 591.3,240 591.7,240.9 592,241.4 592.3,240.6 592.6,241.7 593,240.4 593.3,242 593.6,241 594,241 594.3,240.3 594.6,240.3 595,240.6 595.3,242.2 595.6,240.9 595.9,240.7 596.3,240.7 596.6,241.4 596.9,240.7 597.3,240.5 597.6,241.1 597.9,240.9 598.3,239.9 598.6,240.9 598.9,240.4 599.3,240.3 599.6,240.7 599.9,240.8 600.2,240.8 600.6,240.8 600.9,239.5 601.2,240.3 601.6,239.4 601.9,240.4 602.2,239.4 602.6,240.3 602.9,238.8 603.2,239.2 603.5,238.8 603.9,239.7 604.2,238.9 604.5,239.4 604.9,238.4 605.2,238.5 605.5,238.9 605.9,238.3 606.2,237.6 606.5,237.9 606.8,236.7 607.2,237.3 607.5,234.6 607.8,233.8 608.2,232.5 608.5,231 608.8,228.4 609.2,224.9 609.5,220.5 609.8,215.6 610.2,211 610.5,205.1 610.8,198.5 611.1,195.1 611.5,191.7 611.8,193.1 612.1,196.6 612.5,202.5 612.8,208.7 613.1,213.8 613.5,217.8 613.8,224.5 614.1,226.4 614.4,229.2 614.8,231.3 615.1,233 615.4,234 615.8,235.9 616.1,235.8 616.4,237.4 616.8,236.6 617.1,238.1 617.4,238.5 617.8,239.7 618.1,239.7 618.4,239.4 618.7,240.5 619.1,239.7 619.4,238.8 619.7,239.9 620.1,239.8 620.4,240 620.7,240.3 621.1,240.2 621.4,240.5 621.7,240.4 622,239.6 622.4,240.2 622.7,239.9 623,241.2 623.4,240.4 623.7,242.2 624,240.9 624.4,241.7 624.7,240.3 625,240.9 625.3,240.2 625.7,240.8 626,241.2 626.3,240.8 626.7,240.2 627,241.2 627.3,240.5 627.7,240.9 628,240.2 628.3,241 628.7,240.5 629,242.1 629.3,240.5 629.6,240.3 630,240.4 630.3,240.3 630.6,240.3 631,240.8 631.3,241 631.6,241.3 632,241.9 632.3,241.9 632.6,240.8 632.9,241.3 633.3,239.5 633.6,241.5 633.9,241.1 634.3,240.4 634.6,239.9 634.9,240.7 635.3,240.5 635.6,241.8 635.9,241.8 636.3,242 636.6,240.3 636.9,240.5 637.2,241.2 637.6,240.6 637.9,240.1 638.2,240.7 638.6,240.3 638.9,241.6 639.2,241.8 639.6,242.1 639.9,241 640.2,241 640.5,241.1 640.9,241.6 641.2,242.2 641.5,240.9 641.9,240.8 642.2,241.5 642.5,240 642.9,240.9 643.2,241.4 643.5,240.9 643.8,240.7 644.2,241.1 644.5,242.2 644.8,240.9 645.2,241.4 645.5,241.2 645.8,242.1 646.2,241.6 646.5,241.4 646.8,241.3 647.2,241.4 647.5,241.5 647.8,241.1 648.1,241.4 648.5,240.3 648.8,241.1 649.1,240.8 649.5,241 649.8,240.4 650.1,242.4 650.5,241.6 650.8,241.4 651.1,241.4 651.4,241.3 651.8,241.1 652.1,242.3 652.4,241 652.8,242.6 653.1,241.3 653.4,242.3 653.8,242 654.1,241.5 654.4,241.2 654.8,241.7 655.1,241.8 655.4,242.7 655.7,241 656.1,241.7 656.4,241.3 656.7,242 657.1,241.1 657.4,241.7 657.7,240.9 658.1,241.6 658.4,240.9 658.7,240.8 659,241.1 659.4,241.4 659.7,242.3 660,242.1 660.4,241.3 660.7,242 661,241.2 661.4,241.4 661.7,241.5 662,241.7 662.3,241.4 662.7,241.9 663,241.2 663.3,241.4 663.7,239.8 664,240.9 664.3,240.6 664.7,242.4 665,240.5 665.3,241.5 665.7,240.6 666,241.5 666.3,240.8 666.6,241.2 667,241.1 667.3,241.7 667.6,241.3 668,242.3 668.3,240.5 668.6,242.7 669,240.9 669.3,241.8 669.6,240.5 669.9,241.8 670.3,240.2 670.6,240.4 670.9,240.9 671.3,241.7 671.6,240.8 671.9,241.9 672.3,241.1 672.6,241.3 672.9,240.7 673.3,241.3 673.6,240.6 673.9,240.4 674.2,240.1 674.6,240.6 674.9,239.8 675.2,241.7 675.6,239.8 675.9,241.1 676.2,240.9 676.6,241.5 676.9,240.3 677.2,240.9 677.5,240.1 677.9,241.2 678.2,241.6 678.5,240.3 678.9,239.8 679.2,241.3 679.5,239.5 679.9,240.8 680.2,239.6 680.5,240.5 680.8,240 681.2,239.5 681.5,238.8 681.8,239.6 682.2,238.9 682.5,238.6 682.8,238.1 683.2,239.7 683.5,238.5 683.8,238.1 684.2,237.7 684.5,237.8 684.8,236.4 685.1,237.1 685.5,235.3 685.8,234.7 686.1,232.9 686.5,230.8 686.8,228.6 687.1,226.7 687.5,222.5 687.8,220.6 688.1,218 688.4,216.6 688.8,215 689.1,215.1 689.4,215.9 689.8,219.9 690.1,221.5 690.4,224.5 690.8,227.4 691.1,228.7 691.4,230.7 691.8,232.8 692.1,234.5 692.4,235.5 692.7,236.4 693.1,236.3 693.4,236.8 693.7,237.9 694.1,237.5 694.4,240.5 694.7,238.4 695.1,238.7 695.4,239.2 695.7,239.1 696,238.3 696.4,239.1 696.7,238.3 697,238.6 697.4,239.1 697.7,239.1 698,238.2 698.4,238.6 698.7,238.2 699,238.8 699.3,237.9 699.7,238.2 700,236 700.3,236.9 700.7,235.5 701,235 701.3,233.3 701.7,232 702,230.4 702.3,228.7 702.7,226.4 703,224.1 703.3,220.9 703.6,218.9 704,216.5 704.3,216.3 704.6,216.2 705,218.8 705.3,220.8 705.6,224.4 706,226.3 706.3,228.8 706.6,231.1 706.9,233.2 707.3,233.6 707.6,235.6 707.9,236.6 708.3,237.4 708.6,237.6 708.9,238.8 709.3,238.3 709.6,239.2 709.9,238.6 710.3,239.4 710.6,239 710.9,239.9 711.2,239.7 711.6,240.8 711.9,239.5 712.2,240.3 712.6,240.1 712.9,240.5 713.2,240.5 713.6,240.7 713.9,240.2 714.2,241.2 714.5,240.1 714.9,241.4 715.2,239.5 715.5,241.1 715.9,239.8 716.2,241.6 716.5,240 716.9,241.3 717.2,240.8 717.5,242.9 717.8,241.3 718.2,241.8 718.5,240.5 718.8,241.7 719.2,241.4 719.5,241.3 719.8,240 720.2,241.3 720.5,240.2 720.8,240.5 721.2,241.7 721.5,241.8 721.8,241.6 722.1,241.8 722.5,241.4 722.8,240.9 723.1,241.3 723.5,242.3 723.8,241.3 724.1,241.3 724.5,240.9 724.8,241.3 725.1,241 725.4,240.9 725.8,241.1 726.1,242.6 726.4,241 726.8,241.2 727.1,241 727.4,241.3 727.8,240.8 728.1,241.3 728.4,240.4 728.8,241.7 729.1,240.5 729.4,241.1 729.7,240.4 730.1,240.9 730.4,241 730.7,241.2 731.1,240.8 731.4,242.2 731.7,240.6 732.1,241.9 732.4,241.2 732.7,242.5 733,240.1 733.4,241 733.7,241.1 734,241.9 734.4,241.2 734.7,242.2 735,241.2 735.4,240.9 735.7,240.5 736,241.6 736.3,240.4 736.7,241.1 737,241 737.3,241.7 737.7,241.3 738,241.6 738.3,241.7 738.7,241.6 739,241.2 739.3,242.2 739.7,240.8 740,241.1 740.3,241.3 740.6,241.1 741,240.9 741.3,241.4 741.6,241.4 742,241.6 742.3,240.1 742.6,240.6 743,241 743.3,241.9 743.6,240.8 743.9,241.3 744.3,240.4 744.6,241.5 744.9,241.2 745.3,241.7 745.6,240.7 745.9,240.5 746.3,241 746.6,242.3 746.9,240.8 747.3,241.3 747.6,241.3 747.9,241.3 748.2,241.7 748.6,242.4 748.9,240.7 749.2,241.7 749.6,241.2 749.9,242.3 750.2,241 750.6,241.9 750.9,242 751.2,242.6 751.5,240.5 751.9,242.1 752.2,240.5 752.5,241 752.9,241.6 753.2,241.8 753.5,240.4 753.9,241.3 754.2,239.7 754.5,240.8 754.8,240.7 755.2,240.5 755.5,240.9 755.8,241.4 756.2,241.4 756.5,241.4 756.8,241.2 757.2,241.8 757.5,240.4 757.8,241.4 758.2,241 758.5,241.2 758.8,240 759.1,241.7 759.5,240.5 759.8,240.8 760.1,240.8 760.5,241.5 760.8,240.6 761.1,241.2 761.5,240.9 761.8,241.4 762.1,241.2 762.4,241.5 762.8,242.1 763.1,241.6 763.4,241.3 763.8,241.9 764.1,241 764.4,242.1 764.8,240.8 765.1,241.7 765.4,240.6 765.8,241.5 766.1,240.9 766.4,242 766.7,240.5 767.1,241.9 767.4,242 767.7,241.7 768.1,241.7 768.4,242.3 768.7,240.7 769.1,241.1 769.4,241.3 769.7,241.8 770,240.7 770.4,242.1 770.7,241.2 771,241.5 771.4,241 771.7,241.3 772,240.7 772.4,242.3 772.7,241.2 773,241.2 773.3,240.7 773.7,241.7 774,240.8 774.3,241.9 774.7,240.9 775,242.3 775.3,241.5 775.7,241.5 776,241.1 776.3,241.6 776.7,241.1 777,241.2 777.3,240.4 777.6,241.6 778,240.2 778.3,241.1 778.6,239.2 779,241.5 779.3,240.6 779.6,241.7 780,240.8 780.3,241.2 780.6,239.7 780.9,241 781.3,240.3 781.6,240.3 781.9,240.7 782.3,240.8 782.6,240.5 782.9,241.3 783.3,241.4 783.6,241.1 783.9,240.5 784.3,241.1 784.6,240.7 784.9,241.9 785.2,240.3 785.6,240.7 785.9,240 786.2,240.6 786.6,240.1 786.9,241.2 787.2,239.8 787.6,240.9 787.9,241.1 788.2,241.5 788.5,241.2 788.9,240.8 789.2,240.7 789.5,240.8 789.9,239.8 790.2,241.2 790.5,239.5 790.9,239.9 791.2,238.8 791.5,238.7 791.8,238.3 792.2,238.5 792.5,238 792.8,237.6 793.2,237.6 793.5,237 793.8,237 794.2,236.9 794.5,236.1 794.8,236.1 795.2,236 795.5,235.3 795.8,234.9 796.1,234.7 796.5,233.8 796.8,234.7 797.1,233.5 797.5,234.2 797.8,232.6 798.1,233.7 798.5,233.6 798.8,233.8 799.1,233.3 799.4,234.6 799.8,233.2 800.1,234.5 800.4,233.1 800.8,233.7 801.1,232.4 801.4,232.8 801.8,231.1 802.1,231.7 802.4,229.9 802.8,230.1 803.1,227.4 803.4,227.1 803.7,225.1 804.1,224.6 804.4,222.8 804.7,223 805.1,220.7 805.4,221.7 805.7,221.4 806.1,223.2 806.4,222.7 806.7,225.6 807,226.2 807.4,227.6 807.7,229.8 808,230.8 808.4,232.2 808.7,233.6 809,234.6 809.4,236.1 809.7,236.3 810,236.3 810.3,237.4 810.7,238.4 811,237.9 811.3,239 811.7,238.4 812,239.5 812.3,239.9 812.7,240.1 813,239.7 813.3,239.3 813.7,239.9 814,240.2 814.3,240.2 814.6,240.3 815,240.2 815.3,241.2 815.6,240.5 816,240.7 816.3,240.7 816.6,240.5 817,240.9 817.3,241.5 817.6,239.9 817.9,240.7 818.3,240.8 818.6,241.3 818.9,241 819.3,240.9 819.6,239.4 819.9,241.6 820.3,240.8 820.6,240.5 820.9,240.3 821.3,241.8 821.6,240.5 821.9,241.2 822.2,240.7 822.6,240.5 822.9,240.8 823.2,241.5 823.6,241.3 823.9,241.8 824.2,241.5 824.6,241.4 824.9,240.4 825.2,240.7 825.5,240.4 825.9,240.9 826.2,240.3 826.5,240.9 826.9,240.6 827.2,242 827.5,241 827.9,241.5 828.2,242 828.5,241 828.8,240.6 829.2,241.9 829.5,240.3 829.8,241.3 830.2,240 830.5,241.4 830.8,241.1 831.2,241.6 831.5,240.3 831.8,242.1 832.2,240.5 832.5,242.1 832.8,241.1 833.1,241.8 833.5,240.9 833.8,241.3 834.1,240.8 834.5,241.1 834.8,241.7 835.1,240.3 835.5,240.4 835.8,241.5 836.1,241.1 836.4,242.1 836.8,241.1 837.1,241.8 837.4,241.2 837.8,241.1 838.1,241.7 838.4,241.4 838.8,241.8 839.1,241.2 839.4,241.5 839.8,242.6 840.1,239.8 840.4,241.6 840.7,240.8 841.1,241.8 841.4,240.9 841.7,241.6 842.1,241.7 842.4,242.6 842.7,240.7 843.1,242.2 843.4,241 843.7,241.7 844,240.2 844.4,241.6 844.7,241.3 845,241.9 845.4,241.3 845.7,242.2 846,241.2 846.4,241.5 846.7,240.9 847,241.6 847.3,241 847.7,241.2 848,240.9 848.3,241.2 848.7,240.4 849,241.4 849.3,240.8 849.7,241.5 850,241.3 850.3,241.7 850.7,241.4 851,240.8 851.3,240.7 851.6,240.8 852,240.1 852.3,241.7 852.6,241.6 853,241.1 853.3,241.4 853.6,242 854,240.4 854.3,241.1 854.6,240.9 854.9,241.3 855.3,240.8 855.6,241.2 855.9,240.5 856.3,241.9 856.6,240.4 856.9,241.2 857.3,240.7 857.6,240.8 857.9,241.3 858.3,241.6 858.6,240.7 858.9,241.7 859.2,240.9 859.6,241.9 859.9,240.5 860.2,241 860.6,240.1 860.9,241.3 861.2,241.5 861.6,240.6 861.9,240.9 862.2,240.9 862.5,241 862.9,241.9 863.2,240.8 863.5,241.7 863.9,241 864.2,240.7 864.5,240.5 864.9,241.1 865.2,241.1 865.5,241 865.8,240.1 866.2,240.8 866.5,241.1 866.8,241.9 867.2,240.5 867.5,241.4 867.8,240.5 868.2,241.8 868.5,241.5 868.8,240.5 869.2,240.9 869.5,241.9 869.8,240.1 870.1,241.5 870.5,240.9 870.8,240.2 871.1,239.4 871.5,241.4 871.8,241 872.1,241 872.5,241.4 872.8,240.9 873.1,241.1 873.4,240.8 873.8,240.4 874.1,241 874.4,240.4 874.8,240.3 875.1,239.9 875.4,241.1 875.8,239.8 876.1,241.1 876.4,240.1 876.8,241.2 877.1,240.1 877.4,239.9 877.7,239.4 878.1,240.9 878.4,239.9 878.7,240.1 879.1,239.2 879.4,239.9 879.7,238.6 880.1,239.7 880.4,239.4 880.7,238.6 881,238.4 881.4,238.4 881.7,238.1 882,237.6 882.4,236.5 882.7,237.2 883,236.2 883.4,235.2 883.7,235.1 884,234.5 884.3,233.3 884.7,234.7 885,233.5 885.3,234.4 885.7,233.4 886,234 886.3,234.6 886.7,234.7 887,233.7 887.3,235.6 887.7,235.8 888,236.6 888.3,236 888.6,237.1 889,237.2 889.3,238.6 889.6,239.4 890,240.1 890.3,239.1 890.6,239.3 891,239.3 891.3,240.4 891.6,238.9 891.9,238.6 892.3,240 892.6,240.9 892.9,238.6 893.3,241.1 893.6,239.5 893.9,241 894.3,239.5 894.6,240.5 894.9,240.1 895.3,240.6 895.6,240.3 895.9,240.7 896.2,239.9 896.6,240.3 896.9,239.9 897.2,240.5 897.6,240.3 897.9,239.4 898.2,239.7 898.6,239.7 898.9,239.1 899.2,239.6 899.5,237.8 899.9,238.6 900.2,237.8 900.5,238.9 900.9,237.5 901.2,238.3 901.5,237 901.9,236.6 902.2,236.3 902.5,235.3 902.8,235.5 903.2,234.9 903.5,234.3 903.8,234.2 904.2,232.9 904.5,233.2 904.8,233 905.2,233.2 905.5,232.6 905.8,232.2 906.2,232.9 906.5,232.4 906.8,233.2 907.1,234.8 907.5,234.6 907.8,236.1 908.1,235.7 908.5,236.5 908.8,236.7 909.1,238.1 909.5,238.2 909.8,238.4 910.1,238 910.4,238.8 910.8,238.4 911.1,239.3 911.4,238.7 911.8,239.4 912.1,239.5 912.4,240.1 912.8,239.2 913.1,240.1 913.4,240.3 913.8,241 914.1,240.5 914.4,240.7 914.7,241 915.1,240.2 915.4,240.2 915.7,241.9 916.1,240.6 916.4,241.4 916.7,239.7 917.1,241.5 917.4,240.2 917.7,241.1 918,240.4 918.4,241.4 918.7,240.7 919,241.2 919.4,240.4 919.7,242.1 920,240.2 920.4,240.7 920.7,240.4 921,241.2 921.3,240.2 921.7,241 922,240.9 922.3,241.1 922.7,240.5 923,241.4 923.3,240.2 923.7,240.8 924,239.6 924.3,241 924.7,240.4 925,241.8 925.3,241.1 925.6,242.6 926,240.4 926.3,241.7 926.6,242.1 927,241.2 927.3,240.7 927.6,240 928,240.2 928.3,241.8 928.6,240.3 928.9,240.8 929.3,240.5 929.6,241.2 929.9,240.5 930.3,241.8 930.6,240.2 930.9,241.4 931.3,241.6 931.6,241.8 931.9,240.6 932.3,241.6 932.6,241.4 932.9,241.8 933.2,241 933.6,241.6 933.9,241.2 934.2,240.5 934.6,240.5 934.9,241.7 935.2,240.6 935.6,240.8 935.9,240.5 936.2,241 936.5,240.5 936.9,241.5 937.2,241.8 937.5,241 937.9,240.3 938.2,241.8 938.5,240.2 938.9,240.9 939.2,241.1 939.5,241.3 939.8,240.4 940.2,240.8 940.5,241.1 940.8,241.4 941.2,240.6 941.5,242.2 941.8,240.2 942.2,241.9 942.5,240.2 942.8,241.2 943.2,241.1 943.5,241.8 943.8,240.1 944.1,241.2 944.5,241.2 944.8,241.7 945.1,240.2 945.5,241.4 945.8,240.9 946.1,241.3 946.5,240.7 946.8,241.5 947.1,240.4 947.4,240.9 947.8,240.4 948.1,240.8 948.4,241.3 948.8,240.4 949.1,240.6 949.4,241.4 949.8,240.7 950.1,241.8 950.4,240.3 950.8,240.9 951.1,241.3 951.4,241.9 951.7,240.6 952.1,240.6 952.4,241.2 952.7,240.8 953.1,240.1 953.4,241 953.7,240.6 954.1,241 954.4,240.9 954.7,242 955,239.5 955.4,241.9 955.7,240.9 956,240.9 956.4,241 956.7,240.9 957,240.5 957.4,240.6 957.7,240.5 958,240.4 958.3,239.8 958.7,241.1 959,239.1 959.3,239.7 959.7,239.9 960,241.1 960.3,239.4 960.7,239.8 961,240.4 961.3,239.8 961.7,239.3 962,239.2 962.3,238.5 962.6,239.1 963,237.9 963.3,238.8 963.6,237.5 964,238.5 964.3,236.3 964.6,235.7 965,236 965.3,234.9 965.6,234.5 965.9,233.9 966.3,232.7 966.6,232.3 966.9,230.7 967.3,231 967.6,228.9 967.9,229.6 968.3,228.9 968.6,230.7 968.9,230.3 969.3,230.8 969.6,230.3 969.9,231.1 970.2,232.3 970.6,233.3 970.9,233.7 971.2,234.9 971.6,234.7 971.9,236.7 972.2,236.9 972.6,238 972.9,237.1 973.2,238.2 973.5,236.9 973.9,237.9 974.2,238.4 974.5,238.9 974.9,238.3 975.2,239.5 975.5,238.3 975.9,239.5 976.2,239 976.5,238.7 976.8,239.1 977.2,239.2 977.5,239.1 977.8,239.6 978.2,238.9 978.5,238.7 978.8,237.8 979.2,238.4 979.5,237.7 979.8,237.6 980.2,235.5 980.5,237.7 980.8,236.7 981.1,235.8 981.5,235.9 981.8,236.9 982.1,237 982.5,237.3 982.8,237 983.1,238.5 983.5,239.1 983.8,238.4 984.1,238.3 984.4,238 984.8,238.9 985.1,239.2 985.4,238.5 985.8,239.5 986.1,239.1 986.4,239.1 986.8,239.3 987.1,240.6 987.4,240 987.8,240.9 988.1,239.7 988.4,241.1 988.7,240.3 989.1,241.4 989.4,240.5 989.7,240.6 990.1,240.5 990.4,240.3 990.7,240.5 991.1,240.3 991.4,240.3 991.7,240.7 992,240.2 992.4,241 992.7,239.9 993,241.9 993.4,241.1 993.7,242.1 994,241.4 994.4,241.8 994.7,241 995,241.4 995.3,240.4 995.7,241.8 996,240.8 996.3,241 996.7,241.3 997,241.6 997.3,239.8 997.7,241.5 998,240.9 998.3,241.9 998.7,240.8 999,241.6 999.3,240.3 999.6,240.8 1000,239.7 1000.3,241.4 1000.6,241.5 1001,242.2 1001.3,240.4 1001.6,240.5 1002,240.3 1002.3,240.8 1002.6,240.2 1002.9,241.2 1003.3,240.2 1003.6,241.1 1003.9,240 1004.3,241.1 1004.6,240.3 1004.9,241.9 1005.3,240.1 1005.6,241.4 1005.9,240.9 1006.3,241.5 1006.6,240.9 1006.9,241.4 1007.2,241 1007.6,241.3 1007.9,241 1008.2,240.8 1008.6,241.1 1008.9,241.6 1009.2,241.1 1009.6,241.6 1009.9,241.1 1010.2,241.5 1010.5,241.3 1010.9,241.1 1011.2,241.5 1011.5,241.6 1011.9,240.5 1012.2,240.9 1012.5,241.3 1012.9,241.4 1013.2,240 1013.5,241.3 1013.8,240.5 1014.2,241 1014.5,241.5 1014.8,242 1015.2,240.8 1015.5,242 1015.8,242.2 1016.2,242.1 1016.5,241.6 1016.8,241.2 1017.2,241.8 1017.5,241.6 1017.8,241.6 1018.1,241.1 1018.5,241.2 1018.8,241 1019.1,240.6 1019.5,241.1 1019.8,240.6 1020.1,241.6 1020.5,239.9 1020.8,240.5 1021.1,240.2 1021.4,241.2 1021.8,240.8 1022.1,241.6 1022.4,240.2 1022.8,241.8 1023.1,241.5 1023.4,241.7 1023.8,241.1 1024.1,242.5 1024.4,240.8 1024.8,242 1025.1,241.3 1025.4,242.2 1025.7,241.3 1026.1,240.8 1026.4,240.9 1026.7,242.5 1027.1,241.2 1027.4,241.7 1027.7,241.6 1028.1,242.2 1028.4,240.6 1028.7,240.9 1029,240.5 1029.4,241.3 1029.7,240.5 1030,241.2 1030.4,240 1030.7,241.8 1031,240.7 1031.4,241.3 1031.7,241.6 1032,240.7 1032.3,240.4 1032.7,240.7 1033,241.1 1033.3,241.6 1033.7,241.9 1034,241.9"/>
</g>
<g id="raman" clip-path="url(#cb)">
<polyline fill="none" stroke="#787878" stroke-width="6" stroke-linejoin="round" points="1233.9,899.9 1235.1,900 1236.4,899.9 1237.6,900 1238.8,900.2 1240.1,899.5 1241.3,899.8 1242.5,899.4 1243.8,899.6 1245,899.6 1246.2,899.8 1247.5,899.9 1248.7,899.7 1249.9,899.6 1251.2,899.4 1252.4,899.8 1253.6,899.7 1254.9,899.7 1256.1,899.7 1257.3,899.8 1258.6,899.4 1259.8,899.2 1261,899.7 1262.3,899.6 1263.5,899.5 1264.7,899.4 1266,899.7 1267.2,899.9 1268.4,899.2 1269.7,899.4 1270.9,899.4 1272.1,899.7 1273.4,898.9 1274.6,899.1 1275.8,899.5 1277.1,899.2 1278.3,899.2 1279.5,898.7 1280.8,899 1282,898.8 1283.2,899.2 1284.5,898.9 1285.7,898.7 1286.9,898.5 1288.2,899 1289.4,898.3 1290.6,898.4 1291.9,898.4 1293.1,898.1 1294.3,898 1295.6,898.1 1296.8,897.9 1298,897.7 1299.3,897.6 1300.5,897.3 1301.7,897.3 1303,897 1304.2,897.1 1305.4,896.2 1306.7,896.2 1307.9,895.7 1309.1,895.7 1310.4,895.2 1311.6,894.8 1312.8,894.8 1314.1,894.3 1315.3,893.7 1316.5,892.9 1317.8,892.1 1319,891.7 1320.2,891.1 1321.5,890.2 1322.7,888.6 1323.9,887.5 1325.2,886.6 1326.4,884.4 1327.6,882.5 1328.9,879.9 1330.1,877 1331.3,873.5 1332.6,869.7 1333.8,864.1 1335,856.9 1336.3,849 1337.5,838.5 1338.7,827.5 1340,814.2 1341.2,799.3 1342.4,783.7 1343.7,769 1344.9,757.9 1346.1,753.3 1347.4,755.3 1348.6,764.4 1349.8,777.5 1351.1,792.8 1352.3,808.4 1353.5,822.4 1354.8,834.9 1356,845 1357.2,854.1 1358.5,861.4 1359.7,867.8 1360.9,871.9 1362.2,875.8 1363.4,879.3 1364.6,881.9 1365.9,884 1367.1,885.4 1368.3,886.9 1369.6,888.3 1370.8,889.8 1372,890.8 1373.3,891.8 1374.5,891.7 1375.7,892.6 1377,893.5 1378.2,893.6 1379.4,894.5 1380.7,895 1381.9,895 1383.1,895.6 1384.4,895.8 1385.6,896.2 1386.8,896.3 1388.1,896.9 1389.3,897 1390.5,897.3 1391.8,897.3 1393,897.5 1394.2,897.2 1395.5,898 1396.7,897.7 1397.9,897.8 1399.2,897.8 1400.4,897.9 1401.6,898 1402.9,898.3 1404.1,897.9 1405.3,898 1406.6,898.5 1407.8,898.1 1409,897.9 1410.3,897.9 1411.5,897.8 1412.7,897.9 1414,898.2 1415.2,898 1416.4,898.1 1417.7,898.2 1418.9,898.4 1420.1,899.2 1421.4,898.5 1422.6,898.9 1423.8,898.8 1425.1,898.8 1426.3,899.7 1427.5,899.1 1428.8,899.5 1430,899.4 1431.2,899.5 1432.5,899.6 1433.7,899.8 1434.9,899.6 1436.2,899.6 1437.4,899.8 1438.6,900.1 1439.9,900.2 1441.1,899.7 1442.3,899.8 1443.6,899.5 1444.8,899.9 1446,900.4 1447.3,900.5 1448.5,899.9 1449.7,900.1 1451,900.3 1452.2,899.8 1453.4,900.2 1454.7,900.2 1455.9,900.7 1457.1,900.4 1458.4,900.3 1459.6,900.1 1460.8,900.6 1462.1,900.4 1463.3,900 1464.5,900.3 1465.8,900.6 1467,900.7 1468.2,900.1 1469.5,900.9 1470.7,900.3 1471.9,900.4 1473.2,900.3 1474.4,900.7 1475.6,900.4 1476.9,900.1 1478.1,901.3 1479.3,900.5 1480.6,900.6 1481.8,900 1483,900.5 1484.3,900.2 1485.5,900.6 1486.7,900.5 1488,900.3 1489.2,900.3 1490.4,901.1 1491.7,900.7 1492.9,900.5 1494.1,900.5 1495.4,900.3 1496.6,901.2 1497.8,900.5 1499.1,900.8 1500.3,900.4 1501.5,900.5 1502.8,900.6 1504,900.1 1505.2,900.5 1506.5,900.5 1507.7,900.4 1508.9,900.6 1510.2,900.6 1511.4,901 1512.6,900.7 1513.9,900.4 1515.1,900.7 1516.3,900.3 1517.6,900.5 1518.8,900.5 1520,900.5 1521.3,900.6 1522.5,900.8 1523.7,900.7 1525,900.9 1526.2,900.4 1527.4,900.5 1528.7,900.6 1529.9,900.7 1531.1,901 1532.4,900.8 1533.6,900.6 1534.8,900.4 1536.1,900.7 1537.3,900.8 1538.5,900.6 1539.8,900.7 1541,900.5 1542.2,900.7 1543.5,900.6 1544.7,900.6 1545.9,900.2 1547.2,900.9 1548.4,900.4 1549.6,900.7 1550.9,900.7 1552.1,900.4 1553.3,900.4 1554.6,900.6 1555.8,900.4 1557,900.3 1558.3,900.5 1559.5,900.8 1560.7,900.8 1562,900.7 1563.2,900.4 1564.4,900.7 1565.7,900.7 1566.9,900.5 1568.1,900 1569.4,900.4 1570.6,900.5 1571.8,900.2 1573.1,900.4 1574.3,900.6 1575.5,900.5 1576.8,900.3 1578,900.4 1579.2,900.8 1580.5,900.2 1581.7,900 1582.9,900.3 1584.2,900.4 1585.4,899.8 1586.6,900.1 1587.9,900.5 1589.1,900.6 1590.3,899.9 1591.6,899.8 1592.8,900.4 1594,900.4 1595.3,900.4 1596.5,900.1 1597.7,900.2 1599,900.1 1600.2,900.1 1601.4,899.9 1602.7,899.7 1603.9,899.8 1605.1,899.8 1606.4,900 1607.6,900.1 1608.8,899.6 1610.1,899.9 1611.3,899.9 1612.5,899.5 1613.8,899.8 1615,899.4 1616.2,899.2 1617.5,899.5 1618.7,899.2 1619.9,899.1 1621.2,899.2 1622.4,898.6 1623.6,898.3 1624.9,898.6 1626.1,898.2 1627.3,898.5 1628.6,898.2 1629.8,898 1631,897.9 1632.3,897.1 1633.5,897.1 1634.7,896.7 1636,896.8 1637.2,896 1638.4,895.7 1639.7,895.2 1640.9,894.4 1642.1,893.9 1643.4,894 1644.6,893.2 1645.8,892.1 1647.1,891.3 1648.3,890.6 1649.5,890.3 1650.8,889.2 1652,888.7 1653.2,887.9 1654.5,887.1 1655.7,886.9 1656.9,886.2 1658.2,886.3 1659.4,886 1660.6,885.7 1661.9,886.1 1663.1,886.6 1664.3,886.7 1665.6,887.5 1666.8,888.1 1668,888.8 1669.3,889.4 1670.5,890.7 1671.7,891.4 1673,891.8 1674.2,892.4 1675.4,893 1676.7,893.6 1677.9,894.1 1679.1,894.7 1680.4,895.5 1681.6,896.2 1682.8,896.2 1684.1,896.3 1685.3,896.7 1686.5,897 1687.8,897 1689,898 1690.2,897.5 1691.5,898.1 1692.7,898.5 1693.9,898.3 1695.2,898.4 1696.4,898.6 1697.6,898.5 1698.9,898.9 1700.1,898.7 1701.3,899.1 1702.6,899.1 1703.8,899.1 1705,899 1706.3,899.8 1707.5,899.6 1708.7,899.7 1710,899.6 1711.2,900.1 1712.4,899.7 1713.7,899.8 1714.9,899.3 1716.1,899.7 1717.4,900 1718.6,899.8 1719.8,900 1721.1,899.8 1722.3,899.7 1723.5,899.6 1724.8,899.9 1726,900.2 1727.2,900.1 1728.5,900.1 1729.7,900.2 1730.9,900 1732.2,899.9 1733.4,900 1734.6,900.2 1735.9,900 1737.1,899.6 1738.3,900 1739.6,899.6 1740.8,899.9 1742,899.8 1743.3,899.9 1744.5,899.7 1745.7,900.1 1747,899.9 1748.2,899.5 1749.4,899.5 1750.7,899.8 1751.9,899.7 1753.1,899.3 1754.4,899.7 1755.6,899.9 1756.8,899.6 1758.1,899.4 1759.3,899.6 1760.5,899.5 1761.8,899.7 1763,899.8 1764.2,899.4 1765.5,899.3 1766.7,899.5 1767.9,899.5 1769.2,898.7 1770.4,898.8 1771.6,899.1 1772.9,898.9 1774.1,898.9 1775.3,898.6 1776.6,898.2 1777.8,898.2 1779,898 1780.3,897.6 1781.5,897.8 1782.7,897.2 1784,897.5 1785.2,896.9 1786.4,896.5 1787.7,896.1 1788.9,895.5 1790.1,894.8 1791.4,894.3 1792.6,894 1793.8,893.5 1795.1,892.5 1796.3,892 1797.5,891.4 1798.8,890.5 1800,890.2 1801.2,889.1 1802.5,888.9 1803.7,888.3 1804.9,887.9 1806.2,887.7 1807.4,887.8 1808.6,887.7 1809.9,888.4 1811.1,889 1812.3,889 1813.6,890.1 1814.8,890.6 1816,891 1817.3,892 1818.5,892.6 1819.7,893.7 1821,894.3 1822.2,894.3 1823.4,894.9 1824.7,895.6 1825.9,895.8 1827.1,896.1 1828.4,896.9 1829.6,896.4 1830.8,897.4 1832.1,897.6 1833.3,897.8 1834.5,897.8 1835.8,897.9 1837,898 1838.2,898.3 1839.5,898.6 1840.7,898.9 1841.9,898.6 1843.2,898.8 1844.4,899.3 1845.6,898.6 1846.9,899 1848.1,899.1 1849.3,899.2 1850.6,899.2 1851.8,899.3 1853,899.3 1854.2,899.5 1855.5,899.7 1856.7,899.6 1857.9,899.4 1859.2,899.7 1860.4,899.8 1861.6,899.7 1862.9,899.3 1864.1,899.6 1865.3,899.4 1866.6,899.7 1867.8,899.4 1869,900 1870.3,899.7 1871.5,899.8 1872.7,899.7 1874,899.4 1875.2,899.5 1876.4,899.5 1877.7,899.6 1878.9,899.1 1880.1,899.7 1881.4,899.9 1882.6,899.6 1883.8,899.8 1885.1,899.3 1886.3,899 1887.5,899.6 1888.8,899.6 1890,900 1891.2,899.6 1892.5,899.4 1893.7,899.5 1894.9,899.4 1896.2,899.6 1897.4,899.4 1898.6,899.6 1899.9,899.1 1901.1,899.2 1902.3,899.3 1903.6,898.8 1904.8,899.3 1906,899.3 1907.3,899.2 1908.5,899 1909.7,899.2 1911,899 1912.2,899.1 1913.4,898.9 1914.7,898.5 1915.9,898.4 1917.1,898.5 1918.4,899 1919.6,898.5 1920.8,898.6 1922.1,898 1923.3,897.8 1924.5,897.6 1925.8,897.7 1927,897.7 1928.2,897.5 1929.5,897.1 1930.7,896.7 1931.9,896.3 1933.2,895.9 1934.4,896.2 1935.6,895.8 1936.9,895.1 1938.1,894.7 1939.3,894.1 1940.6,893.3 1941.8,893.6 1943,892.9 1944.3,891.9 1945.5,891.3 1946.7,890.5 1948,889.8 1949.2,889 1950.4,888.4 1951.7,887.9 1952.9,887.4 1954.1,886.6 1955.4,886.6 1956.6,886.6 1957.8,886.1 1959.1,886 1960.3,886.5 1961.5,886.7 1962.8,887.1 1964,887.9 1965.2,888 1966.5,888.9 1967.7,889.9 1968.9,890.2 1970.2,890.6 1971.4,891 1972.6,892.2 1973.9,893 1975.1,893.5 1976.3,893.8 1977.6,894.5 1978.8,895.2 1980,895.8 1981.3,896 1982.5,896 1983.7,896.6 1985,896.8 1986.2,896.9 1987.4,897.4 1988.7,897.9 1989.9,897.6 1991.1,897.4 1992.4,898 1993.6,898.3 1994.8,898.6 1996.1,898.4 1997.3,898.6 1998.5,898.9 1999.8,899.4 2001,898.8 2002.2,899.1 2003.5,899 2004.7,899.1 2005.9,899.3 2007.2,899.3 2008.4,899.4 2009.6,899.4 2010.9,899.7 2012.1,899.4 2013.3,899.4 2014.6,899.6 2015.8,899.6 2017,899.6 2018.3,899.6 2019.5,899.2 2020.7,899.5 2022,899.5 2023.2,899.7 2024.4,899.8 2025.7,899.6 2026.9,899.3 2028.1,900 2029.4,900.2 2030.6,900.1 2031.8,899.7 2033.1,899.9 2034.3,899.9 2035.5,899.6 2036.8,900.1 2038,899.8 2039.2,899.6 2040.5,900 2041.7,899.9 2042.9,900 2044.2,900 2045.4,899.7 2046.6,900.1 2047.9,899.6 2049.1,899.8 2050.3,899.9 2051.6,900.2 2052.8,900.1 2054,899.7 2055.3,900.2 2056.5,899.9 2057.7,900.3 2059,900.5 2060.2,899.9 2061.4,899.9 2062.7,900.2 2063.9,899.8 2065.1,900.4 2066.4,900.3 2067.6,899.8 2068.8,900.4 2070.1,900.5 2071.3,899.7 2072.5,900.1 2073.8,900.1 2075,900.4 2076.2,900.3 2077.5,900.2 2078.7,900.3 2079.9,900.4 2081.2,900.2 2082.4,899.9 2083.6,900.4 2084.9,900.1 2086.1,900.1 2087.3,899.9 2088.6,900.5 2089.8,900.4 2091,900.3 2092.3,900.3 2093.5,900.3 2094.7,900.4 2096,900.3 2097.2,900.1 2098.4,900.5 2099.7,900.2 2100.9,900.1 2102.1,900.4 2103.4,900.2 2104.6,900.5 2105.8,900.4 2107.1,900.1 2108.3,900.3 2109.5,900.1 2110.8,900.3 2112,900 2113.2,900.1 2114.5,900.3 2115.7,900.1 2116.9,900.3 2118.2,900.5 2119.4,900.5 2120.6,900.2 2121.9,900.6 2123.1,900.1 2124.3,900.7 2125.6,900.4 2126.8,900.4 2128,900.4 2129.3,900.7 2130.5,900.7 2131.7,900.2 2133,900.3 2134.2,900.1 2135.4,900.5 2136.7,900.1 2137.9,900.5 2139.1,900.6 2140.4,900.2 2141.6,900.6 2142.8,900.5 2144.1,900.8 2145.3,900.1 2146.5,900.4 2147.8,900.2 2149,900.4 2150.2,900.3 2151.5,900.3 2152.7,900.3 2153.9,900.4 2155.2,900.4 2156.4,900.4 2157.6,900.4 2158.9,900.9"/>
<polyline fill="none" stroke="#ff5a00" stroke-width="6" stroke-linejoin="round" points="1233.9,736.3 1235.1,736.5 1236.4,736.9 1237.6,736.2 1238.8,736.5 1240.1,736.4 1241.3,736.5 1242.5,736.2 1243.8,736.6 1245,736.4 1246.2,736.2 1247.5,736.5 1248.7,736.3 1249.9,736.8 1251.2,736.6 1252.4,736.5 1253.6,736.2 1254.9,736.1 1256.1,736.3 1257.3,736.2 1258.6,735.7 1259.8,736 1261,736.2 1262.3,736.1 1263.5,736.2 1264.7,735.9 1266,735.9 1267.2,735.6 1268.4,735.8 1269.7,735.8 1270.9,735.8 1272.1,736 1273.4,735.7 1274.6,735.6 1275.8,735.6 1277.1,735.8 1278.3,735.4 1279.5,735.9 1280.8,735.6 1282,735.2 1283.2,735.6 1284.5,735.3 1285.7,735.2 1286.9,735.1 1288.2,734.5 1289.4,735.3 1290.6,735 1291.9,734.7 1293.1,734.6 1294.3,734.6 1295.6,734.5 1296.8,734.1 1298,733.6 1299.3,734.3 1300.5,733.4 1301.7,733.6 1303,733 1304.2,733.4 1305.4,732.7 1306.7,732.6 1307.9,732.6 1309.1,732.1 1310.4,731.8 1311.6,731.7 1312.8,731.2 1314.1,730.5 1315.3,730 1316.5,729.5 1317.8,729.3 1319,727.9 1320.2,727.3 1321.5,726.8 1322.7,725.1 1323.9,724 1325.2,722.9 1326.4,721.6 1327.6,719.4 1328.9,717.2 1330.1,714.5 1331.3,710.4 1332.6,706.2 1333.8,700.6 1335,694.6 1336.3,686.2 1337.5,676.7 1338.7,664.7 1340,651.5 1341.2,636.7 1342.4,621.2 1343.7,607 1344.9,595.1 1346.1,589.4 1347.4,590.7 1348.6,599.5 1349.8,612.2 1351.1,627.8 1352.3,643 1353.5,657 1354.8,670 1356,680.7 1357.2,689.7 1358.5,697.4 1359.7,703.3 1360.9,707.8 1362.2,712.4 1363.4,715.3 1364.6,718.2 1365.9,720.2 1367.1,722.3 1368.3,723.5 1369.6,724.7 1370.8,726.1 1372,726.9 1373.3,728 1374.5,728.7 1375.7,729.8 1377,730.2 1378.2,730.7 1379.4,730.7 1380.7,731.7 1381.9,731.7 1383.1,731.8 1384.4,732.2 1385.6,732.9 1386.8,733 1388.1,733.1 1389.3,733.6 1390.5,733.9 1391.8,733.8 1393,734.1 1394.2,734.2 1395.5,734.2 1396.7,734.2 1397.9,734.3 1399.2,734 1400.4,734.9 1401.6,734.7 1402.9,734.3 1404.1,734.2 1405.3,734.5 1406.6,734.7 1407.8,734.3 1409,734.2 1410.3,733.7 1411.5,734.1 1412.7,733.9 1414,733.7 1415.2,733.7 1416.4,733.8 1417.7,734.3 1418.9,734.7 1420.1,734.9 1421.4,734.9 1422.6,735.6 1423.8,735.7 1425.1,735.8 1426.3,736.3 1427.5,735.8 1428.8,736 1430,736.1 1431.2,736.2 1432.5,736.6 1433.7,736.8 1434.9,736.3 1436.2,736.5 1437.4,736.4 1438.6,736.6 1439.9,736.3 1441.1,736.8 1442.3,736.5 1443.6,736.4 1444.8,736.7 1446,736.5 1447.3,736.7 1448.5,736.5 1449.7,737 1451,736.5 1452.2,736.5 1453.4,736.7 1454.7,736.6 1455.9,737.2 1457.1,736.8 1458.4,736.8 1459.6,737.1 1460.8,736.8 1462.1,736.9 1463.3,737.3 1464.5,737 1465.8,737 1467,737.3 1468.2,737.3 1469.5,737.2 1470.7,737 1471.9,737.3 1473.2,736.9 1474.4,737 1475.6,737.5 1476.9,736.8 1478.1,736.9 1479.3,737.2 1480.6,737.1 1481.8,737.5 1483,737.3 1484.3,736.8 1485.5,737 1486.7,737.2 1488,737.1 1489.2,737.7 1490.4,737.7 1491.7,737.7 1492.9,737.2 1494.1,737.1 1495.4,737.1 1496.6,736.9 1497.8,737.2 1499.1,737.3 1500.3,737.4 1501.5,737.3 1502.8,737.1 1504,737.1 1505.2,737.2 1506.5,737.2 1507.7,737 1508.9,737 1510.2,737.2 1511.4,737.5 1512.6,737.1 1513.9,737.1 1515.1,737.3 1516.3,737.4 1517.6,737.3 1518.8,737.4 1520,737.4 1521.3,737.4 1522.5,737 1523.7,737.2 1525,737.1 1526.2,736.7 1527.4,737.2 1528.7,737 1529.9,737.3 1531.1,737 1532.4,737.3 1533.6,737.2 1534.8,736.7 1536.1,737.2 1537.3,737.3 1538.5,737.1 1539.8,737 1541,737 1542.2,737.2 1543.5,737.4 1544.7,737.4 1545.9,737.1 1547.2,737.3 1548.4,737.4 1549.6,737.1 1550.9,737 1552.1,736.9 1553.3,737.1 1554.6,737 1555.8,736.9 1557,737.8 1558.3,737.2 1559.5,737.2 1560.7,737.4 1562,736.7 1563.2,737.2 1564.4,737.4 1565.7,737.3 1566.9,736.8 1568.1,737.3 1569.4,737 1570.6,737.5 1571.8,736.9 1573.1,737 1574.3,737 1575.5,737.2 1576.8,736.8 1578,736.8 1579.2,736.9 1580.5,736.5 1581.7,736.8 1582.9,736.7 1584.2,736.9 1585.4,736.8 1586.6,737.2 1587.9,736.8 1589.1,736.7 1590.3,736.9 1591.6,736.9 1592.8,736.6 1594,736.2 1595.3,736.6 1596.5,736.6 1597.7,736.7 1599,736.7 1600.2,736.6 1601.4,736.9 1602.7,736.6 1603.9,736.8 1605.1,736.5 1606.4,736.2 1607.6,736.4 1608.8,736 1610.1,736.2 1611.3,736.4 1612.5,736.1 1613.8,736.4 1615,736.1 1616.2,736 1617.5,736.4 1618.7,736.5 1619.9,736.1 1621.2,735.7 1622.4,735.3 1623.6,735.3 1624.9,735.4 1626.1,735.2 1627.3,735.3 1628.6,735.1 1629.8,734.9 1631,734.6 1632.3,734.3 1633.5,733.9 1634.7,733.8 1636,733.8 1637.2,733.5 1638.4,732.6 1639.7,732.6 1640.9,731.9 1642.1,731.3 1643.4,731 1644.6,730.5 1645.8,729.1 1647.1,728.6 1648.3,727.4 1649.5,726.9 1650.8,726.5 1652,725.1 1653.2,724.2 1654.5,723.4 1655.7,722.8 1656.9,722.3 1658.2,722.2 1659.4,721.5 1660.6,721.7 1661.9,721.6 1663.1,722.5 1664.3,723.3 1665.6,723.7 1666.8,724.3 1668,725.5 1669.3,726.4 1670.5,727.2 1671.7,728.3 1673,728.4 1674.2,729.4 1675.4,730.1 1676.7,730.9 1677.9,731.3 1679.1,732.2 1680.4,732.6 1681.6,732.8 1682.8,733 1684.1,733.2 1685.3,734.1 1686.5,734.3 1687.8,733.9 1689,735 1690.2,734.8 1691.5,734.9 1692.7,735 1693.9,735.4 1695.2,735.4 1696.4,735.4 1697.6,735.6 1698.9,735.7 1700.1,735.8 1701.3,735.3 1702.6,735.7 1703.8,736 1705,736 1706.3,736.1 1707.5,736.1 1708.7,735.9 1710,736.4 1711.2,735.7 1712.4,735.5 1713.7,736.3 1714.9,736.6 1716.1,736 1717.4,736.1 1718.6,736.1 1719.8,736 1721.1,736 1722.3,736.4 1723.5,735.8 1724.8,736.4 1726,736.1 1727.2,736.7 1728.5,736 1729.7,736.5 1730.9,736.1 1732.2,736 1733.4,736.3 1734.6,736.4 1735.9,736.7 1737.1,736.5 1738.3,736.4 1739.6,736.3 1740.8,736.8 1742,736.2 1743.3,736.2 1744.5,736.4 1745.7,736.2 1747,736.3 1748.2,736.2 1749.4,736.1 1750.7,735.7 1751.9,736.5 1753.1,735.9 1754.4,736.1 1755.6,735.9 1756.8,736.4 1758.1,736.3 1759.3,736.4 1760.5,735.9 1761.8,735.9 1763,735.4 1764.2,735.9 1765.5,735.6 1766.7,735.2 1767.9,735.5 1769.2,735.3 1770.4,735.4 1771.6,735.3 1772.9,735.3 1774.1,735.3 1775.3,734.8 1776.6,734.9 1777.8,734.8 1779,734.8 1780.3,734.4 1781.5,733.8 1782.7,733.7 1784,733.7 1785.2,733 1786.4,733.1 1787.7,732.6 1788.9,732.1 1790.1,731.7 1791.4,731.3 1792.6,730.9 1793.8,730.5 1795.1,729.9 1796.3,729.6 1797.5,729.1 1798.8,728.1 1800,727.6 1801.2,727 1802.5,726.8 1803.7,726.4 1804.9,726.1 1806.2,725.8 1807.4,725.6 1808.6,726.1 1809.9,726.8 1811.1,726.5 1812.3,727.6 1813.6,727.6 1814.8,728.4 1816,728.7 1817.3,729.4 1818.5,729.8 1819.7,730.4 1821,730.7 1822.2,731.4 1823.4,731.4 1824.7,732.4 1825.9,732.6 1827.1,733 1828.4,732.7 1829.6,733.5 1830.8,734.1 1832.1,733.9 1833.3,733.8 1834.5,734.1 1835.8,734.3 1837,734.6 1838.2,734.6 1839.5,734.9 1840.7,734.7 1841.9,734.7 1843.2,734.8 1844.4,734.8 1845.6,735 1846.9,735.2 1848.1,734.9 1849.3,735.1 1850.6,735.3 1851.8,735.3 1853,735.1 1854.2,735.4 1855.5,735.4 1856.7,735.3 1857.9,735.5 1859.2,735.2 1860.4,735.6 1861.6,735.5 1862.9,735.6 1864.1,735.3 1865.3,735.5 1866.6,735.2 1867.8,735.5 1869,735.7 1870.3,735 1871.5,735.6 1872.7,735.3 1874,735.5 1875.2,735.7 1876.4,735.3 1877.7,735.4 1878.9,735 1880.1,734.9 1881.4,735.1 1882.6,735.5 1883.8,735.1 1885.1,735.3 1886.3,735 1887.5,735.1 1888.8,735.1 1890,735 1891.2,734.9 1892.5,734.9 1893.7,735.1 1894.9,735.2 1896.2,735.2 1897.4,734.9 1898.6,735.1 1899.9,735.1 1901.1,734.9 1902.3,734.9 1903.6,734.8 1904.8,735 1906,734.7 1907.3,734.4 1908.5,734.9 1909.7,734.5 1911,734.8 1912.2,734.4 1913.4,734.5 1914.7,734.2 1915.9,734 1917.1,734.1 1918.4,734 1919.6,734.1 1920.8,733.7 1922.1,733.6 1923.3,733.6 1924.5,733.5 1925.8,733.2 1927,733.1 1928.2,732.6 1929.5,732.3 1930.7,732.3 1931.9,732.2 1933.2,731 1934.4,731.2 1935.6,730.9 1936.9,730.3 1938.1,730 1939.3,729.2 1940.6,728.2 1941.8,728.5 1943,727.8 1944.3,727.3 1945.5,726.8 1946.7,725.5 1948,724.7 1949.2,724.2 1950.4,723.1 1951.7,723.3 1952.9,722.6 1954.1,721.9 1955.4,721 1956.6,721.3 1957.8,721.1 1959.1,721.1 1960.3,721.3 1961.5,721.9 1962.8,722.2 1964,722.4 1965.2,722.9 1966.5,723.8 1967.7,724.3 1968.9,725 1970.2,725.6 1971.4,726.7 1972.6,727 1973.9,728.1 1975.1,728.6 1976.3,729.1 1977.6,729.6 1978.8,730.1 1980,730.8 1981.3,731.2 1982.5,731.6 1983.7,732 1985,732 1986.2,732.5 1987.4,732.7 1988.7,733.1 1989.9,732.9 1991.1,733.4 1992.4,733.5 1993.6,733.7 1994.8,733.9 1996.1,733.5 1997.3,734.2 1998.5,734.1 1999.8,734.4 2001,734.2 2002.2,734.5 2003.5,734.6 2004.7,734.4 2005.9,734.9 2007.2,734.8 2008.4,734.8 2009.6,734.7 2010.9,734.9 2012.1,734.9 2013.3,734.8 2014.6,735 2015.8,735.2 2017,735 2018.3,735.1 2019.5,735 2020.7,735.2 2022,735.3 2023.2,734.8 2024.4,735.2 2025.7,735.2 2026.9,735.4 2028.1,735.2 2029.4,735.1 2030.6,736 2031.8,735.2 2033.1,735.3 2034.3,735.4 2035.5,735.7 2036.8,735.2 2038,735.6 2039.2,735.4 2040.5,735.7 2041.7,735.2 2042.9,735.7 2044.2,735.7 2045.4,735.3 2046.6,735.7 2047.9,735.7 2049.1,735.7 2050.3,735.6 2051.6,735.8 2052.8,736 2054,735.8 2055.3,735.4 2056.5,735.3 2057.7,735.6 2059,735.9 2060.2,735.8 2061.4,735.9 2062.7,735.6 2063.9,735.7 2065.1,735 2066.4,735.8 2067.6,736 2068.8,735.7 2070.1,735.8 2071.3,735.9 2072.5,735.7 2073.8,735.7 2075,735 2076.2,735.5 2077.5,735.5 2078.7,735.8 2079.9,736 2081.2,736.1 2082.4,735.6 2083.6,736 2084.9,735.9 2086.1,736.1 2087.3,735.6 2088.6,735.6 2089.8,735.8 2091,735.6 2092.3,736 2093.5,736.2 2094.7,735.8 2096,735.6 2097.2,735.9 2098.4,735.9 2099.7,735.5 2100.9,735.9 2102.1,736 2103.4,735.9 2104.6,736 2105.8,735.7 2107.1,736 2108.3,736.1 2109.5,735.9 2110.8,735.9 2112,735.5 2113.2,735.8 2114.5,735.7 2115.7,735.5 2116.9,735.8 2118.2,735.8 2119.4,735.9 2120.6,736 2121.9,735.8 2123.1,735.8 2124.3,735.6 2125.6,735.7 2126.8,735.6 2128,735.9 2129.3,736 2130.5,735.4 2131.7,735.8 2133,736 2134.2,736.1 2135.4,736.1 2136.7,736.5 2137.9,735.7 2139.1,735.9 2140.4,736 2141.6,735.8 2142.8,735.9 2144.1,736.2 2145.3,736 2146.5,735.7 2147.8,735.7 2149,736 2150.2,735.8 2151.5,735.7 2152.7,736.3 2153.9,735.9 2155.2,735.6 2156.4,736.1 2157.6,735.6 2158.9,735.5"/>
<polyline fill="none" stroke="#00a0ff" stroke-width="6" stroke-linejoin="round" points="1233.9,565.5 1235.1,565.5 1236.4,565.4 1237.6,565.7 1238.8,565.5 1240.1,565.8 1241.3,565.6 1242.5,565.7 1243.8,565.4 1245,565.6 1246.2,565.8 1247.5,565.5 1248.7,565.9 1249.9,565.4 1251.2,565.6 1252.4,565.5 1253.6,565.2 1254.9,565.6 1256.1,565.8 1257.3,565.4 1258.6,565.1 1259.8,565.4 1261,565.4 1262.3,565.6 1263.5,565.1 1264.7,565.3 1266,565.3 1267.2,565.3 1268.4,565.3 1269.7,565.1 1270.9,565.1 1272.1,565.2 1273.4,565.7 1274.6,565.1 1275.8,564.9 1277.1,564.9 1278.3,565.2 1279.5,565.2 1280.8,565 1282,565.1 1283.2,564.6 1284.5,564.5 1285.7,564.8 1286.9,564.6 1288.2,564.5 1289.4,564.5 1290.6,564.3 1291.9,564.1 1293.1,564.2 1294.3,564.2 1295.6,564 1296.8,563.6 1298,563.8 1299.3,563.7 1300.5,563.6 1301.7,563.5 1303,563.6 1304.2,562.7 1305.4,562.7 1306.7,562.7 1307.9,562.2 1309.1,561.7 1310.4,561.8 1311.6,561.6 1312.8,560.7 1314.1,560.4 1315.3,559.9 1316.5,559.2 1317.8,558.9 1319,558.6 1320.2,557.6 1321.5,557 1322.7,555.8 1323.9,554.6 1325.2,553.4 1326.4,551.7 1327.6,549.4 1328.9,547.8 1330.1,545.4 1331.3,542 1332.6,538.1 1333.8,532.2 1335,526.1 1336.3,518 1337.5,508.8 1338.7,497.8 1340,485.4 1341.2,471.1 1342.4,456.2 1343.7,442.7 1344.9,432.2 1346.1,427.5 1347.4,430.2 1348.6,438.2 1349.8,450.8 1351.1,465.6 1352.3,479.9 1353.5,493.1 1354.8,504.4 1356,514.8 1357.2,523 1358.5,530.2 1359.7,535.6 1360.9,540.3 1362.2,543.8 1363.4,546.8 1364.6,549.4 1365.9,551.4 1367.1,552.9 1368.3,554.8 1369.6,556.1 1370.8,556.9 1372,557.7 1373.3,558.4 1374.5,559.3 1375.7,559.9 1377,560.9 1378.2,561.2 1379.4,561.1 1380.7,561.7 1381.9,562.4 1383.1,562.3 1384.4,563.2 1385.6,563 1386.8,563 1388.1,563.8 1389.3,563.9 1390.5,564.3 1391.8,564.3 1393,564.1 1394.2,564.4 1395.5,564.6 1396.7,564.8 1397.9,564.8 1399.2,564.9 1400.4,565.3 1401.6,565.3 1402.9,564.6 1404.1,565.1 1405.3,564.7 1406.6,565.1 1407.8,564.5 1409,564.1 1410.3,564.2 1411.5,564 1412.7,564 1414,563.9 1415.2,564.1 1416.4,564.1 1417.7,564.6 1418.9,564.7 1420.1,564.9 1421.4,565.3 1422.6,565.4 1423.8,566.1 1425.1,566.1 1426.3,566.3 1427.5,566.5 1428.8,566.9 1430,566.5 1431.2,566.9 1432.5,567 1433.7,566.9 1434.9,567.3 1436.2,566.9 1437.4,567.2 1438.6,567.5 1439.9,567 1441.1,567.1 1442.3,567.2 1443.6,567.3 1444.8,567.4 1446,567.5 1447.3,567.4 1448.5,567.4 1449.7,567.4 1451,567.6 1452.2,567.6 1453.4,567.9 1454.7,567.9 1455.9,567.5 1457.1,567.8 1458.4,567.9 1459.6,568.1 1460.8,568.2 1462.1,568.2 1463.3,567.8 1464.5,567.7 1465.8,567.8 1467,567.8 1468.2,568.2 1469.5,568.2 1470.7,567.9 1471.9,567.9 1473.2,568 1474.4,568.4 1475.6,567.7 1476.9,568.4 1478.1,568.4 1479.3,568.4 1480.6,568.4 1481.8,568.5 1483,568.2 1484.3,568.1 1485.5,567.9 1486.7,568.2 1488,568.4 1489.2,568.4 1490.4,568.6 1491.7,568.4 1492.9,568.5 1494.1,568.6 1495.4,568.4 1496.6,568.4 1497.8,568.1 1499.1,568.2 1500.3,568.7 1501.5,568.5 1502.8,568.1 1504,568.5 1505.2,568.3 1506.5,568.7 1507.7,568.4 1508.9,568.5 1510.2,568.8 1511.4,568.7 1512.6,568.6 1513.9,568.9 1515.1,568.8 1516.3,568.4 1517.6,568.5 1518.8,568.6 1520,568.8 1521.3,568.5 1522.5,568.2 1523.7,568.7 1525,568.5 1526.2,568.9 1527.4,568.1 1528.7,569.1 1529.9,568.5 1531.1,568.2 1532.4,568.6 1533.6,568.8 1534.8,568.6 1536.1,568.9 1537.3,568.5 1538.5,568.9 1539.8,568.6 1541,568.7 1542.2,569 1543.5,568.8 1544.7,568.6 1545.9,568.5 1547.2,568.8 1548.4,568.4 1549.6,568.6 1550.9,568.6 1552.1,568.3 1553.3,568.8 1554.6,568.9 1555.8,568.6 1557,568.4 1558.3,568.8 1559.5,568.3 1560.7,568.5 1562,568.7 1563.2,568.6 1564.4,568.3 1565.7,568.8 1566.9,568.7 1568.1,568.6 1569.4,569 1570.6,568.6 1571.8,568.8 1573.1,568.2 1574.3,568.8 1575.5,568.5 1576.8,568.9 1578,568.4 1579.2,568.9 1580.5,568.7 1581.7,568.9 1582.9,569 1584.2,568.7 1585.4,568.4 1586.6,568.7 1587.9,568.5 1589.1,568.7 1590.3,568.5 1591.6,568.4 1592.8,568.4 1594,568.7 1595.3,568.6 1596.5,568.7 1597.7,568.5 1599,568.9 1600.2,568.2 1601.4,568.5 1602.7,568.3 1603.9,568.6 1605.1,568.8 1606.4,568.5 1607.6,568.6 1608.8,568.5 1610.1,568.4 1611.3,568.6 1612.5,568.4 1613.8,568.3 1615,568.2 1616.2,568.3 1617.5,567.9 1618.7,568.4 1619.9,567.6 1621.2,568 1622.4,568.1 1623.6,567.7 1624.9,567.9 1626.1,567.6 1627.3,567.5 1628.6,567.7 1629.8,567.5 1631,567.1 1632.3,566.9 1633.5,567 1634.7,566.5 1636,566.5 1637.2,566.2 1638.4,565.7 1639.7,565.7 1640.9,565.7 1642.1,564.3 1643.4,564.2 1644.6,563.8 1645.8,563.2 1647.1,563.1 1648.3,562.2 1649.5,561.7 1650.8,561.1 1652,560.7 1653.2,559.5 1654.5,559.2 1655.7,558.5 1656.9,557.9 1658.2,557.8 1659.4,557.9 1660.6,558.1 1661.9,558.8 1663.1,558.8 1664.3,559.2 1665.6,559.6 1666.8,560.2 1668,561.2 1669.3,562.1 1670.5,562.1 1671.7,562.9 1673,563.5 1674.2,563.8 1675.4,564.8 1676.7,565.3 1677.9,565.6 1679.1,566 1680.4,566.2 1681.6,566 1682.8,566.5 1684.1,566.8 1685.3,567 1686.5,567.5 1687.8,567.3 1689,568.1 1690.2,567.6 1691.5,567.9 1692.7,568.3 1693.9,568.2 1695.2,567.9 1696.4,568.1 1697.6,568.2 1698.9,567.8 1700.1,568.3 1701.3,568.3 1702.6,568.4 1703.8,568.6 1705,568.9 1706.3,568.9 1707.5,568.7 1708.7,568.5 1710,568.5 1711.2,568.9 1712.4,568.6 1713.7,568.7 1714.9,568.4 1716.1,569 1717.4,568.9 1718.6,569.1 1719.8,569 1721.1,569 1722.3,569 1723.5,569.1 1724.8,568.6 1726,568.7 1727.2,569 1728.5,569.6 1729.7,568.9 1730.9,569 1732.2,568.8 1733.4,569.1 1734.6,569 1735.9,569 1737.1,569.2 1738.3,569.3 1739.6,569 1740.8,568.6 1742,569.3 1743.3,569.2 1744.5,568.9 1745.7,569.1 1747,569.3 1748.2,568.7 1749.4,568.8 1750.7,568.4 1751.9,569 1753.1,568.7 1754.4,568.5 1755.6,568.6 1756.8,569.1 1758.1,569.2 1759.3,568.9 1760.5,569.1 1761.8,569 1763,568.6 1764.2,569.1 1765.5,568.8 1766.7,569.1 1767.9,568.6 1769.2,568.8 1770.4,568.3 1771.6,568.6 1772.9,568.4 1774.1,568.6 1775.3,568.7 1776.6,568.6 1777.8,568.2 1779,568.2 1780.3,567.8 1781.5,567.8 1782.7,567.6 1784,567.3 1785.2,567.4 1786.4,567 1787.7,567.2 1788.9,566.5 1790.1,566.3 1791.4,566 1792.6,566 1793.8,565.3 1795.1,564.9 1796.3,564.2 1797.5,564.2 1798.8,563.9 1800,563.4 1801.2,563.1 1802.5,562.8 1803.7,562.3 1804.9,562.4 1806.2,562.6 1807.4,562.3 1808.6,562.5 1809.9,562.4 1811.1,562.5 1812.3,563.6 1813.6,563.5 1814.8,563.9 1816,564.7 1817.3,565 1818.5,565.6 1819.7,565.7 1821,566 1822.2,566.4 1823.4,566.7 1824.7,566.5 1825.9,566.5 1827.1,567.2 1828.4,567.6 1829.6,567.5 1830.8,567.8 1832.1,567.9 1833.3,567.7 1834.5,568.4 1835.8,568.5 1837,568.4 1838.2,568.8 1839.5,568.3 1840.7,568.9 1841.9,568.9 1843.2,569.1 1844.4,568.6 1845.6,568.7 1846.9,568.9 1848.1,569.1 1849.3,569.1 1850.6,569.1 1851.8,568.9 1853,568.9 1854.2,568.7 1855.5,569.1 1856.7,569.3 1857.9,568.7 1859.2,569.3 1860.4,569.4 1861.6,569.4 1862.9,569.1 1864.1,568.8 1865.3,569.2 1866.6,569 1867.8,569.2 1869,569.5 1870.3,569.3 1871.5,569.1 1872.7,569.3 1874,569.2 1875.2,569.2 1876.4,569.3 1877.7,569.3 1878.9,569.1 1880.1,569.3 1881.4,568.9 1882.6,568.9 1883.8,569.5 1885.1,569.1 1886.3,569 1887.5,568.9 1888.8,569.5 1890,569.4 1891.2,569 1892.5,568.8 1893.7,569.4 1894.9,569.1 1896.2,569 1897.4,568.9 1898.6,568.8 1899.9,569.1 1901.1,569 1902.3,568.6 1903.6,568.7 1904.8,568.8 1906,568.6 1907.3,568.8 1908.5,568.4 1909.7,568.6 1911,568.9 1912.2,568.7 1913.4,568.5 1914.7,568.5 1915.9,568.5 1917.1,568.5 1918.4,568.5 1919.6,568.5 1920.8,568.2 1922.1,568.4 1923.3,568.4 1924.5,568 1925.8,567.6 1927,567.2 1928.2,567.4 1929.5,567.5 1930.7,567.2 1931.9,566.8 1933.2,566.6 1934.4,566.8 1935.6,565.6 1936.9,565.8 1938.1,565.5 1939.3,564.7 1940.6,564.4 1941.8,564.1 1943,563.3 1944.3,563.1 1945.5,562.2 1946.7,561.9 1948,561.1 1949.2,560.8 1950.4,560.2 1951.7,559.5 1952.9,559.3 1954.1,558.4 1955.4,558.2 1956.6,558.3 1957.8,557.9 1959.1,558.3 1960.3,558.6 1961.5,558.4 1962.8,558.5 1964,559.2 1965.2,559.5 1966.5,560.6 1967.7,561.1 1968.9,561.6 1970.2,562.5 1971.4,563.1 1972.6,563.4 1973.9,564.2 1975.1,564.8 1976.3,565.6 1977.6,565.8 1978.8,566 1980,566.5 1981.3,567.4 1982.5,567.2 1983.7,567.6 1985,568 1986.2,567.9 1987.4,568.5 1988.7,568.4 1989.9,568.8 1991.1,569.5 1992.4,569.3 1993.6,569.4 1994.8,569.5 1996.1,569.6 1997.3,570 1998.5,569.9 1999.8,570.1 2001,570.2 2002.2,570.2 2003.5,570.5 2004.7,570.6 2005.9,570.8 2007.2,570.8 2008.4,570.4 2009.6,570.5 2010.9,571.2 2012.1,570.6 2013.3,570.8 2014.6,571 2015.8,571.1 2017,571.4 2018.3,571.3 2019.5,571.2 2020.7,571.3 2022,571.3 2023.2,571.6 2024.4,571.9 2025.7,571.2 2026.9,571.3 2028.1,571.2 2029.4,571.7 2030.6,571.4 2031.8,571.7 2033.1,571.5 2034.3,571.6 2035.5,571.6 2036.8,571.7 2038,572 2039.2,571.9 2040.5,572 2041.7,571.9 2042.9,572 2044.2,572.1 2045.4,571.6 2046.6,572.2 2047.9,571.7 2049.1,572.5 2050.3,572.3 2051.6,572 2052.8,571.7 2054,572 2055.3,571.9 2056.5,572.2 2057.7,572.1 2059,572.4 2060.2,572 2061.4,571.9 2062.7,572.3 2063.9,571.9 2065.1,572.2 2066.4,572.1 2067.6,572.1 2068.8,572.6 2070.1,572.9 2071.3,572.3 2072.5,572.3 2073.8,572.2 2075,572.4 2076.2,572.4 2077.5,572.6 2078.7,572.4 2079.9,572.8 2081.2,572.4 2082.4,572.4 2083.6,572.4 2084.9,572.4 2086.1,572 2087.3,572.7 2088.6,572.9 2089.8,572.5 2091,572.5 2092.3,572.4 2093.5,572.6 2094.7,572.5 2096,572.6 2097.2,572.7 2098.4,572.7 2099.7,572.6 2100.9,572.8 2102.1,572.5 2103.4,572.5 2104.6,572.7 2105.8,572.9 2107.1,572.4 2108.3,572.9 2109.5,572.3 2110.8,572.9 2112,572.7 2113.2,572.7 2114.5,573 2115.7,572.7 2116.9,572.6 2118.2,572.9 2119.4,572.7 2120.6,572.7 2121.9,572.6 2123.1,573 2124.3,572.8 2125.6,572.8 2126.8,572.9 2128,572.9 2129.3,573 2130.5,573.2 2131.7,572.9 2133,572.8 2134.2,572.9 2135.4,573.2 2136.7,573.2 2137.9,573.2 2139.1,573.3 2140.4,572.9 2141.6,572.8 2142.8,572.7 2144.1,572.9 2145.3,573 2146.5,573.1 2147.8,572.8 2149,573 2150.2,573.3 2151.5,573.4 2152.7,572.8 2153.9,573.3 2155.2,573 2156.4,572.9 2157.6,573.1 2158.9,573.3"/>
<polyline fill="none" stroke="#00d08a" stroke-width="6" stroke-linejoin="round" points="1233.9,410.2 1235.1,410 1236.4,410.4 1237.6,410.2 1238.8,409.9 1240.1,410.2 1241.3,409.9 1242.5,409.9 1243.8,409.9 1245,409.8 1246.2,409.8 1247.5,410.1 1248.7,410.4 1249.9,409.8 1251.2,410.1 1252.4,409.8 1253.6,409.9 1254.9,410.3 1256.1,409.8 1257.3,410.1 1258.6,409.7 1259.8,409.5 1261,410.5 1262.3,409.8 1263.5,409.9 1264.7,409.5 1266,409.6 1267.2,409.5 1268.4,409.7 1269.7,409.8 1270.9,409.7 1272.1,409.7 1273.4,409.4 1274.6,409.5 1275.8,409.4 1277.1,409.3 1278.3,409.3 1279.5,409.1 1280.8,409 1282,408.9 1283.2,409.3 1284.5,409.1 1285.7,409 1286.9,409 1288.2,409 1289.4,408.7 1290.6,408.5 1291.9,407.9 1293.1,408.5 1294.3,408.1 1295.6,408.5 1296.8,407.8 1298,407.8 1299.3,407.8 1300.5,407.5 1301.7,407.2 1303,407.1 1304.2,406.6 1305.4,406.7 1306.7,406.4 1307.9,406.5 1309.1,405.7 1310.4,405.5 1311.6,404.9 1312.8,404.6 1314.1,404.2 1315.3,403.6 1316.5,403.5 1317.8,402.6 1319,402.1 1320.2,401.1 1321.5,399.7 1322.7,399.1 1323.9,398.2 1325.2,396.7 1326.4,394.6 1327.6,392.7 1328.9,390.7 1330.1,387.6 1331.3,383.8 1332.6,379.4 1333.8,373.9 1335,367.1 1336.3,358.9 1337.5,349.2 1338.7,337 1340,323.6 1341.2,308.6 1342.4,292.8 1343.7,278.9 1344.9,267.7 1346.1,262.9 1347.4,264.4 1348.6,273.5 1349.8,287.3 1351.1,302.5 1352.3,317.9 1353.5,332 1354.8,344.6 1356,355.5 1357.2,364.2 1358.5,371.6 1359.7,377.1 1360.9,382.4 1362.2,386.1 1363.4,389.5 1364.6,392.1 1365.9,394.2 1367.1,396.1 1368.3,397.6 1369.6,398.7 1370.8,399.6 1372,400.6 1373.3,401.7 1374.5,402.6 1375.7,403.1 1377,403.6 1378.2,404.4 1379.4,404.8 1380.7,405.2 1381.9,405.5 1383.1,406 1384.4,406.4 1385.6,406.4 1386.8,406.8 1388.1,406.9 1389.3,406.8 1390.5,407.2 1391.8,407.5 1393,407.4 1394.2,407.8 1395.5,408.1 1396.7,408.5 1397.9,407.4 1399.2,408 1400.4,408.1 1401.6,408.1 1402.9,408.3 1404.1,408.2 1405.3,408.3 1406.6,408 1407.8,407.9 1409,407.9 1410.3,407.5 1411.5,407.1 1412.7,407.6 1414,407.4 1415.2,407.5 1416.4,407.9 1417.7,408.2 1418.9,407.9 1420.1,408.8 1421.4,409 1422.6,408.8 1423.8,409.3 1425.1,409.1 1426.3,409.6 1427.5,409.8 1428.8,409.4 1430,409.5 1431.2,409.9 1432.5,409.9 1433.7,409.9 1434.9,409.7 1436.2,409.8 1437.4,409.6 1438.6,410.1 1439.9,410.2 1441.1,410.5 1442.3,410.5 1443.6,410.2 1444.8,410.4 1446,410.1 1447.3,410.4 1448.5,410.6 1449.7,410.3 1451,410.7 1452.2,410.2 1453.4,410.4 1454.7,410.7 1455.9,410.4 1457.1,410.8 1458.4,410.8 1459.6,410.6 1460.8,410.6 1462.1,411.1 1463.3,410.9 1464.5,410.4 1465.8,410.7 1467,411 1468.2,410.5 1469.5,410.8 1470.7,410.8 1471.9,411 1473.2,411 1474.4,410.6 1475.6,411 1476.9,410.8 1478.1,410.6 1479.3,410.7 1480.6,410.9 1481.8,411 1483,410.8 1484.3,410.5 1485.5,410.9 1486.7,410.7 1488,411 1489.2,410.7 1490.4,410.8 1491.7,410.5 1492.9,410.7 1494.1,411.1 1495.4,411.1 1496.6,411.1 1497.8,410.8 1499.1,410.7 1500.3,410.6 1501.5,410.8 1502.8,410.8 1504,410.6 1505.2,411 1506.5,410.8 1507.7,411.2 1508.9,411 1510.2,411.1 1511.4,410.6 1512.6,410.3 1513.9,410.8 1515.1,411.2 1516.3,410.9 1517.6,411.2 1518.8,410.9 1520,410.7 1521.3,410.7 1522.5,411 1523.7,410.6 1525,410.7 1526.2,410.9 1527.4,410.8 1528.7,410.8 1529.9,410.6 1531.1,411 1532.4,411.1 1533.6,410.9 1534.8,410.8 1536.1,411 1537.3,410.7 1538.5,410.8 1539.8,410.6 1541,410.9 1542.2,410.8 1543.5,410.9 1544.7,411 1545.9,410.7 1547.2,410.9 1548.4,411.3 1549.6,410.6 1550.9,410.8 1552.1,410.8 1553.3,410.6 1554.6,410.9 1555.8,410.8 1557,410.7 1558.3,410.9 1559.5,410.9 1560.7,410.8 1562,411.1 1563.2,411.3 1564.4,411.3 1565.7,410.8 1566.9,410.8 1568.1,410.9 1569.4,410.9 1570.6,410.8 1571.8,411 1573.1,411.4 1574.3,410.8 1575.5,410.4 1576.8,410.8 1578,410.6 1579.2,410.9 1580.5,410.6 1581.7,410.5 1582.9,410.8 1584.2,410.9 1585.4,410.5 1586.6,410.6 1587.9,410.8 1589.1,410.7 1590.3,410.6 1591.6,410.7 1592.8,410.4 1594,410.2 1595.3,410.4 1596.5,410.4 1597.7,410.6 1599,411 1600.2,410.5 1601.4,410.4 1602.7,410.8 1603.9,410.4 1605.1,410.3 1606.4,410.4 1607.6,410.3 1608.8,410.1 1610.1,410.3 1611.3,410.2 1612.5,410 1613.8,409.9 1615,410.3 1616.2,410.1 1617.5,410.1 1618.7,410 1619.9,410.1 1621.2,410 1622.4,409.8 1623.6,410 1624.9,409.5 1626.1,408.9 1627.3,409.4 1628.6,409 1629.8,409.3 1631,409 1632.3,409.1 1633.5,408.9 1634.7,408.6 1636,407.7 1637.2,407.4 1638.4,407.1 1639.7,407 1640.9,406.5 1642.1,406.5 1643.4,405.9 1644.6,405 1645.8,404.4 1647.1,404.2 1648.3,403.6 1649.5,402.7 1650.8,402.2 1652,401.3 1653.2,401 1654.5,400.4 1655.7,400 1656.9,399.5 1658.2,399.2 1659.4,399.9 1660.6,399.6 1661.9,399.9 1663.1,400.4 1664.3,401.1 1665.6,401.7 1666.8,402.1 1668,402.5 1669.3,403.4 1670.5,403.5 1671.7,404.5 1673,405 1674.2,405.7 1675.4,406 1676.7,406 1677.9,406.8 1679.1,407.4 1680.4,407.7 1681.6,408.1 1682.8,408.2 1684.1,408.6 1685.3,408.6 1686.5,408.8 1687.8,409 1689,408.8 1690.2,409.4 1691.5,409.1 1692.7,409.4 1693.9,409.6 1695.2,409.6 1696.4,410.3 1697.6,409.5 1698.9,409.6 1700.1,409.4 1701.3,409.9 1702.6,410.1 1703.8,410.2 1705,410 1706.3,409.7 1707.5,410.1 1708.7,410.2 1710,410 1711.2,410.2 1712.4,410.3 1713.7,410.4 1714.9,410.2 1716.1,410.7 1717.4,410.2 1718.6,409.8 1719.8,410.2 1721.1,410.4 1722.3,410 1723.5,410.1 1724.8,410 1726,410 1727.2,410.2 1728.5,410 1729.7,410.3 1730.9,410.1 1732.2,409.9 1733.4,410 1734.6,409.9 1735.9,410.3 1737.1,410.3 1738.3,410.5 1739.6,410.1 1740.8,410.1 1742,410.7 1743.3,410.1 1744.5,409.9 1745.7,410.1 1747,410.2 1748.2,410.1 1749.4,410 1750.7,410.2 1751.9,410 1753.1,409.6 1754.4,409.5 1755.6,410.2 1756.8,410.1 1758.1,410 1759.3,409.6 1760.5,409.9 1761.8,410 1763,410.1 1764.2,410.1 1765.5,410.2 1766.7,409.8 1767.9,409.4 1769.2,409.4 1770.4,409.5 1771.6,409.5 1772.9,409.2 1774.1,409.4 1775.3,409.1 1776.6,409.2 1777.8,409.2 1779,408.7 1780.3,409 1781.5,408.5 1782.7,408.3 1784,407.8 1785.2,407.7 1786.4,407.5 1787.7,407.2 1788.9,406.6 1790.1,406.3 1791.4,406 1792.6,405.4 1793.8,405.2 1795.1,404.9 1796.3,403.9 1797.5,403.7 1798.8,403.5 1800,402.7 1801.2,402.1 1802.5,401.5 1803.7,401.5 1804.9,401.3 1806.2,400.9 1807.4,400.9 1808.6,400.7 1809.9,401.2 1811.1,401.3 1812.3,401.5 1813.6,402.1 1814.8,402.5 1816,403 1817.3,403.8 1818.5,403.9 1819.7,404.9 1821,405.1 1822.2,405.5 1823.4,406.2 1824.7,406 1825.9,406.9 1827.1,407.2 1828.4,407 1829.6,407.9 1830.8,407.9 1832.1,408.1 1833.3,408.4 1834.5,408.6 1835.8,408.6 1837,408.6 1838.2,408.4 1839.5,408.7 1840.7,408.8 1841.9,409.2 1843.2,409 1844.4,409 1845.6,408.8 1846.9,409.1 1848.1,409.4 1849.3,409.2 1850.6,409.6 1851.8,409 1853,409.5 1854.2,409.5 1855.5,409.3 1856.7,409.2 1857.9,409.7 1859.2,409.2 1860.4,409.4 1861.6,409 1862.9,409.4 1864.1,409.7 1865.3,409.4 1866.6,409.7 1867.8,409.5 1869,409.8 1870.3,409.6 1871.5,409.4 1872.7,409.1 1874,409.6 1875.2,409.3 1876.4,409.8 1877.7,409.3 1878.9,409.4 1880.1,409.6 1881.4,410 1882.6,409.9 1883.8,409.4 1885.1,409.7 1886.3,409.6 1887.5,409.8 1888.8,409.3 1890,409.3 1891.2,409.7 1892.5,409.6 1893.7,409.4 1894.9,409.3 1896.2,409 1897.4,409.3 1898.6,409.4 1899.9,409.6 1901.1,409.2 1902.3,409.6 1903.6,408.9 1904.8,408.9 1906,409.2 1907.3,409.2 1908.5,409 1909.7,409.2 1911,408.8 1912.2,408.8 1913.4,408.5 1914.7,408.5 1915.9,408.4 1917.1,408.9 1918.4,408.3 1919.6,407.8 1920.8,408.1 1922.1,408.2 1923.3,408 1924.5,407.5 1925.8,407 1927,406.9 1928.2,407.2 1929.5,406.3 1930.7,405.8 1931.9,405.9 1933.2,405.5 1934.4,405.2 1935.6,405.1 1936.9,404.3 1938.1,403.8 1939.3,403.2 1940.6,403 1941.8,401.7 1943,401.4 1944.3,401 1945.5,400 1946.7,399.5 1948,399 1949.2,397.7 1950.4,397.4 1951.7,396.6 1952.9,395.7 1954.1,395.5 1955.4,395 1956.6,394.7 1957.8,394.9 1959.1,394.8 1960.3,395 1961.5,395.2 1962.8,395.6 1964,396.2 1965.2,397.4 1966.5,398.1 1967.7,398.7 1968.9,399.4 1970.2,400.1 1971.4,401.2 1972.6,401.2 1973.9,402.3 1975.1,402.7 1976.3,403.1 1977.6,404.2 1978.8,404.5 1980,405.2 1981.3,405.3 1982.5,406.1 1983.7,405.8 1985,406.5 1986.2,406.4 1987.4,406.9 1988.7,407.4 1989.9,407.1 1991.1,407.7 1992.4,408 1993.6,408.1 1994.8,408.4 1996.1,408.1 1997.3,408.5 1998.5,408.2 1999.8,408.3 2001,408.9 2002.2,408.8 2003.5,408.8 2004.7,409.1 2005.9,408.7 2007.2,409.5 2008.4,409.7 2009.6,409.1 2010.9,409 2012.1,409.4 2013.3,409.7 2014.6,409.2 2015.8,409.5 2017,409.5 2018.3,409.3 2019.5,409.4 2020.7,409.7 2022,409.1 2023.2,409.6 2024.4,409.4 2025.7,409.4 2026.9,409.6 2028.1,410.1 2029.4,409.8 2030.6,409.4 2031.8,409.9 2033.1,409.6 2034.3,409.4 2035.5,409.6 2036.8,410.1 2038,409.8 2039.2,409.8 2040.5,409.6 2041.7,409.7 2042.9,410 2044.2,409.3 2045.4,409.6 2046.6,410.3 2047.9,410.2 2049.1,409.9 2050.3,410.3 2051.6,409.7 2052.8,410 2054,410 2055.3,409.8 2056.5,410.4 2057.7,409.8 2059,410.2 2060.2,410 2061.4,409.9 2062.7,410 2063.9,410.4 2065.1,410 2066.4,410.6 2067.6,410.3 2068.8,409.9 2070.1,410.3 2071.3,410 2072.5,410.1 2073.8,410.1 2075,410 2076.2,410.2 2077.5,410.3 2078.7,410.3 2079.9,410.2 2081.2,410 2082.4,409.9 2083.6,410.6 2084.9,410.2 2086.1,410 2087.3,410.4 2088.6,410.2 2089.8,410.1 2091,410.3 2092.3,410 2093.5,410.1 2094.7,410.4 2096,410.3 2097.2,410.1 2098.4,410.2 2099.7,410 2100.9,410.3 2102.1,410.1 2103.4,410.4 2104.6,410.4 2105.8,410.4 2107.1,410.5 2108.3,410.6 2109.5,410.5 2110.8,410.4 2112,410 2113.2,410.2 2114.5,410.5 2115.7,410.1 2116.9,410.1 2118.2,410.3 2119.4,410.1 2120.6,410.2 2121.9,410.4 2123.1,410.2 2124.3,410.3 2125.6,410.3 2126.8,410.2 2128,410.2 2129.3,410.1 2130.5,410.2 2131.7,410.6 2133,410 2134.2,410.3 2135.4,410 2136.7,410.4 2137.9,410.4 2139.1,410.6 2140.4,410.2 2141.6,410.1 2142.8,410.7 2144.1,410.4 2145.3,410.5 2146.5,410.3 2147.8,410.5 2149,410.4 2150.2,410.3 2151.5,410.2 2152.7,410.4 2153.9,410.4 2155.2,410.6 2156.4,410.6 2157.6,410.3 2158.9,410.4"/>
<polyline fill="none" stroke="#ffaa80" stroke-width="6" stroke-linejoin="round" points="1233.9,238 1235.1,238.7 1236.4,238.4 1237.6,238.2 1238.8,238.3 1240.1,238.2 1241.3,238.1 1242.5,238.2 1243.8,237.9 1245,238.2 1246.2,238.1 1247.5,238.3 1248.7,238 1249.9,238.2 1251.2,238.3 1252.4,237.8 1253.6,238.2 1254.9,237.6 1256.1,237.6 1257.3,237.8 1258.6,237.4 1259.8,237.9 1261,237.3 1262.3,237.7 1263.5,237.4 1264.7,237.2 1266,237.5 1267.2,237.8 1268.4,237.3 1269.7,237.3 1270.9,237.3 1272.1,237 1273.4,237.1 1274.6,237.5 1275.8,236.8 1277.1,236.6 1278.3,237.3 1279.5,236.8 1280.8,236.7 1282,236.4 1283.2,236.4 1284.5,236.3 1285.7,236.6 1286.9,236 1288.2,236.1 1289.4,235.8 1290.6,235.1 1291.9,235.1 1293.1,235.4 1294.3,235.4 1295.6,235.5 1296.8,235.2 1298,234.6 1299.3,234.3 1300.5,234.3 1301.7,234 1303,233.5 1304.2,232.6 1305.4,232.6 1306.7,232 1307.9,231.7 1309.1,231.5 1310.4,230.5 1311.6,229.9 1312.8,229.1 1314.1,228.5 1315.3,227.4 1316.5,226.3 1317.8,225.3 1319,224.4 1320.2,222.8 1321.5,221.6 1322.7,219.6 1323.9,218.6 1325.2,216.8 1326.4,214.6 1327.6,212.5 1328.9,209.9 1330.1,207.3 1331.3,203.3 1332.6,198.5 1333.8,193.5 1335,185.9 1336.3,177.3 1337.5,166.2 1338.7,154.1 1340,140.4 1341.2,125.1 1342.4,110.4 1343.7,97.7 1344.9,90.7 1346.1,90.4 1347.4,96.7 1348.6,108.7 1349.8,123.4 1351.1,139.1 1352.3,153.6 1353.5,166.8 1354.8,178.1 1356,188.1 1357.2,195.5 1358.5,201.7 1359.7,207.2 1360.9,211.4 1362.2,215 1363.4,217.4 1364.6,219.9 1365.9,221.8 1367.1,223.6 1368.3,225.1 1369.6,226.1 1370.8,227.1 1372,227.7 1373.3,228.8 1374.5,229.7 1375.7,230 1377,230.5 1378.2,231.3 1379.4,231.5 1380.7,231.6 1381.9,232.1 1383.1,232.4 1384.4,232.5 1385.6,233.2 1386.8,233.1 1388.1,233.3 1389.3,233.4 1390.5,233.7 1391.8,233.6 1393,234 1394.2,234.2 1395.5,234.1 1396.7,234 1397.9,234.2 1399.2,233.8 1400.4,234 1401.6,234.2 1402.9,233.8 1404.1,233.7 1405.3,233.6 1406.6,233.4 1407.8,232.7 1409,233 1410.3,232.4 1411.5,232.4 1412.7,232.4 1414,232.3 1415.2,232.4 1416.4,233.4 1417.7,233.5 1418.9,233.5 1420.1,233.9 1421.4,234.3 1422.6,234.6 1423.8,235.1 1425.1,235.3 1426.3,235.4 1427.5,235.3 1428.8,235.8 1430,235.9 1431.2,235.8 1432.5,235.6 1433.7,236 1434.9,236.1 1436.2,236.1 1437.4,236.1 1438.6,236.3 1439.9,236.1 1441.1,236.5 1442.3,236.2 1443.6,236.4 1444.8,236 1446,236.3 1447.3,236.1 1448.5,236.5 1449.7,236.3 1451,236 1452.2,236 1453.4,236.2 1454.7,236.4 1455.9,236.5 1457.1,236.7 1458.4,236.2 1459.6,236.5 1460.8,236.6 1462.1,236.4 1463.3,236.4 1464.5,236.2 1465.8,236.2 1467,236.2 1468.2,236.4 1469.5,236.2 1470.7,236.5 1471.9,236.2 1473.2,236.4 1474.4,236.4 1475.6,236.9 1476.9,236.1 1478.1,236.6 1479.3,236.9 1480.6,236.5 1481.8,236.3 1483,236.3 1484.3,236.6 1485.5,236.8 1486.7,236.1 1488,236.6 1489.2,236.7 1490.4,236.6 1491.7,236.3 1492.9,236.6 1494.1,237.1 1495.4,236.6 1496.6,236.8 1497.8,236.7 1499.1,236.3 1500.3,236.7 1501.5,236.4 1502.8,236.4 1504,236.2 1505.2,236.9 1506.5,236.4 1507.7,237 1508.9,236.1 1510.2,236.2 1511.4,236.4 1512.6,236.9 1513.9,236.3 1515.1,236.4 1516.3,236.5 1517.6,236.8 1518.8,236.8 1520,236.6 1521.3,236.9 1522.5,236.5 1523.7,236.3 1525,236.4 1526.2,236.6 1527.4,236.3 1528.7,236.5 1529.9,236.2 1531.1,236.3 1532.4,236.1 1533.6,236.3 1534.8,236.6 1536.1,236.8 1537.3,236.6 1538.5,236.3 1539.8,236.6 1541,236.6 1542.2,236.5 1543.5,236.4 1544.7,236.1 1545.9,236.5 1547.2,236.3 1548.4,235.9 1549.6,236.2 1550.9,236.8 1552.1,236.1 1553.3,236.5 1554.6,236.4 1555.8,236.2 1557,236.5 1558.3,236.1 1559.5,236 1560.7,236.5 1562,236 1563.2,236 1564.4,236.6 1565.7,236.5 1566.9,235.9 1568.1,236.3 1569.4,236.2 1570.6,236.1 1571.8,235.7 1573.1,235.9 1574.3,236.1 1575.5,236.4 1576.8,236 1578,236.3 1579.2,236 1580.5,236.5 1581.7,235.7 1582.9,236.2 1584.2,235.7 1585.4,236.1 1586.6,235.7 1587.9,236.2 1589.1,236.2 1590.3,236.3 1591.6,235.9 1592.8,235.8 1594,236.2 1595.3,235.8 1596.5,236.1 1597.7,235.9 1599,236 1600.2,235.6 1601.4,235.7 1602.7,235.7 1603.9,235.9 1605.1,235.7 1606.4,235.5 1607.6,235.7 1608.8,235.7 1610.1,235.8 1611.3,235.6 1612.5,235.2 1613.8,235.5 1615,235.8 1616.2,235.6 1617.5,235.4 1618.7,235.3 1619.9,235.5 1621.2,235.2 1622.4,235 1623.6,235 1624.9,234.7 1626.1,234.7 1627.3,234.7 1628.6,234.2 1629.8,234.4 1631,234 1632.3,233.9 1633.5,233.6 1634.7,233.4 1636,232.9 1637.2,232.7 1638.4,232.5 1639.7,231.7 1640.9,231.7 1642.1,230.7 1643.4,230.3 1644.6,229.8 1645.8,229.2 1647.1,228.6 1648.3,227.9 1649.5,227.3 1650.8,226.3 1652,225.9 1653.2,225 1654.5,224.6 1655.7,224.1 1656.9,223.2 1658.2,223.4 1659.4,223.4 1660.6,223.6 1661.9,223.9 1663.1,224.2 1664.3,224.9 1665.6,225.7 1666.8,225.9 1668,226.6 1669.3,227.5 1670.5,228.3 1671.7,229.2 1673,229.1 1674.2,230.5 1675.4,230.8 1676.7,231.4 1677.9,231.3 1679.1,232.1 1680.4,232.7 1681.6,233 1682.8,233.3 1684.1,233.4 1685.3,233.5 1686.5,234.2 1687.8,234.2 1689,234.1 1690.2,234.2 1691.5,234.2 1692.7,234.5 1693.9,234.3 1695.2,234.7 1696.4,234.6 1697.6,235 1698.9,234.9 1700.1,234.7 1701.3,234.7 1702.6,235.1 1703.8,235.2 1705,235.3 1706.3,235.1 1707.5,235.1 1708.7,234.8 1710,234.7 1711.2,235.3 1712.4,235.6 1713.7,235.1 1714.9,235.1 1716.1,235 1717.4,235.3 1718.6,235.2 1719.8,235.3 1721.1,235.7 1722.3,235.3 1723.5,235.2 1724.8,235.5 1726,235.5 1727.2,235.3 1728.5,235.5 1729.7,235.4 1730.9,235.6 1732.2,235.5 1733.4,235.4 1734.6,235.2 1735.9,235.2 1737.1,235.4 1738.3,235.4 1739.6,235.7 1740.8,235.1 1742,235.4 1743.3,235.1 1744.5,235.5 1745.7,235.2 1747,235.3 1748.2,235.4 1749.4,234.8 1750.7,235.6 1751.9,235 1753.1,235.3 1754.4,234.9 1755.6,235.2 1756.8,235.2 1758.1,235.4 1759.3,234.8 1760.5,234.5 1761.8,234.9 1763,235.4 1764.2,234.9 1765.5,234.6 1766.7,234.8 1767.9,235 1769.2,234.6 1770.4,234.7 1771.6,234.9 1772.9,234.6 1774.1,234.5 1775.3,234.4 1776.6,234.3 1777.8,234.2 1779,233.4 1780.3,233.9 1781.5,233.6 1782.7,233.2 1784,233.4 1785.2,233.3 1786.4,232.1 1787.7,232.6 1788.9,232.1 1790.1,231.8 1791.4,231.1 1792.6,230.9 1793.8,230.8 1795.1,230.5 1796.3,229.5 1797.5,229.4 1798.8,228.3 1800,227.9 1801.2,228.1 1802.5,227.4 1803.7,226.7 1804.9,226.4 1806.2,226.3 1807.4,226.4 1808.6,226.4 1809.9,226.5 1811.1,227 1812.3,227.2 1813.6,227.9 1814.8,227.8 1816,228.2 1817.3,229 1818.5,229.3 1819.7,230 1821,230.5 1822.2,231.4 1823.4,231.5 1824.7,231.5 1825.9,232.1 1827.1,232.5 1828.4,232.6 1829.6,233 1830.8,233 1832.1,233.3 1833.3,233.4 1834.5,233.7 1835.8,234.2 1837,234 1838.2,233.8 1839.5,234.5 1840.7,234.3 1841.9,234.1 1843.2,234.4 1844.4,234.5 1845.6,234.7 1846.9,234.4 1848.1,234.3 1849.3,234.6 1850.6,234.6 1851.8,234.6 1853,235 1854.2,234.3 1855.5,235.1 1856.7,234.8 1857.9,234.6 1859.2,235.1 1860.4,235.2 1861.6,234.5 1862.9,234.8 1864.1,234.7 1865.3,234.9 1866.6,234.7 1867.8,234.9 1869,234.9 1870.3,234.7 1871.5,234.4 1872.7,234.8 1874,234.9 1875.2,234.9 1876.4,235 1877.7,234.8 1878.9,234.7 1880.1,234.9 1881.4,234.7 1882.6,234.5 1883.8,234.8 1885.1,234.3 1886.3,234.8 1887.5,234.8 1888.8,234.9 1890,234.8 1891.2,234.6 1892.5,234.5 1893.7,234.5 1894.9,234.5 1896.2,234.6 1897.4,234.7 1898.6,234.4 1899.9,234.4 1901.1,234 1902.3,234.1 1903.6,234.2 1904.8,234.3 1906,234.1 1907.3,234.5 1908.5,234.3 1909.7,233.6 1911,233.6 1912.2,233.9 1913.4,233.2 1914.7,233.5 1915.9,233.9 1917.1,233.4 1918.4,233.3 1919.6,233.3 1920.8,233.3 1922.1,233 1923.3,233 1924.5,233.2 1925.8,232.7 1927,232.4 1928.2,232.5 1929.5,231.8 1930.7,231.7 1931.9,231.7 1933.2,231 1934.4,230.7 1935.6,230.3 1936.9,230.2 1938.1,229 1939.3,228.9 1940.6,228.1 1941.8,227.9 1943,226.8 1944.3,226.8 1945.5,225.6 1946.7,225.3 1948,224.8 1949.2,223.7 1950.4,223.2 1951.7,222.7 1952.9,221.8 1954.1,221.5 1955.4,220.9 1956.6,220.6 1957.8,220.7 1959.1,221.1 1960.3,221.2 1961.5,221.3 1962.8,222 1964,222.1 1965.2,222.8 1966.5,223.8 1967.7,224.7 1968.9,225.3 1970.2,226 1971.4,226.4 1972.6,227.2 1973.9,228.1 1975.1,228.1 1976.3,229.1 1977.6,229.3 1978.8,230 1980,230.3 1981.3,231 1982.5,231.3 1983.7,231.5 1985,231.8 1986.2,231.6 1987.4,232 1988.7,232.7 1989.9,232.6 1991.1,232.9 1992.4,233.1 1993.6,233.2 1994.8,233.6 1996.1,233.7 1997.3,233.8 1998.5,233.6 1999.8,233.4 2001,233.9 2002.2,234.1 2003.5,234 2004.7,233.9 2005.9,234.3 2007.2,234.3 2008.4,234.7 2009.6,234.2 2010.9,234.4 2012.1,234.4 2013.3,234.5 2014.6,234.2 2015.8,234.3 2017,234.7 2018.3,234.2 2019.5,234.5 2020.7,234.6 2022,235 2023.2,234.4 2024.4,234.9 2025.7,234.8 2026.9,234.4 2028.1,234.7 2029.4,235 2030.6,235.1 2031.8,235 2033.1,234.9 2034.3,234.8 2035.5,235 2036.8,235 2038,234.8 2039.2,235 2040.5,234.7 2041.7,235.3 2042.9,234.9 2044.2,235.1 2045.4,234.9 2046.6,235 2047.9,234.9 2049.1,234.7 2050.3,235 2051.6,234.8 2052.8,235 2054,235 2055.3,235.3 2056.5,234.9 2057.7,235 2059,235.4 2060.2,235.1 2061.4,235.4 2062.7,235 2063.9,235.1 2065.1,235.3 2066.4,235.4 2067.6,235.1 2068.8,235.5 2070.1,235.1 2071.3,234.5 2072.5,235 2073.8,235.1 2075,235 2076.2,235.2 2077.5,235 2078.7,235.4 2079.9,235.5 2081.2,235.1 2082.4,235 2083.6,235.4 2084.9,235.2 2086.1,235.2 2087.3,235 2088.6,235 2089.8,235 2091,235.3 2092.3,235.7 2093.5,235 2094.7,235.3 2096,235.4 2097.2,235.3 2098.4,235.6 2099.7,235.2 2100.9,235.2 2102.1,235.5 2103.4,235.1 2104.6,235.4 2105.8,234.9 2107.1,235.5 2108.3,235.3 2109.5,235.3 2110.8,235.4 2112,235.6 2113.2,235.5 2114.5,235.2 2115.7,235.5 2116.9,235.2 2118.2,235 2119.4,235.1 2120.6,235.1 2121.9,235.4 2123.1,235.2 2124.3,235.1 2125.6,235.6 2126.8,235.6 2128,235.5 2129.3,235.5 2130.5,235.1 2131.7,235 2133,235.2 2134.2,235.4 2135.4,235.1 2136.7,234.9 2137.9,235.4 2139.1,235.5 2140.4,235.5 2141.6,235.2 2142.8,235.4 2144.1,235.3 2145.3,235.2 2146.5,235.1 2147.8,235.4 2149,235 2150.2,235.1 2151.5,235.5 2152.7,235.6 2153.9,235.4 2155.2,235.4 2156.4,235.6 2157.6,235.2 2158.9,235.5"/>
</g>
<g font-family="'Liberation Serif',serif" fill="#000" stroke="#fff" stroke-width="0.6">
<text transform="scale(0.9,1)" x="92.9 122.3" y="1054.5" font-size="54">10</text>
<text transform="scale(0.9,1)" x="239.7 269.2" y="1054.5" font-size="54">20</text>
<text transform="scale(0.9,1)" x="386.5 416" y="1054.5" font-size="54">30</text>
<text transform="scale(0.9,1)" x="533.4 562.8" y="1054.5" font-size="54">40</text>
<text transform="scale(0.9,1)" x="680.2 709.6" y="1054.5" font-size="54">50</text>
<text transform="scale(0.9,1)" x="827 856.5" y="1054.5" font-size="54">60</text>
<text transform="scale(0.9,1)" x="973.8 1003.3" y="1054.5" font-size="54">70</text>
<text transform="scale(0.9,1)" x="1120.7 1150.1" y="1054.5" font-size="54">80</text>
<text transform="scale(0.9,1)" x="1397.1 1426.6 1456" y="1054.5" font-size="54">100</text>
<text transform="scale(0.9,1)" x="1534.2 1563.6 1593" y="1054.5" font-size="54">200</text>
<text transform="scale(0.9,1)" x="1671.2 1700.6 1730.1" y="1054.5" font-size="54">300</text>
<text transform="scale(0.9,1)" x="1808.2 1837.7 1867.1" y="1054.5" font-size="54">400</text>
<text transform="scale(0.9,1)" x="1945.3 1974.7 2004.2" y="1054.5" font-size="54">500</text>
<text transform="scale(0.9,1)" x="2082.3 2111.7 2141.2" y="1054.5" font-size="54">600</text>
<text transform="scale(0.9,1)" x="2219.3 2248.8 2278.2" y="1054.5" font-size="54">700</text>
<text transform="scale(0.9,1)" x="2356.4 2385.8 2415.2" y="1054.5" font-size="54">800</text>
<text transform="scale(0.9,1)" x="365" y="1133" font-size="61">2</text>
<text transform="scale(0.95,1)" x="404.6 442.5 476.4 513.5 540.6" y="1133" font-size="61">Theta</text>
<text transform="scale(1,1)" x="580.7 601.5 633.7 662.5 698.1 725.2 755.7 786.2" y="1127.5 1133 1133 1133 1133 1133 1133 1127.5" font-size="61">(degree)</text>
<text transform="scale(0.85,1)" x="1677.9 1720.6 1748.3 1796.5 1830.7" y="1141" font-size="61">Raman</text>
<text transform="scale(1,1)" x="1616.4 1643.5 1680.8 1709.6 1741.8" y="1141" font-size="61">shift</text>
<text transform="scale(0.88,1)" x="2051.6 2077.7 2105.5" y="1135.5 1141 1141" font-size="61">(cm</text>
<text transform="scale(0.85,1)" x="2223.5 2248.7" y="1116.2" font-size="41.5">−1</text>
<text transform="scale(1,1)" x="1932.7" y="1135.5" font-size="61">)</text>
<text transform="rotate(-90) scale(1,1)" x="-705.6 -686 -656.9 -637.2 -614.9 -588.5 -562.1 -538.4 -520.1" y="54.1" font-size="48.5">Intensity</text>
<text transform="rotate(-90) scale(1,1)" x="-465 -447.6 -424.1 -401.6 -376.7 -352.8" y="49.7 54.1 54.1 54.1 54.1 49.7" font-size="48.5">(a.u.)</text>
<text transform="rotate(-90) scale(1,1)" x="-756.8 -731.5 -694.1 -668.8 -640 -606.1 -572.1 -541.6 -518" y="1175" font-size="62">Intensity</text>
<text transform="rotate(-90) scale(1,1)" x="-447.2 -424.8 -394.4 -365.5 -333.4 -302.8" y="1169.4 1175 1175 1175 1175 1169.4" font-size="62">(a.u.)</text>
</g>
<g font-family="'Liberation Sans',sans-serif" fill="#000" font-size="48">
<text x="15" y="61.8" font-size="67.6" textLength="43.4" lengthAdjust="spacingAndGlyphs">A</text>
<text x="1133" y="73.8" font-size="67.6" textLength="43.4" lengthAdjust="spacingAndGlyphs">B</text>
<text x="684" y="185" font-size="49.9" textLength="242.7" lengthAdjust="spacingAndGlyphs">Fe-TNs 6%</text>
<text x="688.5" y="358.4" font-size="49.9" textLength="242.7" lengthAdjust="spacingAndGlyphs">Fe-TNs 5%</text>
<text x="683.7" y="497.5" font-size="49.9" textLength="242.7" lengthAdjust="spacingAndGlyphs">Fe-TNs 4%</text>
<text x="688.5" y="644.3" font-size="49.9" textLength="242.7" lengthAdjust="spacingAndGlyphs">Fe-TNs 3%</text>
<text x="772" y="811.7" font-size="49.9" textLength="88" lengthAdjust="spacingAndGlyphs">TNs</text>
<text x="652.5" y="910.5" font-size="49.9" textLength="373.5" lengthAdjust="spacingAndGlyphs">JCPDS 73-17764</text>
<text x="1753.3" y="162.7" font-size="49.9" textLength="242.7" lengthAdjust="spacingAndGlyphs">Fe-TNs 6%</text>
<text x="1766.4" y="337.5" font-size="49.9" textLength="242.7" lengthAdjust="spacingAndGlyphs">Fe-TNs 5%</text>
<text x="1767" y="507.5" font-size="49.9" textLength="242.7" lengthAdjust="spacingAndGlyphs">Fe-TNs 4%</text>
<text x="1776.1" y="664.9" font-size="49.9" textLength="242.7" lengthAdjust="spacingAndGlyphs">Fe-TNs 3%</text>
<text x="1860.7" y="832.1" font-size="49.9" textLength="88" lengthAdjust="spacingAndGlyphs">TNs</text>
</g>
</svg>
</body></html>
